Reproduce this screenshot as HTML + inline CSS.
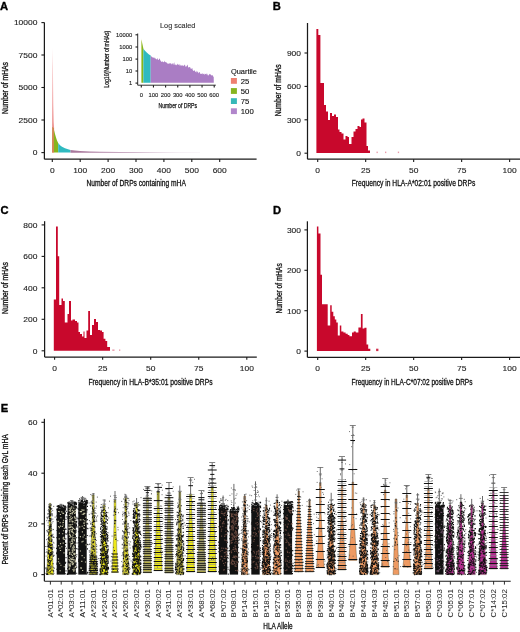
<!DOCTYPE html>
<html><head><meta charset="utf-8"><style>html,body{margin:0;padding:0;background:#fff;overflow:hidden;}svg{display:block;will-change:transform;}</style></head>
<body><svg width="520" height="632" viewBox="0 0 520 632" font-family='"Liberation Sans", sans-serif'>
<rect width="520" height="632" fill="#fff"/>
<text x="0.1" y="9.7" font-size="11.2" text-anchor="start" fill="#000" font-weight="bold" stroke="#000" stroke-width="0.35">A</text>
<text x="272.7" y="9.7" font-size="11.2" text-anchor="start" fill="#000" font-weight="bold" stroke="#000" stroke-width="0.35">B</text>
<text x="0.6" y="213.8" font-size="11.2" text-anchor="start" fill="#000" font-weight="bold" stroke="#000" stroke-width="0.35">C</text>
<text x="273.0" y="213.8" font-size="11.2" text-anchor="start" fill="#000" font-weight="bold" stroke="#000" stroke-width="0.35">D</text>
<text x="0.8" y="411.9" font-size="11.2" text-anchor="start" fill="#000" font-weight="bold" stroke="#000" stroke-width="0.35">E</text>
<defs><linearGradient id="spk" x1="0" y1="0" x2="0" y2="1"><stop offset="0" stop-color="#FBE4E4"/><stop offset="0.45" stop-color="#F4B0B0"/><stop offset="1" stop-color="#E8807C"/></linearGradient></defs>
<path d="M52.0 152.6 L52.2 70 L52.5 47.6 L52.9 65 L53.3 105 L53.7 122 L54.1 128 L54.1 152.6 Z" fill="url(#spk)"/>
<path d="M52.1 152.6 L52.2 127 L54 128 L54 152.6 Z" fill="#D08A52"/>
<path d="M54 152.6 L54 130 L55 134 L56 137.5 L57 140.5 L58.2 143 L58.2 152.6 Z" fill="#86B51C"/>
<path d="M58.2 152.6 L58.2 143 L60 145.3 L62 146.8 L65 148.3 L68 149.3 L70.5 150 L70.5 152.6 Z" fill="#2FBAC0"/>
<defs><linearGradient id="tail" x1="0" y1="0" x2="1" y2="0"><stop offset="0" stop-color="#A8789C"/><stop offset="0.5" stop-color="#B890B0"/><stop offset="1" stop-color="#E8DCE8"/></linearGradient></defs>
<path d="M70.5 152.8 L70.5 150 L75 150.6 L80 151.0 L90 151.5 L100 151.8 L120 152.0 L150 152.2 L180 152.4 L200 152.5 L200 152.8 Z" fill="url(#tail)"/>
<line x1="44.4" y1="22.5" x2="44.4" y2="159.2" stroke="#1a1a1a" stroke-width="1.25"/>
<line x1="41.4" y1="152.6" x2="44.4" y2="152.6" stroke="#1a1a1a" stroke-width="1.1"/>
<text x="37.4" y="155.4" font-size="8.0" text-anchor="end" fill="#222" textLength="4.7" lengthAdjust="spacingAndGlyphs" stroke="#222" stroke-width="0.12">0</text>
<line x1="41.4" y1="120" x2="44.4" y2="120" stroke="#1a1a1a" stroke-width="1.1"/>
<text x="37.4" y="122.8" font-size="8.0" text-anchor="end" fill="#222" textLength="18.8" lengthAdjust="spacingAndGlyphs" stroke="#222" stroke-width="0.12">2500</text>
<line x1="41.4" y1="87.5" x2="44.4" y2="87.5" stroke="#1a1a1a" stroke-width="1.1"/>
<text x="37.4" y="90.3" font-size="8.0" text-anchor="end" fill="#222" textLength="18.8" lengthAdjust="spacingAndGlyphs" stroke="#222" stroke-width="0.12">5000</text>
<line x1="41.4" y1="55" x2="44.4" y2="55" stroke="#1a1a1a" stroke-width="1.1"/>
<text x="37.4" y="57.8" font-size="8.0" text-anchor="end" fill="#222" textLength="18.8" lengthAdjust="spacingAndGlyphs" stroke="#222" stroke-width="0.12">7500</text>
<line x1="41.4" y1="22.6" x2="44.4" y2="22.6" stroke="#1a1a1a" stroke-width="1.1"/>
<text x="37.4" y="25.400000000000002" font-size="8.0" text-anchor="end" fill="#222" textLength="23.5" lengthAdjust="spacingAndGlyphs" stroke="#222" stroke-width="0.12">10000</text>
<line x1="44.4" y1="159.1" x2="256.6" y2="159.1" stroke="#1a1a1a" stroke-width="1.25"/>
<line x1="52.3" y1="159.1" x2="52.3" y2="161.9" stroke="#1a1a1a" stroke-width="1.1"/>
<text x="52.3" y="172.5" font-size="8.0" text-anchor="middle" fill="#222" textLength="4.7" lengthAdjust="spacingAndGlyphs" stroke="#222" stroke-width="0.12">0</text>
<line x1="80.19999999999999" y1="159.1" x2="80.19999999999999" y2="161.9" stroke="#1a1a1a" stroke-width="1.1"/>
<text x="80.19999999999999" y="172.5" font-size="8.0" text-anchor="middle" fill="#222" textLength="14.100000000000001" lengthAdjust="spacingAndGlyphs" stroke="#222" stroke-width="0.12">100</text>
<line x1="108.1" y1="159.1" x2="108.1" y2="161.9" stroke="#1a1a1a" stroke-width="1.1"/>
<text x="108.1" y="172.5" font-size="8.0" text-anchor="middle" fill="#222" textLength="14.100000000000001" lengthAdjust="spacingAndGlyphs" stroke="#222" stroke-width="0.12">200</text>
<line x1="136.0" y1="159.1" x2="136.0" y2="161.9" stroke="#1a1a1a" stroke-width="1.1"/>
<text x="136.0" y="172.5" font-size="8.0" text-anchor="middle" fill="#222" textLength="14.100000000000001" lengthAdjust="spacingAndGlyphs" stroke="#222" stroke-width="0.12">300</text>
<line x1="163.89999999999998" y1="159.1" x2="163.89999999999998" y2="161.9" stroke="#1a1a1a" stroke-width="1.1"/>
<text x="163.89999999999998" y="172.5" font-size="8.0" text-anchor="middle" fill="#222" textLength="14.100000000000001" lengthAdjust="spacingAndGlyphs" stroke="#222" stroke-width="0.12">400</text>
<line x1="191.8" y1="159.1" x2="191.8" y2="161.9" stroke="#1a1a1a" stroke-width="1.1"/>
<text x="191.8" y="172.5" font-size="8.0" text-anchor="middle" fill="#222" textLength="14.100000000000001" lengthAdjust="spacingAndGlyphs" stroke="#222" stroke-width="0.12">500</text>
<line x1="219.7" y1="159.1" x2="219.7" y2="161.9" stroke="#1a1a1a" stroke-width="1.1"/>
<text x="219.7" y="172.5" font-size="8.0" text-anchor="middle" fill="#222" textLength="14.100000000000001" lengthAdjust="spacingAndGlyphs" stroke="#222" stroke-width="0.12">600</text>
<text x="136.2" y="186.0" font-size="9.0" text-anchor="middle" fill="#111" textLength="99.3" lengthAdjust="spacingAndGlyphs" stroke="#111" stroke-width="0.3">Number of DRPs containing mHA</text>
<text x="7.9" y="88.0" font-size="8.4" text-anchor="middle" fill="#111" textLength="52" lengthAdjust="spacingAndGlyphs" transform="rotate(-90 7.9 88.0)" stroke="#111" stroke-width="0.3">Number of mHAs</text>
<text x="177.7" y="28.2" font-size="7.0" text-anchor="middle" fill="#333" textLength="35.4" lengthAdjust="spacingAndGlyphs" stroke="#333" stroke-width="0.12">Log scaled</text>
<path d="M141.4 82.8 L141.4 39.5 L142.4 44 L143.4 48.8 L143.4 82.8 Z" fill="#86B51C"/>
<path d="M141.3 82.8 L141.3 38 L141.6 42 Z" fill="#E8E070" opacity="0.7"/>
<path d="M143.4 82.8 L143.4 48.8 L145 50.8 L147 52.8 L149 54.5 L150.7 55.6 L150.7 82.8 Z" fill="#2FBAC0"/>
<path d="M150.7 82.8 L150.7 55.8 L151.2 56.4 L151.7 56.5 L152.2 57.3 L152.7 57.5 L153.2 57.0 L153.7 58.2 L154.2 57.2 L154.7 58.4 L155.2 57.8 L155.7 59.1 L156.2 59.1 L156.7 59.7 L157.2 57.8 L157.7 59.2 L158.2 59.9 L158.7 60.1 L159.2 58.6 L159.7 58.8 L160.2 60.1 L160.7 60.9 L161.2 61.4 L161.7 61.9 L162.2 61.5 L162.7 61.5 L163.2 62.1 L163.7 62.2 L164.2 61.9 L164.7 60.6 L165.2 62.4 L165.7 61.7 L166.2 62.6 L166.7 62.6 L167.2 63.3 L167.7 63.8 L168.2 63.2 L168.7 63.9 L169.2 63.7 L169.7 63.1 L170.2 63.8 L170.7 62.9 L171.2 63.5 L171.7 64.4 L172.2 64.2 L172.7 62.8 L173.2 64.9 L173.7 63.3 L174.2 62.3 L174.7 64.8 L175.2 65.2 L175.7 64.3 L176.2 64.8 L176.7 65.5 L177.2 63.6 L177.7 64.6 L178.2 64.9 L178.7 64.6 L179.2 64.0 L179.7 65.6 L180.2 66.0 L180.7 64.4 L181.2 65.5 L181.7 65.6 L182.2 66.0 L182.7 65.0 L183.2 65.5 L183.7 66.3 L184.2 65.3 L184.7 64.4 L185.2 65.4 L185.7 67.2 L186.2 65.6 L186.7 67.0 L187.2 65.3 L187.7 64.5 L188.2 67.7 L188.7 67.3 L189.2 66.9 L189.7 67.2 L190.2 67.2 L190.7 68.7 L191.2 68.7 L191.7 68.8 L192.2 67.8 L192.7 69.9 L193.2 70.7 L193.7 71.1 L194.2 70.0 L194.7 70.7 L195.2 71.4 L195.7 72.3 L196.2 70.5 L196.7 72.5 L197.2 72.3 L197.7 71.1 L198.2 73.5 L198.7 72.4 L199.2 72.2 L199.7 71.9 L200.2 73.5 L200.7 74.1 L201.2 74.0 L201.7 73.6 L202.2 74.4 L202.7 73.1 L203.2 73.8 L203.7 74.3 L204.2 73.5 L204.7 75.0 L205.2 73.9 L205.7 73.9 L206.2 73.2 L206.7 74.7 L207.2 73.5 L207.7 75.3 L208.2 75.4 L208.7 75.3 L209.2 73.8 L209.7 74.4 L210.2 74.2 L210.7 74.4 L211.2 75.2 L211.7 75.6 L212.2 75.1 L212.7 75.6 L213.2 76.5 L213.7 76.9 L213.8 82.8 Z" fill="#AA7DC4"/>
<line x1="137.7" y1="33.5" x2="137.7" y2="85.2" stroke="#1a1a1a" stroke-width="0.9"/>
<line x1="135.5" y1="83.1" x2="137.7" y2="83.1" stroke="#1a1a1a" stroke-width="1.1"/>
<text x="132.2" y="85.05999999999999" font-size="5.6" text-anchor="end" fill="#222" textLength="3.25" lengthAdjust="spacingAndGlyphs" stroke="#222" stroke-width="0.12">1</text>
<line x1="135.5" y1="71" x2="137.7" y2="71" stroke="#1a1a1a" stroke-width="1.1"/>
<text x="132.2" y="72.96" font-size="5.6" text-anchor="end" fill="#222" textLength="6.5" lengthAdjust="spacingAndGlyphs" stroke="#222" stroke-width="0.12">10</text>
<line x1="135.5" y1="59.1" x2="137.7" y2="59.1" stroke="#1a1a1a" stroke-width="1.1"/>
<text x="132.2" y="61.06" font-size="5.6" text-anchor="end" fill="#222" textLength="9.75" lengthAdjust="spacingAndGlyphs" stroke="#222" stroke-width="0.12">100</text>
<line x1="135.5" y1="47.0" x2="137.7" y2="47.0" stroke="#1a1a1a" stroke-width="1.1"/>
<text x="132.2" y="48.96" font-size="5.6" text-anchor="end" fill="#222" textLength="13.0" lengthAdjust="spacingAndGlyphs" stroke="#222" stroke-width="0.12">1000</text>
<line x1="135.5" y1="34.8" x2="137.7" y2="34.8" stroke="#1a1a1a" stroke-width="1.1"/>
<text x="132.2" y="36.76" font-size="5.6" text-anchor="end" fill="#222" textLength="16.25" lengthAdjust="spacingAndGlyphs" stroke="#222" stroke-width="0.12">10000</text>
<line x1="137.7" y1="85.2" x2="215.8" y2="85.2" stroke="#1a1a1a" stroke-width="0.9"/>
<line x1="141.3" y1="85.2" x2="141.3" y2="87.4" stroke="#1a1a1a" stroke-width="1.1"/>
<text x="141.3" y="96.6" font-size="5.6" text-anchor="middle" fill="#222" textLength="3.25" lengthAdjust="spacingAndGlyphs" stroke="#222" stroke-width="0.12">0</text>
<line x1="153.45000000000002" y1="85.2" x2="153.45000000000002" y2="87.4" stroke="#1a1a1a" stroke-width="1.1"/>
<text x="153.45000000000002" y="96.6" font-size="5.6" text-anchor="middle" fill="#222" textLength="9.75" lengthAdjust="spacingAndGlyphs" stroke="#222" stroke-width="0.12">100</text>
<line x1="165.60000000000002" y1="85.2" x2="165.60000000000002" y2="87.4" stroke="#1a1a1a" stroke-width="1.1"/>
<text x="165.60000000000002" y="96.6" font-size="5.6" text-anchor="middle" fill="#222" textLength="9.75" lengthAdjust="spacingAndGlyphs" stroke="#222" stroke-width="0.12">200</text>
<line x1="177.75" y1="85.2" x2="177.75" y2="87.4" stroke="#1a1a1a" stroke-width="1.1"/>
<text x="177.75" y="96.6" font-size="5.6" text-anchor="middle" fill="#222" textLength="9.75" lengthAdjust="spacingAndGlyphs" stroke="#222" stroke-width="0.12">300</text>
<line x1="189.9" y1="85.2" x2="189.9" y2="87.4" stroke="#1a1a1a" stroke-width="1.1"/>
<text x="189.9" y="96.6" font-size="5.6" text-anchor="middle" fill="#222" textLength="9.75" lengthAdjust="spacingAndGlyphs" stroke="#222" stroke-width="0.12">400</text>
<line x1="202.05" y1="85.2" x2="202.05" y2="87.4" stroke="#1a1a1a" stroke-width="1.1"/>
<text x="202.05" y="96.6" font-size="5.6" text-anchor="middle" fill="#222" textLength="9.75" lengthAdjust="spacingAndGlyphs" stroke="#222" stroke-width="0.12">500</text>
<line x1="214.20000000000002" y1="85.2" x2="214.20000000000002" y2="87.4" stroke="#1a1a1a" stroke-width="1.1"/>
<text x="214.20000000000002" y="96.6" font-size="5.6" text-anchor="middle" fill="#222" textLength="9.75" lengthAdjust="spacingAndGlyphs" stroke="#222" stroke-width="0.12">600</text>
<text x="177.8" y="107.6" font-size="6.8" text-anchor="middle" fill="#111" textLength="38.5" lengthAdjust="spacingAndGlyphs" stroke="#111" stroke-width="0.25">Number of DRPs</text>
<text x="108.6" y="59.2" font-size="6.8" text-anchor="middle" fill="#111" textLength="57" lengthAdjust="spacingAndGlyphs" transform="rotate(-90 108.6 59.2)" stroke="#111" stroke-width="0.25">Log10(Number of mHAs)</text>
<text x="230.9" y="73.6" font-size="7.0" text-anchor="start" fill="#111" textLength="26" lengthAdjust="spacingAndGlyphs" stroke="#111" stroke-width="0.12">Quartile</text>
<rect x="230.9" y="78.0" width="6" height="5.8" fill="#EE8070"/>
<text x="240.8" y="83.5" font-size="7.0" text-anchor="start" fill="#111" textLength="8.6" lengthAdjust="spacingAndGlyphs" stroke="#111" stroke-width="0.12">25</text>
<rect x="230.9" y="88.1" width="6" height="5.8" fill="#86B41E"/>
<text x="240.8" y="93.6" font-size="7.0" text-anchor="start" fill="#111" textLength="8.6" lengthAdjust="spacingAndGlyphs" stroke="#111" stroke-width="0.12">50</text>
<rect x="230.9" y="98.2" width="6" height="5.8" fill="#36B8B8"/>
<text x="240.8" y="103.7" font-size="7.0" text-anchor="start" fill="#111" textLength="8.6" lengthAdjust="spacingAndGlyphs" stroke="#111" stroke-width="0.12">75</text>
<rect x="230.9" y="108.3" width="6" height="5.8" fill="#B186CB"/>
<text x="240.8" y="113.8" font-size="7.0" text-anchor="start" fill="#111" textLength="12.899999999999999" lengthAdjust="spacingAndGlyphs" stroke="#111" stroke-width="0.12">100</text>
<path d="M316.4 153.1 L316.4 29 L318.3 29 L318.3 35.1 L320.4 35.1 L320.4 83 L324 83 L324 105 L326 105 L326 111.5 L328 111.5 L328 120 L330 120 L330 113 L332 113 L332 116 L334 116 L334 114.5 L336 114.5 L336 117 L338 117 L338 129.5 L339.5 129.5 L339.5 132 L341.5 132 L341.5 133.5 L343.5 133.5 L343.5 139.5 L345.5 139.5 L345.5 136 L347.5 136 L347.5 137 L349 137 L349 144 L351.5 144 L351.5 137 L353.5 137 L353.5 131.5 L355.5 131.5 L355.5 129 L357.5 129 L357.5 126 L359.5 126 L359.5 127 L361 127 L361 119.5 L362.5 119.5 L362.5 118.5 L364.5 118.5 L364.5 122.5 L366.5 122.5 L366.5 146 L368 146 L368 150.5 L370 150.5 L370 153.1 Z" fill="#C8082C"/>
<rect x="376.5" y="151.6" width="1.30" height="1.50" fill="#C8082C" opacity="0.4"/>
<rect x="385" y="151.6" width="1.30" height="1.50" fill="#C8082C" opacity="0.4"/>
<rect x="397.8" y="151.6" width="1.30" height="1.50" fill="#C8082C" opacity="0.4"/>
<line x1="307.5" y1="23" x2="307.5" y2="159.2" stroke="#1a1a1a" stroke-width="1.25"/>
<line x1="304.5" y1="153.2" x2="307.5" y2="153.2" stroke="#1a1a1a" stroke-width="1.1"/>
<text x="301.0" y="156.0" font-size="8.0" text-anchor="end" fill="#222" textLength="4.7" lengthAdjust="spacingAndGlyphs" stroke="#222" stroke-width="0.12">0</text>
<line x1="304.5" y1="119.8" x2="307.5" y2="119.8" stroke="#1a1a1a" stroke-width="1.1"/>
<text x="301.0" y="122.6" font-size="8.0" text-anchor="end" fill="#222" textLength="14.100000000000001" lengthAdjust="spacingAndGlyphs" stroke="#222" stroke-width="0.12">300</text>
<line x1="304.5" y1="86.4" x2="307.5" y2="86.4" stroke="#1a1a1a" stroke-width="1.1"/>
<text x="301.0" y="89.2" font-size="8.0" text-anchor="end" fill="#222" textLength="14.100000000000001" lengthAdjust="spacingAndGlyphs" stroke="#222" stroke-width="0.12">600</text>
<line x1="304.5" y1="53.0" x2="307.5" y2="53.0" stroke="#1a1a1a" stroke-width="1.1"/>
<text x="301.0" y="55.8" font-size="8.0" text-anchor="end" fill="#222" textLength="14.100000000000001" lengthAdjust="spacingAndGlyphs" stroke="#222" stroke-width="0.12">900</text>
<line x1="307.5" y1="159.2" x2="520" y2="159.2" stroke="#1a1a1a" stroke-width="1.25"/>
<line x1="317.7" y1="159.2" x2="317.7" y2="162.0" stroke="#1a1a1a" stroke-width="1.1"/>
<text x="317.7" y="172.5" font-size="8.0" text-anchor="middle" fill="#222" textLength="4.7" lengthAdjust="spacingAndGlyphs" stroke="#222" stroke-width="0.12">0</text>
<line x1="365.68" y1="159.2" x2="365.68" y2="162.0" stroke="#1a1a1a" stroke-width="1.1"/>
<text x="365.68" y="172.5" font-size="8.0" text-anchor="middle" fill="#222" textLength="9.4" lengthAdjust="spacingAndGlyphs" stroke="#222" stroke-width="0.12">25</text>
<line x1="413.65999999999997" y1="159.2" x2="413.65999999999997" y2="162.0" stroke="#1a1a1a" stroke-width="1.1"/>
<text x="413.65999999999997" y="172.5" font-size="8.0" text-anchor="middle" fill="#222" textLength="9.4" lengthAdjust="spacingAndGlyphs" stroke="#222" stroke-width="0.12">50</text>
<line x1="461.64" y1="159.2" x2="461.64" y2="162.0" stroke="#1a1a1a" stroke-width="1.1"/>
<text x="461.64" y="172.5" font-size="8.0" text-anchor="middle" fill="#222" textLength="9.4" lengthAdjust="spacingAndGlyphs" stroke="#222" stroke-width="0.12">75</text>
<line x1="509.62" y1="159.2" x2="509.62" y2="162.0" stroke="#1a1a1a" stroke-width="1.1"/>
<text x="509.62" y="172.5" font-size="8.0" text-anchor="middle" fill="#222" textLength="14.100000000000001" lengthAdjust="spacingAndGlyphs" stroke="#222" stroke-width="0.12">100</text>
<text x="413.5" y="186.1" font-size="9.0" text-anchor="middle" fill="#111" textLength="123.5" lengthAdjust="spacingAndGlyphs" stroke="#111" stroke-width="0.3">Frequency in HLA-A*02:01 positive DRPs</text>
<text x="281.0" y="90.3" font-size="8.4" text-anchor="middle" fill="#111" textLength="52" lengthAdjust="spacingAndGlyphs" transform="rotate(-90 281.0 90.3)" stroke="#111" stroke-width="0.3">Number of mHAs</text>
<path d="M53.8 350.8 L53.8 299.5 L56 299.5 L56 226.4 L57.8 226.4 L57.8 256.3 L59.2 256.3 L59.2 305 L61.5 305 L61.5 298.5 L63 298.5 L63 301 L64.8 301 L64.8 322.5 L67.5 322.5 L67.5 314 L69 314 L69 301 L71 301 L71 320.5 L72.5 320.5 L72.5 319.5 L75 319.5 L75 321 L77 321 L77 322.5 L78.5 322.5 L78.5 332 L80 332 L80 334 L82 334 L82 336.5 L83.5 336.5 L83.5 331.5 L84.5 331.5 L84.5 338 L86.5 338 L86.5 330.5 L88.2 330.5 L88.2 311 L90 311 L90 335 L92 335 L92 325 L94 325 L94 319 L96 319 L96 322 L98 322 L98 330 L100 330 L100 330.5 L102 330.5 L102 332 L103.6 332 L103.6 338.8 L105.4 338.8 L105.4 341.1 L107.2 341.1 L107.2 346.9 L110 346.9 L110 350.8 Z" fill="#C8082C"/>
<rect x="112.3" y="349.5" width="2.20" height="1.30" fill="#C8082C" opacity="0.45"/>
<rect x="119" y="349.5" width="1.30" height="1.30" fill="#C8082C" opacity="0.45"/>
<line x1="44.6" y1="221.2" x2="44.6" y2="357.0" stroke="#1a1a1a" stroke-width="1.25"/>
<line x1="41.6" y1="350.8" x2="44.6" y2="350.8" stroke="#1a1a1a" stroke-width="1.1"/>
<text x="37.4" y="353.6" font-size="8.0" text-anchor="end" fill="#222" textLength="4.7" lengthAdjust="spacingAndGlyphs" stroke="#222" stroke-width="0.12">0</text>
<line x1="41.6" y1="319.3" x2="44.6" y2="319.3" stroke="#1a1a1a" stroke-width="1.1"/>
<text x="37.4" y="322.1" font-size="8.0" text-anchor="end" fill="#222" textLength="14.100000000000001" lengthAdjust="spacingAndGlyphs" stroke="#222" stroke-width="0.12">200</text>
<line x1="41.6" y1="287.8" x2="44.6" y2="287.8" stroke="#1a1a1a" stroke-width="1.1"/>
<text x="37.4" y="290.6" font-size="8.0" text-anchor="end" fill="#222" textLength="14.100000000000001" lengthAdjust="spacingAndGlyphs" stroke="#222" stroke-width="0.12">400</text>
<line x1="41.6" y1="256.4" x2="44.6" y2="256.4" stroke="#1a1a1a" stroke-width="1.1"/>
<text x="37.4" y="259.2" font-size="8.0" text-anchor="end" fill="#222" textLength="14.100000000000001" lengthAdjust="spacingAndGlyphs" stroke="#222" stroke-width="0.12">600</text>
<line x1="41.6" y1="224.9" x2="44.6" y2="224.9" stroke="#1a1a1a" stroke-width="1.1"/>
<text x="37.4" y="227.70000000000002" font-size="8.0" text-anchor="end" fill="#222" textLength="14.100000000000001" lengthAdjust="spacingAndGlyphs" stroke="#222" stroke-width="0.12">800</text>
<line x1="44.6" y1="357.0" x2="256.8" y2="357.0" stroke="#1a1a1a" stroke-width="1.25"/>
<line x1="54.6" y1="357.0" x2="54.6" y2="359.8" stroke="#1a1a1a" stroke-width="1.1"/>
<text x="54.6" y="370.5" font-size="8.0" text-anchor="middle" fill="#222" textLength="4.7" lengthAdjust="spacingAndGlyphs" stroke="#222" stroke-width="0.12">0</text>
<line x1="102.65" y1="357.0" x2="102.65" y2="359.8" stroke="#1a1a1a" stroke-width="1.1"/>
<text x="102.65" y="370.5" font-size="8.0" text-anchor="middle" fill="#222" textLength="9.4" lengthAdjust="spacingAndGlyphs" stroke="#222" stroke-width="0.12">25</text>
<line x1="150.7" y1="357.0" x2="150.7" y2="359.8" stroke="#1a1a1a" stroke-width="1.1"/>
<text x="150.7" y="370.5" font-size="8.0" text-anchor="middle" fill="#222" textLength="9.4" lengthAdjust="spacingAndGlyphs" stroke="#222" stroke-width="0.12">50</text>
<line x1="198.74999999999997" y1="357.0" x2="198.74999999999997" y2="359.8" stroke="#1a1a1a" stroke-width="1.1"/>
<text x="198.74999999999997" y="370.5" font-size="8.0" text-anchor="middle" fill="#222" textLength="9.4" lengthAdjust="spacingAndGlyphs" stroke="#222" stroke-width="0.12">75</text>
<line x1="246.79999999999998" y1="357.0" x2="246.79999999999998" y2="359.8" stroke="#1a1a1a" stroke-width="1.1"/>
<text x="246.79999999999998" y="370.5" font-size="8.0" text-anchor="middle" fill="#222" textLength="14.100000000000001" lengthAdjust="spacingAndGlyphs" stroke="#222" stroke-width="0.12">100</text>
<text x="150.5" y="384.6" font-size="9.0" text-anchor="middle" fill="#111" textLength="124" lengthAdjust="spacingAndGlyphs" stroke="#111" stroke-width="0.3">Frequency in HLA-B*35:01 positive DRPs</text>
<text x="8.2" y="288" font-size="8.4" text-anchor="middle" fill="#111" textLength="52" lengthAdjust="spacingAndGlyphs" transform="rotate(-90 8.2 288)" stroke="#111" stroke-width="0.3">Number of mHAs</text>
<path d="M316.9 351.1 L316.9 226.4 L318.4 226.4 L318.4 233.5 L320.5 233.5 L320.5 274.8 L322.0 274.8 L322.0 304.2 L327.7 304.2 L327.7 325.5 L330.2 325.5 L330.2 305.2 L331.7 305.2 L331.7 311.8 L333.3 311.8 L333.3 316.3 L334.8 316.3 L334.8 319.4 L336.3 319.4 L336.3 322.4 L337.8 322.4 L337.8 335.6 L339.8 335.6 L339.8 325.5 L341.3 325.5 L341.3 331.6 L343.4 331.6 L343.4 332.5 L345.6 332.5 L345.6 333.8 L347.7 333.8 L347.7 335 L349.4 335 L349.4 336.3 L352 336.3 L352 332.5 L353.7 332.5 L353.7 331.6 L355.8 331.6 L355.8 332.5 L358.4 332.5 L358.4 327.4 L360.9 327.4 L360.9 314.1 L362.6 314.1 L362.6 328.6 L364.4 328.6 L364.4 327.8 L366.5 327.8 L366.5 344.4 L368.2 344.4 L368.2 348.7 L370.3 348.7 L370.3 351.1 Z" fill="#C8082C"/>
<rect x="376.1" y="348.7" width="2.30" height="2.40" fill="#C8082C" opacity="0.85"/>
<line x1="307.4" y1="221.3" x2="307.4" y2="357.3" stroke="#1a1a1a" stroke-width="1.25"/>
<line x1="304.4" y1="351.1" x2="307.4" y2="351.1" stroke="#1a1a1a" stroke-width="1.1"/>
<text x="301.0" y="353.90000000000003" font-size="8.0" text-anchor="end" fill="#222" textLength="4.7" lengthAdjust="spacingAndGlyphs" stroke="#222" stroke-width="0.12">0</text>
<line x1="304.4" y1="310.7" x2="307.4" y2="310.7" stroke="#1a1a1a" stroke-width="1.1"/>
<text x="301.0" y="313.5" font-size="8.0" text-anchor="end" fill="#222" textLength="14.100000000000001" lengthAdjust="spacingAndGlyphs" stroke="#222" stroke-width="0.12">100</text>
<line x1="304.4" y1="270.3" x2="307.4" y2="270.3" stroke="#1a1a1a" stroke-width="1.1"/>
<text x="301.0" y="273.1" font-size="8.0" text-anchor="end" fill="#222" textLength="14.100000000000001" lengthAdjust="spacingAndGlyphs" stroke="#222" stroke-width="0.12">200</text>
<line x1="304.4" y1="229.9" x2="307.4" y2="229.9" stroke="#1a1a1a" stroke-width="1.1"/>
<text x="301.0" y="232.70000000000002" font-size="8.0" text-anchor="end" fill="#222" textLength="14.100000000000001" lengthAdjust="spacingAndGlyphs" stroke="#222" stroke-width="0.12">300</text>
<line x1="307.4" y1="357.3" x2="520" y2="357.3" stroke="#1a1a1a" stroke-width="1.25"/>
<line x1="317.7" y1="357.3" x2="317.7" y2="360.1" stroke="#1a1a1a" stroke-width="1.1"/>
<text x="317.7" y="370.5" font-size="8.0" text-anchor="middle" fill="#222" textLength="4.7" lengthAdjust="spacingAndGlyphs" stroke="#222" stroke-width="0.12">0</text>
<line x1="365.68" y1="357.3" x2="365.68" y2="360.1" stroke="#1a1a1a" stroke-width="1.1"/>
<text x="365.68" y="370.5" font-size="8.0" text-anchor="middle" fill="#222" textLength="9.4" lengthAdjust="spacingAndGlyphs" stroke="#222" stroke-width="0.12">25</text>
<line x1="413.65999999999997" y1="357.3" x2="413.65999999999997" y2="360.1" stroke="#1a1a1a" stroke-width="1.1"/>
<text x="413.65999999999997" y="370.5" font-size="8.0" text-anchor="middle" fill="#222" textLength="9.4" lengthAdjust="spacingAndGlyphs" stroke="#222" stroke-width="0.12">50</text>
<line x1="461.64" y1="357.3" x2="461.64" y2="360.1" stroke="#1a1a1a" stroke-width="1.1"/>
<text x="461.64" y="370.5" font-size="8.0" text-anchor="middle" fill="#222" textLength="9.4" lengthAdjust="spacingAndGlyphs" stroke="#222" stroke-width="0.12">75</text>
<line x1="509.62" y1="357.3" x2="509.62" y2="360.1" stroke="#1a1a1a" stroke-width="1.1"/>
<text x="509.62" y="370.5" font-size="8.0" text-anchor="middle" fill="#222" textLength="14.100000000000001" lengthAdjust="spacingAndGlyphs" stroke="#222" stroke-width="0.12">100</text>
<text x="412.0" y="384.6" font-size="9.0" text-anchor="middle" fill="#111" textLength="121" lengthAdjust="spacingAndGlyphs" stroke="#111" stroke-width="0.3">Frequency in HLA-C*07:02 positive DRPs</text>
<text x="281.6" y="288.4" font-size="8.4" text-anchor="middle" fill="#111" textLength="50.4" lengthAdjust="spacingAndGlyphs" transform="rotate(-90 281.6 288.4)" stroke="#111" stroke-width="0.3">Number of mHAs</text>
<line x1="44.4" y1="418.8" x2="44.4" y2="581.2" stroke="#1a1a1a" stroke-width="1.25"/>
<line x1="41.4" y1="574.6" x2="44.4" y2="574.6" stroke="#1a1a1a" stroke-width="1.1"/>
<text x="37.4" y="577.4" font-size="8.0" text-anchor="end" fill="#222" textLength="4.7" lengthAdjust="spacingAndGlyphs" stroke="#222" stroke-width="0.12">0</text>
<line x1="41.4" y1="523.9" x2="44.4" y2="523.9" stroke="#1a1a1a" stroke-width="1.1"/>
<text x="37.4" y="526.6999999999999" font-size="8.0" text-anchor="end" fill="#222" textLength="9.4" lengthAdjust="spacingAndGlyphs" stroke="#222" stroke-width="0.12">20</text>
<line x1="41.4" y1="473.2" x2="44.4" y2="473.2" stroke="#1a1a1a" stroke-width="1.1"/>
<text x="37.4" y="476.0" font-size="8.0" text-anchor="end" fill="#222" textLength="9.4" lengthAdjust="spacingAndGlyphs" stroke="#222" stroke-width="0.12">40</text>
<line x1="41.4" y1="422.3" x2="44.4" y2="422.3" stroke="#1a1a1a" stroke-width="1.1"/>
<text x="37.4" y="425.1" font-size="8.0" text-anchor="end" fill="#222" textLength="9.4" lengthAdjust="spacingAndGlyphs" stroke="#222" stroke-width="0.12">60</text>
<line x1="44.4" y1="581.2" x2="510.7" y2="581.2" stroke="#1a1a1a" stroke-width="1.1"/>
<line x1="50.4" y1="581.2" x2="50.4" y2="584.6" stroke="#1a1a1a" stroke-width="0.9"/>
<text x="52.6" y="589.2" font-size="6.6" text-anchor="end" fill="#2a2a2a" textLength="28.2" lengthAdjust="spacingAndGlyphs" transform="rotate(-90 52.6 589.2)" stroke="#2a2a2a" stroke-width="0.05">A*01:01</text>
<line x1="61.21" y1="581.2" x2="61.21" y2="584.6" stroke="#1a1a1a" stroke-width="0.9"/>
<text x="63.410000000000004" y="589.2" font-size="6.6" text-anchor="end" fill="#2a2a2a" textLength="28.2" lengthAdjust="spacingAndGlyphs" transform="rotate(-90 63.410000000000004 589.2)" stroke="#2a2a2a" stroke-width="0.05">A*02:01</text>
<line x1="72.02" y1="581.2" x2="72.02" y2="584.6" stroke="#1a1a1a" stroke-width="0.9"/>
<text x="74.22" y="589.2" font-size="6.6" text-anchor="end" fill="#2a2a2a" textLength="28.2" lengthAdjust="spacingAndGlyphs" transform="rotate(-90 74.22 589.2)" stroke="#2a2a2a" stroke-width="0.05">A*03:01</text>
<line x1="82.83" y1="581.2" x2="82.83" y2="584.6" stroke="#1a1a1a" stroke-width="0.9"/>
<text x="85.03" y="589.2" font-size="6.6" text-anchor="end" fill="#2a2a2a" textLength="28.2" lengthAdjust="spacingAndGlyphs" transform="rotate(-90 85.03 589.2)" stroke="#2a2a2a" stroke-width="0.05">A*11:01</text>
<line x1="93.64" y1="581.2" x2="93.64" y2="584.6" stroke="#1a1a1a" stroke-width="0.9"/>
<text x="95.84" y="589.2" font-size="6.6" text-anchor="end" fill="#2a2a2a" textLength="28.2" lengthAdjust="spacingAndGlyphs" transform="rotate(-90 95.84 589.2)" stroke="#2a2a2a" stroke-width="0.05">A*23:01</text>
<line x1="104.45" y1="581.2" x2="104.45" y2="584.6" stroke="#1a1a1a" stroke-width="0.9"/>
<text x="106.65" y="589.2" font-size="6.6" text-anchor="end" fill="#2a2a2a" textLength="28.2" lengthAdjust="spacingAndGlyphs" transform="rotate(-90 106.65 589.2)" stroke="#2a2a2a" stroke-width="0.05">A*24:02</text>
<line x1="115.25999999999999" y1="581.2" x2="115.25999999999999" y2="584.6" stroke="#1a1a1a" stroke-width="0.9"/>
<text x="117.46" y="589.2" font-size="6.6" text-anchor="end" fill="#2a2a2a" textLength="28.2" lengthAdjust="spacingAndGlyphs" transform="rotate(-90 117.46 589.2)" stroke="#2a2a2a" stroke-width="0.05">A*25:01</text>
<line x1="126.07" y1="581.2" x2="126.07" y2="584.6" stroke="#1a1a1a" stroke-width="0.9"/>
<text x="128.26999999999998" y="589.2" font-size="6.6" text-anchor="end" fill="#2a2a2a" textLength="28.2" lengthAdjust="spacingAndGlyphs" transform="rotate(-90 128.26999999999998 589.2)" stroke="#2a2a2a" stroke-width="0.05">A*26:01</text>
<line x1="136.88" y1="581.2" x2="136.88" y2="584.6" stroke="#1a1a1a" stroke-width="0.9"/>
<text x="139.07999999999998" y="589.2" font-size="6.6" text-anchor="end" fill="#2a2a2a" textLength="28.2" lengthAdjust="spacingAndGlyphs" transform="rotate(-90 139.07999999999998 589.2)" stroke="#2a2a2a" stroke-width="0.05">A*29:02</text>
<line x1="147.69" y1="581.2" x2="147.69" y2="584.6" stroke="#1a1a1a" stroke-width="0.9"/>
<text x="149.89" y="589.2" font-size="6.6" text-anchor="end" fill="#2a2a2a" textLength="28.2" lengthAdjust="spacingAndGlyphs" transform="rotate(-90 149.89 589.2)" stroke="#2a2a2a" stroke-width="0.05">A*30:01</text>
<line x1="158.5" y1="581.2" x2="158.5" y2="584.6" stroke="#1a1a1a" stroke-width="0.9"/>
<text x="160.7" y="589.2" font-size="6.6" text-anchor="end" fill="#2a2a2a" textLength="28.2" lengthAdjust="spacingAndGlyphs" transform="rotate(-90 160.7 589.2)" stroke="#2a2a2a" stroke-width="0.05">A*30:02</text>
<line x1="169.31" y1="581.2" x2="169.31" y2="584.6" stroke="#1a1a1a" stroke-width="0.9"/>
<text x="171.51" y="589.2" font-size="6.6" text-anchor="end" fill="#2a2a2a" textLength="28.2" lengthAdjust="spacingAndGlyphs" transform="rotate(-90 171.51 589.2)" stroke="#2a2a2a" stroke-width="0.05">A*31:01</text>
<line x1="180.12" y1="581.2" x2="180.12" y2="584.6" stroke="#1a1a1a" stroke-width="0.9"/>
<text x="182.32" y="589.2" font-size="6.6" text-anchor="end" fill="#2a2a2a" textLength="28.2" lengthAdjust="spacingAndGlyphs" transform="rotate(-90 182.32 589.2)" stroke="#2a2a2a" stroke-width="0.05">A*32:01</text>
<line x1="190.93" y1="581.2" x2="190.93" y2="584.6" stroke="#1a1a1a" stroke-width="0.9"/>
<text x="193.13" y="589.2" font-size="6.6" text-anchor="end" fill="#2a2a2a" textLength="28.2" lengthAdjust="spacingAndGlyphs" transform="rotate(-90 193.13 589.2)" stroke="#2a2a2a" stroke-width="0.05">A*33:01</text>
<line x1="201.74" y1="581.2" x2="201.74" y2="584.6" stroke="#1a1a1a" stroke-width="0.9"/>
<text x="203.94" y="589.2" font-size="6.6" text-anchor="end" fill="#2a2a2a" textLength="28.2" lengthAdjust="spacingAndGlyphs" transform="rotate(-90 203.94 589.2)" stroke="#2a2a2a" stroke-width="0.05">A*68:01</text>
<line x1="212.55" y1="581.2" x2="212.55" y2="584.6" stroke="#1a1a1a" stroke-width="0.9"/>
<text x="214.75" y="589.2" font-size="6.6" text-anchor="end" fill="#2a2a2a" textLength="28.2" lengthAdjust="spacingAndGlyphs" transform="rotate(-90 214.75 589.2)" stroke="#2a2a2a" stroke-width="0.05">A*68:02</text>
<line x1="223.36" y1="581.2" x2="223.36" y2="584.6" stroke="#1a1a1a" stroke-width="0.9"/>
<text x="225.56" y="589.2" font-size="6.6" text-anchor="end" fill="#2a2a2a" textLength="28.2" lengthAdjust="spacingAndGlyphs" transform="rotate(-90 225.56 589.2)" stroke="#2a2a2a" stroke-width="0.05">B*07:02</text>
<line x1="234.17000000000002" y1="581.2" x2="234.17000000000002" y2="584.6" stroke="#1a1a1a" stroke-width="0.9"/>
<text x="236.37" y="589.2" font-size="6.6" text-anchor="end" fill="#2a2a2a" textLength="28.2" lengthAdjust="spacingAndGlyphs" transform="rotate(-90 236.37 589.2)" stroke="#2a2a2a" stroke-width="0.05">B*08:01</text>
<line x1="244.98000000000002" y1="581.2" x2="244.98000000000002" y2="584.6" stroke="#1a1a1a" stroke-width="0.9"/>
<text x="247.18" y="589.2" font-size="6.6" text-anchor="end" fill="#2a2a2a" textLength="28.2" lengthAdjust="spacingAndGlyphs" transform="rotate(-90 247.18 589.2)" stroke="#2a2a2a" stroke-width="0.05">B*14:02</text>
<line x1="255.79000000000002" y1="581.2" x2="255.79000000000002" y2="584.6" stroke="#1a1a1a" stroke-width="0.9"/>
<text x="257.99" y="589.2" font-size="6.6" text-anchor="end" fill="#2a2a2a" textLength="28.2" lengthAdjust="spacingAndGlyphs" transform="rotate(-90 257.99 589.2)" stroke="#2a2a2a" stroke-width="0.05">B*15:01</text>
<line x1="266.6" y1="581.2" x2="266.6" y2="584.6" stroke="#1a1a1a" stroke-width="0.9"/>
<text x="268.8" y="589.2" font-size="6.6" text-anchor="end" fill="#2a2a2a" textLength="28.2" lengthAdjust="spacingAndGlyphs" transform="rotate(-90 268.8 589.2)" stroke="#2a2a2a" stroke-width="0.05">B*18:01</text>
<line x1="277.41" y1="581.2" x2="277.41" y2="584.6" stroke="#1a1a1a" stroke-width="0.9"/>
<text x="279.61" y="589.2" font-size="6.6" text-anchor="end" fill="#2a2a2a" textLength="28.2" lengthAdjust="spacingAndGlyphs" transform="rotate(-90 279.61 589.2)" stroke="#2a2a2a" stroke-width="0.05">B*27:05</text>
<line x1="288.22" y1="581.2" x2="288.22" y2="584.6" stroke="#1a1a1a" stroke-width="0.9"/>
<text x="290.42" y="589.2" font-size="6.6" text-anchor="end" fill="#2a2a2a" textLength="28.2" lengthAdjust="spacingAndGlyphs" transform="rotate(-90 290.42 589.2)" stroke="#2a2a2a" stroke-width="0.05">B*35:01</text>
<line x1="299.03000000000003" y1="581.2" x2="299.03000000000003" y2="584.6" stroke="#1a1a1a" stroke-width="0.9"/>
<text x="301.23" y="589.2" font-size="6.6" text-anchor="end" fill="#2a2a2a" textLength="28.2" lengthAdjust="spacingAndGlyphs" transform="rotate(-90 301.23 589.2)" stroke="#2a2a2a" stroke-width="0.05">B*35:03</text>
<line x1="309.84" y1="581.2" x2="309.84" y2="584.6" stroke="#1a1a1a" stroke-width="0.9"/>
<text x="312.03999999999996" y="589.2" font-size="6.6" text-anchor="end" fill="#2a2a2a" textLength="28.2" lengthAdjust="spacingAndGlyphs" transform="rotate(-90 312.03999999999996 589.2)" stroke="#2a2a2a" stroke-width="0.05">B*38:01</text>
<line x1="320.65" y1="581.2" x2="320.65" y2="584.6" stroke="#1a1a1a" stroke-width="0.9"/>
<text x="322.84999999999997" y="589.2" font-size="6.6" text-anchor="end" fill="#2a2a2a" textLength="28.2" lengthAdjust="spacingAndGlyphs" transform="rotate(-90 322.84999999999997 589.2)" stroke="#2a2a2a" stroke-width="0.05">B*39:01</text>
<line x1="331.46" y1="581.2" x2="331.46" y2="584.6" stroke="#1a1a1a" stroke-width="0.9"/>
<text x="333.65999999999997" y="589.2" font-size="6.6" text-anchor="end" fill="#2a2a2a" textLength="28.2" lengthAdjust="spacingAndGlyphs" transform="rotate(-90 333.65999999999997 589.2)" stroke="#2a2a2a" stroke-width="0.05">B*40:01</text>
<line x1="342.27" y1="581.2" x2="342.27" y2="584.6" stroke="#1a1a1a" stroke-width="0.9"/>
<text x="344.46999999999997" y="589.2" font-size="6.6" text-anchor="end" fill="#2a2a2a" textLength="28.2" lengthAdjust="spacingAndGlyphs" transform="rotate(-90 344.46999999999997 589.2)" stroke="#2a2a2a" stroke-width="0.05">B*40:02</text>
<line x1="353.08" y1="581.2" x2="353.08" y2="584.6" stroke="#1a1a1a" stroke-width="0.9"/>
<text x="355.28" y="589.2" font-size="6.6" text-anchor="end" fill="#2a2a2a" textLength="28.2" lengthAdjust="spacingAndGlyphs" transform="rotate(-90 355.28 589.2)" stroke="#2a2a2a" stroke-width="0.05">B*42:01</text>
<line x1="363.89" y1="581.2" x2="363.89" y2="584.6" stroke="#1a1a1a" stroke-width="0.9"/>
<text x="366.09" y="589.2" font-size="6.6" text-anchor="end" fill="#2a2a2a" textLength="28.2" lengthAdjust="spacingAndGlyphs" transform="rotate(-90 366.09 589.2)" stroke="#2a2a2a" stroke-width="0.05">B*44:02</text>
<line x1="374.7" y1="581.2" x2="374.7" y2="584.6" stroke="#1a1a1a" stroke-width="0.9"/>
<text x="376.9" y="589.2" font-size="6.6" text-anchor="end" fill="#2a2a2a" textLength="28.2" lengthAdjust="spacingAndGlyphs" transform="rotate(-90 376.9 589.2)" stroke="#2a2a2a" stroke-width="0.05">B*44:03</text>
<line x1="385.51" y1="581.2" x2="385.51" y2="584.6" stroke="#1a1a1a" stroke-width="0.9"/>
<text x="387.71" y="589.2" font-size="6.6" text-anchor="end" fill="#2a2a2a" textLength="28.2" lengthAdjust="spacingAndGlyphs" transform="rotate(-90 387.71 589.2)" stroke="#2a2a2a" stroke-width="0.05">B*45:01</text>
<line x1="396.32" y1="581.2" x2="396.32" y2="584.6" stroke="#1a1a1a" stroke-width="0.9"/>
<text x="398.52" y="589.2" font-size="6.6" text-anchor="end" fill="#2a2a2a" textLength="28.2" lengthAdjust="spacingAndGlyphs" transform="rotate(-90 398.52 589.2)" stroke="#2a2a2a" stroke-width="0.05">B*51:01</text>
<line x1="407.13" y1="581.2" x2="407.13" y2="584.6" stroke="#1a1a1a" stroke-width="0.9"/>
<text x="409.33" y="589.2" font-size="6.6" text-anchor="end" fill="#2a2a2a" textLength="28.2" lengthAdjust="spacingAndGlyphs" transform="rotate(-90 409.33 589.2)" stroke="#2a2a2a" stroke-width="0.05">B*53:02</text>
<line x1="417.94" y1="581.2" x2="417.94" y2="584.6" stroke="#1a1a1a" stroke-width="0.9"/>
<text x="420.14" y="589.2" font-size="6.6" text-anchor="end" fill="#2a2a2a" textLength="28.2" lengthAdjust="spacingAndGlyphs" transform="rotate(-90 420.14 589.2)" stroke="#2a2a2a" stroke-width="0.05">B*57:01</text>
<line x1="428.75" y1="581.2" x2="428.75" y2="584.6" stroke="#1a1a1a" stroke-width="0.9"/>
<text x="430.95" y="589.2" font-size="6.6" text-anchor="end" fill="#2a2a2a" textLength="28.2" lengthAdjust="spacingAndGlyphs" transform="rotate(-90 430.95 589.2)" stroke="#2a2a2a" stroke-width="0.05">B*58:01</text>
<line x1="439.56" y1="581.2" x2="439.56" y2="584.6" stroke="#1a1a1a" stroke-width="0.9"/>
<text x="441.76" y="589.2" font-size="6.6" text-anchor="end" fill="#2a2a2a" textLength="28.2" lengthAdjust="spacingAndGlyphs" transform="rotate(-90 441.76 589.2)" stroke="#2a2a2a" stroke-width="0.05">C*03:03</text>
<line x1="450.37" y1="581.2" x2="450.37" y2="584.6" stroke="#1a1a1a" stroke-width="0.9"/>
<text x="452.57" y="589.2" font-size="6.6" text-anchor="end" fill="#2a2a2a" textLength="28.2" lengthAdjust="spacingAndGlyphs" transform="rotate(-90 452.57 589.2)" stroke="#2a2a2a" stroke-width="0.05">C*05:01</text>
<line x1="461.18" y1="581.2" x2="461.18" y2="584.6" stroke="#1a1a1a" stroke-width="0.9"/>
<text x="463.38" y="589.2" font-size="6.6" text-anchor="end" fill="#2a2a2a" textLength="28.2" lengthAdjust="spacingAndGlyphs" transform="rotate(-90 463.38 589.2)" stroke="#2a2a2a" stroke-width="0.05">C*06:02</text>
<line x1="471.99" y1="581.2" x2="471.99" y2="584.6" stroke="#1a1a1a" stroke-width="0.9"/>
<text x="474.19" y="589.2" font-size="6.6" text-anchor="end" fill="#2a2a2a" textLength="28.2" lengthAdjust="spacingAndGlyphs" transform="rotate(-90 474.19 589.2)" stroke="#2a2a2a" stroke-width="0.05">C*07:01</text>
<line x1="482.8" y1="581.2" x2="482.8" y2="584.6" stroke="#1a1a1a" stroke-width="0.9"/>
<text x="485.0" y="589.2" font-size="6.6" text-anchor="end" fill="#2a2a2a" textLength="28.2" lengthAdjust="spacingAndGlyphs" transform="rotate(-90 485.0 589.2)" stroke="#2a2a2a" stroke-width="0.05">C*07:02</text>
<line x1="493.61" y1="581.2" x2="493.61" y2="584.6" stroke="#1a1a1a" stroke-width="0.9"/>
<text x="495.81" y="589.2" font-size="6.6" text-anchor="end" fill="#2a2a2a" textLength="28.2" lengthAdjust="spacingAndGlyphs" transform="rotate(-90 495.81 589.2)" stroke="#2a2a2a" stroke-width="0.05">C*14:02</text>
<line x1="504.42" y1="581.2" x2="504.42" y2="584.6" stroke="#1a1a1a" stroke-width="0.9"/>
<text x="506.62" y="589.2" font-size="6.6" text-anchor="end" fill="#2a2a2a" textLength="28.2" lengthAdjust="spacingAndGlyphs" transform="rotate(-90 506.62 589.2)" stroke="#2a2a2a" stroke-width="0.05">C*15:02</text>
<text x="278" y="628.6" font-size="9.0" text-anchor="middle" fill="#111" textLength="29.4" lengthAdjust="spacingAndGlyphs" stroke="#111" stroke-width="0.3">HLA Allele</text>
<text x="7.9" y="499.4" font-size="8.4" text-anchor="middle" fill="#111" textLength="130.4" lengthAdjust="spacingAndGlyphs" transform="rotate(-90 7.9 499.4)" stroke="#111" stroke-width="0.3">Percent of DRPs containing each GvL mHA</text>
<path d="M49.2 503.4 L49.2 506.4 L49.2 509.3 L49.2 512.3 L49.2 515.3 L49.2 518.2 L49.2 521.2 L49.1 524.2 L49.0 527.1 L48.8 530.1 L48.7 533.1 L48.5 536.0 L48.4 539.0 L48.3 542.0 L48.1 544.9 L48.0 547.9 L47.8 550.9 L47.7 553.8 L47.6 556.8 L47.4 559.8 L47.3 562.7 L47.1 565.7 L47.0 568.7 L46.8 571.6 L46.7 574.6 L53.5 574.6 L53.4 571.6 L53.2 568.7 L53.1 565.7 L52.9 562.7 L52.8 559.8 L52.6 556.8 L52.5 553.8 L52.4 550.9 L52.2 547.9 L52.1 544.9 L51.9 542.0 L51.8 539.0 L51.7 536.0 L51.5 533.1 L51.4 530.1 L51.2 527.1 L51.1 524.2 L51.0 521.2 L51.0 518.2 L51.0 515.3 L51.0 512.3 L51.0 509.3 L51.0 506.4 L51.0 503.4Z M103.2 505.0 L103.2 507.9 L103.2 510.8 L103.2 513.7 L103.2 516.6 L103.2 519.5 L103.2 522.4 L103.0 525.3 L102.9 528.2 L102.7 531.1 L102.6 534.0 L102.4 536.9 L102.2 539.8 L102.1 542.7 L101.9 545.6 L101.8 548.5 L101.6 551.4 L101.4 554.3 L101.3 557.2 L101.1 560.1 L101.0 563.0 L100.8 565.9 L100.6 568.8 L100.5 571.7 L100.3 574.6 L108.0 574.6 L107.8 571.7 L107.7 568.8 L107.5 565.9 L107.3 563.0 L107.2 560.1 L107.0 557.2 L106.9 554.3 L106.7 551.4 L106.5 548.5 L106.4 545.6 L106.2 542.7 L106.1 539.8 L105.9 536.9 L105.7 534.0 L105.6 531.1 L105.4 528.2 L105.3 525.3 L105.1 522.4 L105.1 519.5 L105.1 516.6 L105.1 513.7 L105.1 510.8 L105.1 507.9 L105.1 505.0Z M114.1 500.0 L114.1 503.0 L114.1 506.0 L114.1 509.1 L114.1 512.1 L114.1 515.1 L114.1 518.1 L114.1 521.1 L114.0 524.2 L113.9 527.2 L113.8 530.2 L113.7 533.2 L113.6 536.2 L113.5 539.3 L113.3 542.3 L113.2 545.3 L113.1 548.3 L113.0 551.4 L112.9 554.4 L112.8 557.4 L112.7 560.4 L112.5 563.4 L112.4 566.5 L112.3 569.5 L112.2 572.5 L117.7 572.5 L117.6 569.5 L117.5 566.5 L117.4 563.4 L117.3 560.4 L117.1 557.4 L117.0 554.4 L116.9 551.4 L116.8 548.3 L116.7 545.3 L116.6 542.3 L116.5 539.3 L116.3 536.2 L116.2 533.2 L116.1 530.2 L116.0 527.2 L115.9 524.2 L115.9 521.1 L115.9 518.1 L115.9 515.1 L115.9 512.1 L115.9 509.1 L115.9 506.0 L115.9 503.0 L115.9 500.0Z M135.7 503.0 L135.7 506.0 L135.7 509.0 L135.7 511.9 L135.7 514.9 L135.7 517.9 L135.6 520.9 L135.5 523.9 L135.3 526.9 L135.1 529.9 L135.0 532.8 L134.8 535.8 L134.7 538.8 L134.5 541.8 L134.3 544.8 L134.2 547.8 L134.0 550.7 L133.9 553.7 L133.7 556.7 L133.6 559.7 L133.4 562.7 L133.2 565.6 L133.1 568.6 L132.9 571.6 L132.8 574.6 L140.4 574.6 L140.2 571.6 L140.1 568.6 L139.9 565.6 L139.8 562.7 L139.6 559.7 L139.4 556.7 L139.3 553.7 L139.1 550.7 L139.0 547.8 L138.8 544.8 L138.7 541.8 L138.5 538.8 L138.3 535.8 L138.2 532.8 L138.0 529.9 L137.9 526.9 L137.7 523.9 L137.5 520.9 L137.5 517.9 L137.5 514.9 L137.5 511.9 L137.5 509.0 L137.5 506.0 L137.5 503.0Z M157.1 492.0 L157.1 495.3 L157.1 498.6 L157.1 501.8 L157.1 505.1 L157.1 508.4 L157.1 511.7 L156.9 515.0 L156.7 518.2 L156.6 521.5 L156.4 524.8 L156.3 528.1 L156.1 531.4 L155.9 534.6 L155.8 537.9 L155.6 541.2 L155.5 544.5 L155.3 547.7 L155.2 551.0 L155.0 554.3 L154.9 557.6 L154.7 560.9 L154.6 564.1 L154.4 567.4 L154.3 570.7 L162.1 570.7 L162.0 567.4 L161.8 564.1 L161.7 560.9 L161.5 557.6 L161.4 554.3 L161.2 551.0 L161.1 547.7 L160.9 544.5 L160.8 541.2 L160.6 537.9 L160.5 534.6 L160.3 531.4 L160.1 528.1 L160.0 524.8 L159.8 521.5 L159.7 518.2 L159.5 515.0 L159.3 511.7 L159.3 508.4 L159.3 505.1 L159.3 501.8 L159.3 498.6 L159.3 495.3 L159.3 492.0Z M189.5 494.0 L189.5 497.2 L189.5 500.5 L189.5 503.8 L189.5 507.0 L189.5 510.2 L189.5 513.5 L189.3 516.8 L189.2 520.0 L189.0 523.2 L188.9 526.5 L188.7 529.8 L188.5 533.0 L188.4 536.2 L188.2 539.5 L188.1 542.8 L187.9 546.0 L187.8 549.2 L187.6 552.5 L187.5 555.8 L187.3 559.0 L187.2 562.2 L187.0 565.5 L186.9 568.8 L186.7 572.0 L194.5 572.0 L194.4 568.8 L194.2 565.5 L194.1 562.2 L193.9 559.0 L193.8 555.8 L193.6 552.5 L193.5 549.2 L193.3 546.0 L193.2 542.8 L193.0 539.5 L192.9 536.2 L192.7 533.0 L192.6 529.8 L192.4 526.5 L192.2 523.2 L192.1 520.0 L191.9 516.8 L191.8 513.5 L191.7 510.2 L191.7 507.0 L191.7 503.8 L191.7 500.5 L191.7 497.2 L191.7 494.0Z M211.2 487.0 L211.2 490.5 L211.2 494.1 L211.2 497.6 L211.2 501.2 L211.2 504.7 L211.1 508.2 L211.0 511.8 L210.8 515.3 L210.6 518.9 L210.5 522.4 L210.3 526.0 L210.2 529.5 L210.0 533.0 L209.8 536.6 L209.7 540.1 L209.5 543.7 L209.4 547.2 L209.2 550.8 L209.1 554.3 L208.9 557.8 L208.8 561.4 L208.6 564.9 L208.5 568.5 L208.3 572.0 L216.2 572.0 L216.0 568.5 L215.9 564.9 L215.7 561.4 L215.6 557.8 L215.4 554.3 L215.3 550.8 L215.1 547.2 L215.0 543.7 L214.8 540.1 L214.7 536.6 L214.5 533.0 L214.3 529.5 L214.2 526.0 L214.0 522.4 L213.9 518.9 L213.7 515.3 L213.5 511.8 L213.4 508.2 L213.3 504.7 L213.3 501.2 L213.3 497.6 L213.3 494.1 L213.3 490.5 L213.3 487.0Z" fill="#EDE81A" stroke="#3a3a20" stroke-width="0.35"/>
<path d="M243.8 496.0 L243.8 499.3 L243.8 502.6 L243.8 505.8 L243.8 509.1 L243.8 512.4 L243.8 515.6 L243.8 518.9 L243.6 522.2 L243.5 525.5 L243.4 528.8 L243.2 532.0 L243.1 535.3 L243.0 538.6 L242.8 541.9 L242.7 545.1 L242.6 548.4 L242.4 551.7 L242.3 555.0 L242.2 558.2 L242.0 561.5 L241.9 564.8 L241.8 568.0 L241.6 571.3 L241.5 574.6 L247.9 574.6 L247.7 571.3 L247.6 568.0 L247.5 564.8 L247.3 561.5 L247.2 558.2 L247.1 555.0 L246.9 551.7 L246.8 548.4 L246.7 545.1 L246.5 541.9 L246.4 538.6 L246.3 535.3 L246.1 532.0 L246.0 528.8 L245.9 525.5 L245.7 522.2 L245.6 518.9 L245.6 515.6 L245.6 512.4 L245.6 509.1 L245.6 505.8 L245.6 502.6 L245.6 499.3 L245.6 496.0Z M265.4 505.0 L265.4 507.9 L265.4 510.8 L265.4 513.7 L265.4 516.6 L265.4 519.5 L265.3 522.4 L265.2 525.3 L265.0 528.2 L264.9 531.1 L264.7 534.0 L264.5 536.9 L264.4 539.8 L264.2 542.7 L264.1 545.6 L263.9 548.5 L263.8 551.4 L263.6 554.3 L263.4 557.2 L263.3 560.1 L263.1 563.0 L263.0 565.9 L262.8 568.8 L262.6 571.7 L262.5 574.6 L270.1 574.6 L270.0 571.7 L269.8 568.8 L269.6 565.9 L269.5 563.0 L269.3 560.1 L269.2 557.2 L269.0 554.3 L268.9 551.4 L268.7 548.5 L268.5 545.6 L268.4 542.7 L268.2 539.8 L268.1 536.9 L267.9 534.0 L267.7 531.1 L267.6 528.2 L267.4 525.3 L267.3 522.4 L267.2 519.5 L267.2 516.6 L267.2 513.7 L267.2 510.8 L267.2 507.9 L267.2 505.0Z M276.2 500.0 L276.2 503.1 L276.2 506.2 L276.2 509.3 L276.2 512.4 L276.2 515.5 L276.2 518.6 L276.0 521.8 L275.8 524.9 L275.7 528.0 L275.5 531.1 L275.4 534.2 L275.2 537.3 L275.0 540.4 L274.9 543.5 L274.7 546.6 L274.6 549.7 L274.4 552.8 L274.2 556.0 L274.1 559.1 L273.9 562.2 L273.8 565.3 L273.6 568.4 L273.4 571.5 L273.3 574.6 L280.9 574.6 L280.8 571.5 L280.6 568.4 L280.5 565.3 L280.3 562.2 L280.1 559.1 L280.0 556.0 L279.8 552.8 L279.7 549.7 L279.5 546.6 L279.3 543.5 L279.2 540.4 L279.0 537.3 L278.9 534.2 L278.7 531.1 L278.5 528.0 L278.4 524.9 L278.2 521.8 L278.1 518.6 L278.0 515.5 L278.0 512.4 L278.0 509.3 L278.0 506.2 L278.0 503.1 L278.0 500.0Z M298.0 491.0 L298.0 494.4 L298.0 497.8 L298.0 501.1 L297.9 504.5 L297.8 507.9 L297.6 511.2 L297.4 514.6 L297.2 518.0 L297.1 521.4 L296.9 524.8 L296.7 528.1 L296.6 531.5 L296.4 534.9 L296.3 538.2 L296.1 541.6 L296.0 545.0 L295.8 548.4 L295.6 551.8 L295.5 555.1 L295.3 558.5 L295.2 561.9 L295.0 565.2 L294.9 568.6 L294.7 572.0 L302.7 572.0 L302.6 568.6 L302.4 565.2 L302.3 561.9 L302.1 558.5 L302.0 555.1 L301.8 551.8 L301.7 548.4 L301.5 545.0 L301.4 541.6 L301.2 538.2 L301.0 534.9 L300.9 531.5 L300.7 528.1 L300.5 524.8 L300.4 521.4 L300.2 518.0 L300.0 514.6 L299.9 511.2 L299.7 507.9 L299.5 504.5 L299.5 501.1 L299.5 497.8 L299.5 494.4 L299.5 491.0Z M308.8 500.0 L308.8 503.0 L308.8 506.0 L308.8 509.0 L308.7 512.0 L308.6 515.0 L308.4 518.0 L308.2 521.0 L308.1 524.0 L307.9 527.0 L307.7 530.0 L307.6 533.0 L307.4 536.0 L307.2 539.0 L307.1 542.0 L306.9 545.0 L306.8 548.0 L306.6 551.0 L306.5 554.0 L306.3 557.0 L306.1 560.0 L306.0 563.0 L305.8 566.0 L305.7 569.0 L305.5 572.0 L313.5 572.0 L313.4 569.0 L313.2 566.0 L313.1 563.0 L312.9 560.0 L312.8 557.0 L312.6 554.0 L312.5 551.0 L312.3 548.0 L312.2 545.0 L312.0 542.0 L311.8 539.0 L311.7 536.0 L311.5 533.0 L311.4 530.0 L311.2 527.0 L311.0 524.0 L310.9 521.0 L310.7 518.0 L310.5 515.0 L310.3 512.0 L310.3 509.0 L310.3 506.0 L310.3 503.0 L310.3 500.0Z M319.5 483.0 L319.5 486.5 L319.5 490.1 L319.5 493.6 L319.5 497.1 L319.5 500.6 L319.5 504.2 L319.5 507.7 L319.5 511.2 L319.5 514.8 L319.3 518.3 L319.2 521.8 L319.0 525.4 L318.8 528.9 L318.6 532.4 L318.5 535.9 L318.3 539.5 L318.1 543.0 L317.9 546.5 L317.7 550.1 L317.4 553.6 L317.2 557.1 L317.0 560.6 L316.8 564.2 L316.5 567.7 L324.2 567.7 L323.9 564.2 L323.7 560.6 L323.5 557.1 L323.3 553.6 L323.0 550.1 L322.8 546.5 L322.6 543.0 L322.4 539.5 L322.2 535.9 L322.1 532.4 L321.9 528.9 L321.7 525.4 L321.5 521.8 L321.4 518.3 L321.2 514.8 L321.1 511.2 L321.1 507.7 L321.1 504.2 L321.1 500.6 L321.1 497.1 L321.1 493.6 L321.1 490.1 L321.1 486.5 L321.1 483.0Z M330.3 504.0 L330.3 506.9 L330.3 509.9 L330.3 512.8 L330.3 515.8 L330.3 518.7 L330.2 521.6 L330.0 524.6 L329.9 527.5 L329.7 530.5 L329.6 533.4 L329.4 536.4 L329.2 539.3 L329.1 542.2 L328.9 545.2 L328.8 548.1 L328.6 551.1 L328.5 554.0 L328.3 557.0 L328.1 559.9 L328.0 562.8 L327.8 565.8 L327.7 568.7 L327.5 571.7 L327.3 574.6 L335.0 574.6 L334.8 571.7 L334.7 568.7 L334.5 565.8 L334.3 562.8 L334.2 559.9 L334.0 557.0 L333.9 554.0 L333.7 551.1 L333.6 548.1 L333.4 545.2 L333.2 542.2 L333.1 539.3 L332.9 536.4 L332.8 533.4 L332.6 530.5 L332.4 527.5 L332.3 524.6 L332.1 521.6 L332.1 518.7 L332.1 515.8 L332.1 512.8 L332.1 509.9 L332.1 506.9 L332.1 504.0Z M341.2 485.0 L341.2 488.5 L341.2 492.1 L341.2 495.6 L341.2 499.2 L341.2 502.7 L341.2 506.2 L341.2 509.8 L341.2 513.3 L341.1 516.9 L340.9 520.4 L340.8 524.0 L340.6 527.5 L340.4 531.0 L340.3 534.6 L340.1 538.1 L339.9 541.7 L339.7 545.2 L339.5 548.8 L339.3 552.3 L339.1 555.8 L338.8 559.4 L338.6 562.9 L338.4 566.5 L338.1 570.0 L345.8 570.0 L345.6 566.5 L345.3 562.9 L345.1 559.4 L344.9 555.8 L344.7 552.3 L344.5 548.8 L344.3 545.2 L344.1 541.7 L343.9 538.1 L343.7 534.6 L343.5 531.0 L343.3 527.5 L343.2 524.0 L343.0 520.4 L342.8 516.9 L342.8 513.3 L342.8 509.8 L342.8 506.2 L342.8 502.7 L342.8 499.2 L342.8 495.6 L342.8 492.1 L342.8 488.5 L342.8 485.0Z M352.0 482.0 L352.0 485.3 L352.0 488.5 L352.0 491.8 L352.0 495.1 L352.0 498.3 L352.0 501.6 L352.0 504.9 L352.0 508.1 L351.9 511.4 L351.7 514.7 L351.5 517.9 L351.4 521.2 L351.2 524.5 L351.0 527.7 L350.8 531.0 L350.6 534.3 L350.4 537.5 L350.2 540.8 L349.9 544.1 L349.7 547.3 L349.5 550.6 L349.2 553.9 L349.0 557.1 L348.7 560.4 L356.8 560.4 L356.6 557.1 L356.3 553.9 L356.1 550.6 L355.9 547.3 L355.6 544.1 L355.4 540.8 L355.2 537.5 L355.0 534.3 L354.8 531.0 L354.6 527.7 L354.4 524.5 L354.2 521.2 L354.0 517.9 L353.9 514.7 L353.7 511.4 L353.6 508.1 L353.6 504.9 L353.6 501.6 L353.6 498.3 L353.6 495.1 L353.6 491.8 L353.6 488.5 L353.6 485.3 L353.6 482.0Z M362.7 503.0 L362.7 506.0 L362.7 509.0 L362.7 511.9 L362.7 514.9 L362.7 517.9 L362.6 520.9 L362.5 523.9 L362.3 526.9 L362.2 529.9 L362.0 532.8 L361.8 535.8 L361.7 538.8 L361.5 541.8 L361.4 544.8 L361.2 547.8 L361.0 550.7 L360.9 553.7 L360.7 556.7 L360.6 559.7 L360.4 562.7 L360.2 565.6 L360.1 568.6 L359.9 571.6 L359.8 574.6 L367.4 574.6 L367.3 571.6 L367.1 568.6 L366.9 565.6 L366.8 562.7 L366.6 559.7 L366.5 556.7 L366.3 553.7 L366.1 550.7 L366.0 547.8 L365.8 544.8 L365.7 541.8 L365.5 538.8 L365.3 535.8 L365.2 532.8 L365.0 529.9 L364.9 526.9 L364.7 523.9 L364.5 520.9 L364.5 517.9 L364.5 514.9 L364.5 511.9 L364.5 509.0 L364.5 506.0 L364.5 503.0Z M373.5 505.0 L373.5 507.9 L373.5 510.8 L373.5 513.7 L373.5 516.6 L373.5 519.5 L373.4 522.4 L373.3 525.3 L373.1 528.2 L373.0 531.1 L372.8 534.0 L372.6 536.9 L372.5 539.8 L372.3 542.7 L372.2 545.6 L372.0 548.5 L371.8 551.4 L371.7 554.3 L371.5 557.2 L371.4 560.1 L371.2 563.0 L371.1 565.9 L370.9 568.8 L370.7 571.7 L370.6 574.6 L378.2 574.6 L378.1 571.7 L377.9 568.8 L377.7 565.9 L377.6 563.0 L377.4 560.1 L377.3 557.2 L377.1 554.3 L376.9 551.4 L376.8 548.5 L376.6 545.6 L376.5 542.7 L376.3 539.8 L376.2 536.9 L376.0 534.0 L375.8 531.1 L375.7 528.2 L375.5 525.3 L375.4 522.4 L375.3 519.5 L375.3 516.6 L375.3 513.7 L375.3 510.8 L375.3 507.9 L375.3 505.0Z M384.4 490.0 L384.4 493.2 L384.4 496.4 L384.4 499.6 L384.4 502.9 L384.4 506.1 L384.4 509.3 L384.4 512.5 L384.4 515.7 L384.3 519.0 L384.2 522.2 L384.0 525.4 L383.9 528.6 L383.7 531.8 L383.5 535.0 L383.3 538.2 L383.1 541.5 L382.9 544.7 L382.7 547.9 L382.5 551.1 L382.3 554.3 L382.1 557.6 L381.9 560.8 L381.6 564.0 L381.4 567.2 L389.0 567.2 L388.8 564.0 L388.6 560.8 L388.3 557.6 L388.1 554.3 L387.9 551.1 L387.7 547.9 L387.5 544.7 L387.3 541.5 L387.1 538.2 L386.9 535.0 L386.7 531.8 L386.6 528.6 L386.4 525.4 L386.2 522.2 L386.1 519.0 L386.0 515.7 L386.0 512.5 L386.0 509.3 L386.0 506.1 L386.0 502.9 L386.0 499.6 L386.0 496.4 L386.0 493.2 L386.0 490.0Z M395.1 499.0 L395.1 502.1 L395.1 505.3 L395.1 508.4 L395.1 511.6 L395.1 514.8 L395.1 517.9 L395.1 521.0 L395.0 524.2 L394.9 527.4 L394.8 530.5 L394.7 533.6 L394.5 536.8 L394.4 540.0 L394.3 543.1 L394.2 546.2 L394.0 549.4 L393.9 552.6 L393.8 555.7 L393.7 558.9 L393.5 562.0 L393.4 565.1 L393.3 568.3 L393.2 571.5 L393.0 574.6 L399.0 574.6 L398.9 571.5 L398.7 568.3 L398.6 565.1 L398.5 562.0 L398.4 558.9 L398.3 555.7 L398.1 552.6 L398.0 549.4 L397.9 546.2 L397.8 543.1 L397.6 540.0 L397.5 536.8 L397.4 533.6 L397.3 530.5 L397.1 527.4 L397.0 524.2 L396.9 521.0 L396.9 517.9 L396.9 514.8 L396.9 511.6 L396.9 508.4 L396.9 505.3 L396.9 502.1 L396.9 499.0Z M406.0 495.0 L406.0 498.0 L406.0 501.0 L406.0 504.0 L406.0 507.0 L406.0 510.0 L406.0 513.0 L406.0 516.1 L406.0 519.1 L406.0 522.1 L405.8 525.1 L405.6 528.1 L405.5 531.1 L405.3 534.1 L405.1 537.1 L404.9 540.1 L404.7 543.1 L404.5 546.1 L404.3 549.2 L404.1 552.2 L403.9 555.2 L403.7 558.2 L403.5 561.2 L403.2 564.2 L403.0 567.2 L410.7 567.2 L410.4 564.2 L410.2 561.2 L410.0 558.2 L409.7 555.2 L409.5 552.2 L409.3 549.2 L409.1 546.1 L408.9 543.1 L408.7 540.1 L408.5 537.1 L408.4 534.1 L408.2 531.1 L408.0 528.1 L407.9 525.1 L407.7 522.1 L407.6 519.1 L407.6 516.1 L407.6 513.0 L407.6 510.0 L407.6 507.0 L407.6 504.0 L407.6 501.0 L407.6 498.0 L407.6 495.0Z M416.7 503.0 L416.7 506.0 L416.7 509.0 L416.7 511.9 L416.7 514.9 L416.7 517.9 L416.7 520.9 L416.5 523.9 L416.4 526.9 L416.2 529.9 L416.0 532.8 L415.9 535.8 L415.7 538.8 L415.6 541.8 L415.4 544.8 L415.2 547.8 L415.1 550.7 L414.9 553.7 L414.8 556.7 L414.6 559.7 L414.5 562.7 L414.3 565.6 L414.1 568.6 L414.0 571.6 L413.8 574.6 L421.5 574.6 L421.3 571.6 L421.1 568.6 L421.0 565.6 L420.8 562.7 L420.7 559.7 L420.5 556.7 L420.3 553.7 L420.2 550.7 L420.0 547.8 L419.9 544.8 L419.7 541.8 L419.6 538.8 L419.4 535.8 L419.2 532.8 L419.1 529.9 L418.9 526.9 L418.8 523.9 L418.6 520.9 L418.5 517.9 L418.5 514.9 L418.5 511.9 L418.5 509.0 L418.5 506.0 L418.5 503.0Z M427.6 488.0 L427.6 491.4 L427.6 494.8 L427.6 498.1 L427.6 501.5 L427.6 504.9 L427.6 508.2 L427.6 511.6 L427.6 515.0 L427.6 518.4 L427.4 521.8 L427.3 525.1 L427.1 528.5 L426.9 531.9 L426.7 535.2 L426.6 538.6 L426.4 542.0 L426.2 545.4 L426.0 548.8 L425.8 552.1 L425.5 555.5 L425.3 558.9 L425.1 562.2 L424.9 565.6 L424.6 569.0 L432.3 569.0 L432.0 565.6 L431.8 562.2 L431.6 558.9 L431.4 555.5 L431.1 552.1 L430.9 548.8 L430.7 545.4 L430.5 542.0 L430.3 538.6 L430.2 535.2 L430.0 531.9 L429.8 528.5 L429.6 525.1 L429.5 521.8 L429.3 518.4 L429.2 515.0 L429.2 511.6 L429.2 508.2 L429.2 504.9 L429.2 501.5 L429.2 498.1 L429.2 494.8 L429.2 491.4 L429.2 488.0Z" fill="#EE9A62" stroke="#3a3a20" stroke-width="0.35"/>
<path d="M449.2 505.0 L449.2 507.9 L449.2 510.8 L449.2 513.7 L449.2 516.6 L449.2 519.5 L449.1 522.4 L449.0 525.3 L448.8 528.2 L448.6 531.1 L448.5 534.0 L448.3 536.9 L448.2 539.8 L448.0 542.7 L447.8 545.6 L447.7 548.5 L447.5 551.4 L447.4 554.3 L447.2 557.2 L447.0 560.1 L446.9 563.0 L446.7 565.9 L446.6 568.8 L446.4 571.7 L446.2 574.6 L453.9 574.6 L453.7 571.7 L453.6 568.8 L453.4 565.9 L453.3 563.0 L453.1 560.1 L452.9 557.2 L452.8 554.3 L452.6 551.4 L452.5 548.5 L452.3 545.6 L452.1 542.7 L452.0 539.8 L451.8 536.9 L451.7 534.0 L451.5 531.1 L451.3 528.2 L451.2 525.3 L451.0 522.4 L451.0 519.5 L451.0 516.6 L451.0 513.7 L451.0 510.8 L451.0 507.9 L451.0 505.0Z M460.0 502.0 L460.0 505.0 L460.0 508.1 L460.0 511.1 L460.0 514.1 L460.0 517.1 L460.0 520.1 L459.8 523.2 L459.7 526.2 L459.5 529.2 L459.4 532.2 L459.2 535.3 L459.1 538.3 L458.9 541.3 L458.8 544.4 L458.6 547.4 L458.5 550.4 L458.3 553.4 L458.2 556.5 L458.0 559.5 L457.9 562.5 L457.7 565.5 L457.6 568.5 L457.4 571.6 L457.3 574.6 L464.5 574.6 L464.3 571.6 L464.2 568.5 L464.0 565.5 L463.9 562.5 L463.7 559.5 L463.6 556.5 L463.4 553.4 L463.3 550.4 L463.1 547.4 L463.0 544.4 L462.8 541.3 L462.7 538.3 L462.5 535.3 L462.4 532.2 L462.2 529.2 L462.1 526.2 L461.9 523.2 L461.8 520.1 L461.8 517.1 L461.8 514.1 L461.8 511.1 L461.8 508.1 L461.8 505.0 L461.8 502.0Z M470.8 505.0 L470.8 507.9 L470.8 510.8 L470.8 513.7 L470.8 516.6 L470.8 519.5 L470.8 522.4 L470.6 525.3 L470.5 528.2 L470.3 531.1 L470.2 534.0 L470.0 536.9 L469.9 539.8 L469.7 542.7 L469.6 545.6 L469.4 548.5 L469.3 551.4 L469.1 554.3 L469.0 557.2 L468.8 560.1 L468.7 563.0 L468.5 565.9 L468.4 568.8 L468.2 571.7 L468.1 574.6 L475.3 574.6 L475.2 571.7 L475.0 568.8 L474.9 565.9 L474.7 563.0 L474.5 560.1 L474.4 557.2 L474.2 554.3 L474.1 551.4 L473.9 548.5 L473.8 545.6 L473.6 542.7 L473.5 539.8 L473.3 536.9 L473.2 534.0 L473.0 531.1 L472.9 528.2 L472.7 525.3 L472.6 522.4 L472.6 519.5 L472.6 516.6 L472.6 513.7 L472.6 510.8 L472.6 507.9 L472.6 505.0Z M481.6 503.0 L481.6 506.0 L481.6 509.0 L481.6 511.9 L481.6 514.9 L481.6 517.9 L481.5 520.9 L481.4 523.9 L481.2 526.9 L481.1 529.9 L480.9 532.8 L480.7 535.8 L480.6 538.8 L480.4 541.8 L480.3 544.8 L480.1 547.8 L479.9 550.7 L479.8 553.7 L479.6 556.7 L479.5 559.7 L479.3 562.7 L479.2 565.6 L479.0 568.6 L478.8 571.6 L478.7 574.6 L486.3 574.6 L486.2 571.6 L486.0 568.6 L485.8 565.6 L485.7 562.7 L485.5 559.7 L485.4 556.7 L485.2 553.7 L485.1 550.7 L484.9 547.8 L484.7 544.8 L484.6 541.8 L484.4 538.8 L484.3 535.8 L484.1 532.8 L483.9 529.9 L483.8 526.9 L483.6 523.9 L483.5 520.9 L483.4 517.9 L483.4 514.9 L483.4 511.9 L483.4 509.0 L483.4 506.0 L483.4 503.0Z M492.5 490.0 L492.5 493.3 L492.5 496.6 L492.5 499.9 L492.5 503.2 L492.5 506.5 L492.5 509.8 L492.5 513.0 L492.5 516.3 L492.4 519.6 L492.3 522.9 L492.1 526.2 L492.0 529.5 L491.8 532.8 L491.6 536.1 L491.4 539.4 L491.2 542.7 L491.0 546.0 L490.8 549.2 L490.6 552.5 L490.4 555.8 L490.2 559.1 L490.0 562.4 L489.7 565.7 L489.5 569.0 L497.1 569.0 L496.9 565.7 L496.7 562.4 L496.4 559.1 L496.2 555.8 L496.0 552.5 L495.8 549.2 L495.6 546.0 L495.4 542.7 L495.2 539.4 L495.0 536.1 L494.8 532.8 L494.7 529.5 L494.5 526.2 L494.3 522.9 L494.2 519.6 L494.1 516.3 L494.1 513.0 L494.1 509.8 L494.1 506.5 L494.1 503.2 L494.1 499.9 L494.1 496.6 L494.1 493.3 L494.1 490.0Z M503.3 495.0 L503.3 498.1 L503.3 501.2 L503.3 504.2 L503.3 507.3 L503.3 510.4 L503.3 513.5 L503.3 516.6 L503.3 519.7 L503.2 522.8 L503.1 525.8 L502.9 528.9 L502.8 532.0 L502.6 535.1 L502.4 538.2 L502.2 541.2 L502.0 544.3 L501.8 547.4 L501.6 550.5 L501.4 553.6 L501.2 556.7 L501.0 559.8 L500.8 562.8 L500.5 565.9 L500.3 569.0 L507.9 569.0 L507.7 565.9 L507.5 562.8 L507.3 559.8 L507.0 556.7 L506.8 553.6 L506.6 550.5 L506.4 547.4 L506.2 544.3 L506.0 541.2 L505.8 538.2 L505.6 535.1 L505.5 532.0 L505.3 528.9 L505.1 525.8 L505.0 522.8 L504.9 519.7 L504.9 516.6 L504.9 513.5 L504.9 510.4 L504.9 507.3 L504.9 504.2 L504.9 501.2 L504.9 498.1 L504.9 495.0Z" fill="#B02E8E" stroke="#3a3a20" stroke-width="0.35"/>
<path d="M92.4 495.0 L92.4 498.3 L92.4 501.6 L92.4 504.9 L92.4 508.3 L92.4 511.6 L92.4 514.9 L92.3 518.2 L92.1 521.5 L92.0 524.9 L91.8 528.2 L91.7 531.5 L91.5 534.8 L91.4 538.1 L91.2 541.4 L91.1 544.8 L90.9 548.1 L90.8 551.4 L90.6 554.7 L90.5 558.0 L90.3 561.3 L90.2 564.6 L90.0 568.0 L89.9 571.3 L89.7 574.6 L97.0 574.6 L96.8 571.3 L96.7 568.0 L96.5 564.6 L96.4 561.3 L96.2 558.0 L96.0 554.7 L95.9 551.4 L95.7 548.1 L95.6 544.8 L95.4 541.4 L95.3 538.1 L95.1 534.8 L95.0 531.5 L94.8 528.2 L94.7 524.9 L94.5 521.5 L94.4 518.2 L94.2 514.9 L94.2 511.6 L94.2 508.3 L94.2 504.9 L94.2 501.6 L94.2 498.3 L94.2 495.0Z M124.9 498.0 L124.9 501.2 L124.9 504.4 L124.9 507.6 L124.9 510.8 L124.9 514.0 L124.9 517.1 L124.8 520.3 L124.7 523.5 L124.6 526.7 L124.4 529.9 L124.3 533.1 L124.2 536.3 L124.0 539.5 L123.9 542.7 L123.8 545.9 L123.6 549.1 L123.5 552.3 L123.4 555.5 L123.2 558.6 L123.1 561.8 L123.0 565.0 L122.8 568.2 L122.7 571.4 L122.6 574.6 L129.0 574.6 L128.8 571.4 L128.7 568.2 L128.6 565.0 L128.4 561.8 L128.3 558.6 L128.2 555.5 L128.0 552.3 L127.9 549.1 L127.8 545.9 L127.6 542.7 L127.5 539.5 L127.4 536.3 L127.2 533.1 L127.1 529.9 L127.0 526.7 L126.8 523.5 L126.7 520.3 L126.7 517.1 L126.7 514.0 L126.7 510.8 L126.7 507.6 L126.7 504.4 L126.7 501.2 L126.7 498.0Z" fill="#D8D030" stroke="#3a3a20" stroke-width="0.35"/>
<path d="M146.3 497.0 L146.3 500.2 L146.3 503.3 L146.3 506.5 L146.3 509.6 L146.3 512.8 L146.2 515.9 L146.1 519.1 L145.9 522.2 L145.7 525.4 L145.6 528.5 L145.4 531.7 L145.2 534.9 L145.1 538.0 L144.9 541.2 L144.8 544.3 L144.6 547.5 L144.5 550.6 L144.3 553.8 L144.1 556.9 L144.0 560.1 L143.8 563.2 L143.7 566.4 L143.5 569.5 L143.4 572.7 L151.4 572.7 L151.2 569.5 L151.1 566.4 L150.9 563.2 L150.8 560.1 L150.6 556.9 L150.5 553.8 L150.3 550.6 L150.2 547.5 L150.0 544.3 L149.9 541.2 L149.7 538.0 L149.5 534.9 L149.4 531.7 L149.2 528.5 L149.0 525.4 L148.9 522.2 L148.7 519.1 L148.5 515.9 L148.5 512.8 L148.5 509.6 L148.5 506.5 L148.5 503.3 L148.5 500.2 L148.5 497.0Z" fill="#B8B040" stroke="#3a3a20" stroke-width="0.35"/>
<path d="M167.9 497.0 L167.9 500.2 L167.9 503.3 L167.9 506.5 L167.9 509.7 L167.9 512.9 L167.8 516.0 L167.6 519.2 L167.5 522.4 L167.3 525.5 L167.1 528.7 L167.0 531.9 L166.8 535.0 L166.6 538.2 L166.5 541.4 L166.3 544.6 L166.1 547.7 L166.0 550.9 L165.8 554.1 L165.7 557.2 L165.5 560.4 L165.3 563.6 L165.2 566.8 L165.0 569.9 L164.9 573.1 L173.1 573.1 L173.0 569.9 L172.8 566.8 L172.7 563.6 L172.5 560.4 L172.4 557.2 L172.2 554.1 L172.0 550.9 L171.9 547.7 L171.7 544.6 L171.6 541.4 L171.4 538.2 L171.2 535.0 L171.1 531.9 L170.9 528.7 L170.7 525.5 L170.6 522.4 L170.4 519.2 L170.2 516.0 L170.1 512.9 L170.1 509.7 L170.1 506.5 L170.1 503.3 L170.1 500.2 L170.1 497.0Z M178.9 492.0 L178.9 495.4 L178.9 498.9 L178.9 502.3 L178.9 505.8 L178.9 509.2 L178.9 512.6 L178.8 516.1 L178.6 519.5 L178.5 523.0 L178.3 526.4 L178.2 529.9 L178.0 533.3 L177.9 536.7 L177.7 540.2 L177.6 543.6 L177.4 547.1 L177.3 550.5 L177.1 554.0 L177.0 557.4 L176.8 560.8 L176.7 564.3 L176.5 567.7 L176.4 571.2 L176.2 574.6 L183.4 574.6 L183.3 571.2 L183.1 567.7 L183.0 564.3 L182.8 560.8 L182.7 557.4 L182.5 554.0 L182.4 550.5 L182.2 547.1 L182.1 543.6 L181.9 540.2 L181.8 536.7 L181.6 533.3 L181.5 529.9 L181.3 526.4 L181.2 523.0 L181.0 519.5 L180.9 516.1 L180.7 512.6 L180.7 509.2 L180.7 505.8 L180.7 502.3 L180.7 498.9 L180.7 495.4 L180.7 492.0Z" fill="#B0A840" stroke="#3a3a20" stroke-width="0.35"/>
<path d="M200.3 502.0 L200.3 504.9 L200.3 507.9 L200.3 510.8 L200.3 513.8 L200.3 516.7 L200.3 519.6 L200.1 522.6 L199.9 525.5 L199.7 528.4 L199.6 531.4 L199.4 534.3 L199.2 537.2 L199.1 540.2 L198.9 543.1 L198.7 546.1 L198.6 549.0 L198.4 551.9 L198.2 554.9 L198.1 557.8 L197.9 560.8 L197.8 563.7 L197.6 566.6 L197.5 569.6 L197.3 572.5 L205.6 572.5 L205.4 569.6 L205.3 566.6 L205.1 563.7 L205.0 560.8 L204.8 557.8 L204.6 554.9 L204.5 551.9 L204.3 549.0 L204.2 546.1 L204.0 543.1 L203.8 540.2 L203.7 537.2 L203.5 534.3 L203.3 531.4 L203.2 528.4 L203.0 525.5 L202.8 522.6 L202.6 519.6 L202.5 516.7 L202.5 513.8 L202.5 510.8 L202.5 507.9 L202.5 504.9 L202.5 502.0Z" fill="#A8A048" stroke="#3a3a20" stroke-width="0.35"/>
<path d="M50.1 503.4V508.0M60.9 504.0V509.5M71.7 500.0V506.5M82.5 496.0V504.5M93.3 493.0V500.0M104.2 499.5V510.0M115.0 491.0V503.0M125.8 494.0V501.0M136.6 498.0V506.0M147.4 486.0V500.3M158.2 483.3V508.0M169.0 482.1V503.0M179.8 485.6V503.5M190.6 477.7V497.5M201.4 490.6V505.0M212.2 462.9V490.6M223.1 495.5V509.5M233.9 483.9V512.0M244.7 494.3V503.0M255.5 481.3V506.9M266.3 497.5V508.0M277.1 494.3V503.0M287.9 499.5V506.0M298.7 488.6V498.0M309.5 498.6V508.0M320.3 467.2V486.0M331.2 492.8V507.0M342.0 456.8V488.0M352.8 425.4V485.0M363.6 497.6V506.0M374.4 500.4V508.0M385.2 478.8V493.0M396.0 498.8V508.0M406.8 485.5V498.0M417.6 493.2V506.0M428.4 474.4V491.0M439.3 488.5V506.6M450.1 499.8V508.0M460.9 494.2V505.0M471.7 498.9V508.0M482.5 496.0V506.0M493.3 474.2V493.0M504.1 487.5V498.0" stroke="#444" stroke-width="0.8" fill="none"/>
<rect x="56.7" y="508.5" width="8.4" height="66.1" fill="#121212"/>
<rect x="67.5" y="505.5" width="8.4" height="69.1" fill="#121212"/>
<rect x="78.3" y="503.5" width="8.4" height="71.1" fill="#121212"/>
<rect x="218.9" y="508.5" width="8.4" height="66.1" fill="#121212"/>
<rect x="229.7" y="511.0" width="8.4" height="63.6" fill="#121212"/>
<rect x="251.3" y="505.9" width="8.4" height="68.7" fill="#121212"/>
<rect x="283.7" y="505.0" width="8.4" height="69.6" fill="#121212"/>
<rect x="435.1" y="505.6" width="8.4" height="69.0" fill="#121212"/>
<path d="M221.5 550.5h1.2M223.0 563.5h1.2M221.1 529.3h1.2M220.7 556.4h1.2M226.1 534.4h1.2M226.3 542.3h1.2M222.3 522.9h1.2M224.9 562.6h1.2M222.5 513.9h1.2M223.0 548.3h1.2M219.8 517.6h1.2M221.8 523.8h1.2M222.3 509.7h1.2M225.7 540.5h1.2M224.6 512.7h1.2M223.5 523.8h1.2M223.5 558.5h1.2M224.0 540.0h1.2M225.6 549.3h1.2M226.2 554.1h1.2M225.8 510.1h1.2M220.6 513.2h1.2M220.8 531.1h1.2M226.0 515.0h1.2M225.9 556.7h1.2M223.9 565.2h1.2M223.0 570.0h1.2M223.9 513.5h1.2M221.2 548.1h1.2M219.7 520.7h1.2M225.3 531.4h1.2M219.9 526.9h1.2M222.1 526.3h1.2M225.0 518.6h1.2M219.7 559.3h1.2M225.6 554.9h1.2M224.5 558.7h1.2M225.2 519.1h1.2M225.5 527.7h1.2M223.8 552.6h1.2M224.0 556.4h1.2M221.3 513.4h1.2M224.7 534.7h1.2M225.7 510.9h1.2M219.7 551.3h1.2M221.4 556.8h1.2M221.2 511.2h1.2M223.8 569.8h1.2M225.6 551.6h1.2M221.0 536.1h1.2M225.4 540.3h1.2M224.9 548.4h1.2M224.1 513.3h1.2M223.6 515.4h1.2M222.0 560.9h1.2M223.9 515.2h1.2M223.0 521.6h1.2M226.2 548.6h1.2M224.1 536.4h1.2M225.0 552.7h1.2M232.2 537.9h1.2M235.4 514.1h1.2M234.8 521.7h1.2M230.4 540.9h1.2M233.9 518.8h1.2M236.9 525.8h1.2M234.5 521.1h1.2M233.0 547.7h1.2M233.4 522.8h1.2M232.4 549.6h1.2M234.7 532.3h1.2M236.5 512.3h1.2M234.8 558.0h1.2M235.8 523.8h1.2M234.5 545.9h1.2M234.9 539.6h1.2M234.8 548.5h1.2M235.2 570.5h1.2M237.1 525.7h1.2M231.2 533.3h1.2M230.4 550.9h1.2M235.5 518.0h1.2M233.5 549.8h1.2M235.3 515.4h1.2M232.6 561.1h1.2M232.0 520.0h1.2M237.1 570.4h1.2M232.1 513.7h1.2M235.9 514.2h1.2M237.0 570.9h1.2M235.4 566.4h1.2M231.1 516.8h1.2M231.0 512.5h1.2M232.6 513.0h1.2M235.0 534.0h1.2M233.5 561.5h1.2M230.5 563.3h1.2M235.6 537.1h1.2M231.4 527.5h1.2M233.0 526.8h1.2M233.5 536.4h1.2M236.5 562.8h1.2M231.8 527.0h1.2M233.3 535.7h1.2M235.4 564.3h1.2M231.6 559.9h1.2M236.0 531.7h1.2M234.6 548.0h1.2M236.1 520.7h1.2M232.2 534.6h1.2M233.9 537.5h1.2M235.4 541.5h1.2M232.0 563.7h1.2M230.6 543.1h1.2M232.6 520.1h1.2M237.2 552.8h1.2M235.8 521.0h1.2M230.4 526.4h1.2M232.3 522.0h1.2M236.1 533.1h1.2M234.7 539.3h1.2M231.6 514.1h1.2M232.0 534.1h1.2M235.9 512.4h1.2M236.1 528.1h1.2M233.2 556.1h1.2M236.4 518.4h1.2M230.4 529.6h1.2M236.2 535.8h1.2M234.5 565.9h1.2M236.8 535.5h1.2M231.4 561.3h1.2M231.3 522.5h1.2M236.5 557.1h1.2M234.1 551.5h1.2M230.7 534.9h1.2M236.1 551.3h1.2M231.5 537.9h1.2M231.0 552.3h1.2M231.1 516.7h1.2M235.2 532.1h1.2M232.5 529.5h1.2M233.1 523.4h1.2M231.2 526.8h1.2M232.4 538.7h1.2M237.1 562.1h1.2M235.9 518.2h1.2M236.5 519.3h1.2M236.4 535.9h1.2M234.7 538.8h1.2M235.1 531.8h1.2M235.3 527.5h1.2M232.3 536.0h1.2M233.3 535.7h1.2M233.4 556.7h1.2M235.0 546.2h1.2M231.3 540.3h1.2M232.0 513.8h1.2M230.4 516.3h1.2M234.0 563.7h1.2M235.5 561.2h1.2M231.1 513.8h1.2M231.1 528.3h1.2M236.6 543.1h1.2M232.4 557.5h1.2M233.8 557.5h1.2M231.6 516.2h1.2M236.4 557.1h1.2M231.0 515.2h1.2M231.5 527.1h1.2M230.9 552.6h1.2M236.8 515.2h1.2M235.6 516.0h1.2M231.5 542.6h1.2M231.5 560.4h1.2M235.0 549.0h1.2M233.6 514.3h1.2M231.1 521.2h1.2M234.8 556.1h1.2M236.5 534.7h1.2M235.6 528.5h1.2M232.7 529.3h1.2M233.8 556.7h1.2M233.8 562.8h1.2M236.9 513.3h1.2M232.5 521.4h1.2M232.2 525.4h1.2M232.5 564.3h1.2M234.2 524.9h1.2M232.4 528.6h1.2M235.5 549.9h1.2M233.2 523.8h1.2M236.4 539.3h1.2M236.5 562.6h1.2M230.8 513.4h1.2M234.7 536.3h1.2M230.9 514.2h1.2M230.9 562.4h1.2M232.5 530.8h1.2M231.2 542.5h1.2M233.9 533.0h1.2M232.9 527.3h1.2M234.3 542.9h1.2M234.8 530.8h1.2M232.4 516.4h1.2M232.5 539.8h1.2M236.0 519.5h1.2M231.3 564.3h1.2M230.4 513.0h1.2M231.8 537.8h1.2M231.2 512.7h1.2M235.7 556.4h1.2M235.1 523.3h1.2M236.5 517.6h1.2M235.7 549.0h1.2M232.6 539.7h1.2M232.8 512.0h1.2M230.9 526.0h1.2M233.2 517.9h1.2M234.1 514.9h1.2M254.6 532.7h1.2M253.8 552.9h1.2M255.8 533.6h1.2M255.3 568.7h1.2M258.0 550.3h1.2M256.2 552.9h1.2M252.2 535.8h1.2M257.6 557.5h1.2M254.0 529.5h1.2M257.3 558.7h1.2M256.7 522.5h1.2M257.8 562.0h1.2M253.2 541.2h1.2M257.9 515.2h1.2M253.2 551.4h1.2M255.3 523.2h1.2M253.4 508.4h1.2M256.3 551.5h1.2M257.1 528.1h1.2M252.9 532.9h1.2M254.9 556.4h1.2M255.1 534.7h1.2M258.3 553.1h1.2M256.5 507.3h1.2M256.6 536.0h1.2M253.4 561.5h1.2M256.7 565.0h1.2M258.3 554.5h1.2M257.8 551.1h1.2M256.7 566.7h1.2M257.0 568.1h1.2M255.5 558.3h1.2M254.3 528.8h1.2M255.7 563.1h1.2M252.6 562.1h1.2M256.6 557.0h1.2M257.2 545.6h1.2M256.7 516.4h1.2M257.1 566.6h1.2M254.6 567.5h1.2M253.7 539.5h1.2M253.5 527.7h1.2M255.1 518.7h1.2M257.0 513.9h1.2M257.6 507.8h1.2M257.3 512.9h1.2M258.6 557.9h1.2M254.0 536.3h1.2M258.0 524.0h1.2M253.2 510.6h1.2M256.8 508.3h1.2M258.6 532.5h1.2M256.7 524.9h1.2M258.4 519.2h1.2M258.2 531.4h1.2M255.8 554.2h1.2M256.4 509.9h1.2M255.8 511.7h1.2M252.4 556.4h1.2M255.5 564.6h1.2M286.6 515.3h1.2M287.9 509.6h1.2M290.7 562.7h1.2M284.5 538.8h1.2M285.4 542.5h1.2M288.6 535.1h1.2M288.3 567.1h1.2M285.0 517.0h1.2M286.8 551.3h1.2M288.1 520.5h1.2M288.5 545.1h1.2M290.1 506.2h1.2M290.3 544.3h1.2M288.9 544.9h1.2M286.8 518.0h1.2M286.6 566.0h1.2M286.2 564.1h1.2M291.0 529.7h1.2M288.0 542.7h1.2M287.1 506.2h1.2M288.3 510.7h1.2M286.2 569.7h1.2M290.7 565.7h1.2M290.4 512.7h1.2M285.6 548.1h1.2M288.6 511.3h1.2M286.5 560.8h1.2M288.8 552.7h1.2M289.2 510.5h1.2M285.6 519.1h1.2M284.7 529.8h1.2M284.7 561.1h1.2M291.1 570.3h1.2M288.5 562.4h1.2M284.7 570.5h1.2M287.6 524.1h1.2M289.1 512.2h1.2M287.5 556.5h1.2M286.7 507.5h1.2M291.1 559.8h1.2M284.5 524.9h1.2M289.2 560.7h1.2M287.8 507.0h1.2M291.2 523.6h1.2M290.7 537.7h1.2M286.8 527.1h1.2M285.0 534.7h1.2M286.6 526.3h1.2M290.1 512.9h1.2M289.3 537.8h1.2M285.9 540.1h1.2M285.7 518.5h1.2M286.5 541.9h1.2M290.0 510.6h1.2M291.1 510.6h1.2M289.0 521.4h1.2M286.1 570.3h1.2M286.7 561.5h1.2M287.5 535.1h1.2M289.1 535.5h1.2M287.0 552.5h1.2M290.4 546.8h1.2M287.6 533.3h1.2M285.7 530.1h1.2M286.2 540.3h1.2M290.7 524.2h1.2M286.7 519.0h1.2M288.5 544.1h1.2M285.3 559.1h1.2M285.6 517.5h1.2" stroke="#6a4a40" stroke-width="1.1"/>
<path d="M438.0 571.2h1.2M440.9 524.4h1.2M437.5 565.2h1.2M436.6 525.6h1.2M440.4 546.0h1.2M441.3 537.5h1.2M442.5 531.0h1.2M436.3 543.2h1.2M436.3 524.0h1.2M436.3 528.9h1.2M440.4 512.3h1.2M438.4 554.4h1.2M438.5 562.4h1.2M439.3 519.6h1.2M436.6 558.8h1.2M436.2 571.0h1.2M437.1 519.8h1.2M439.1 566.6h1.2M440.7 532.8h1.2M437.3 570.6h1.2M440.4 532.3h1.2M442.2 533.0h1.2M440.4 548.1h1.2M438.1 510.1h1.2M436.3 508.2h1.2M442.1 529.8h1.2M442.2 568.2h1.2M441.9 508.4h1.2M437.5 570.6h1.2M439.0 528.5h1.2M437.1 517.5h1.2M441.1 512.5h1.2M441.3 531.3h1.2M439.9 568.6h1.2M438.0 535.6h1.2M436.2 507.4h1.2M437.5 571.6h1.2M436.2 508.6h1.2M440.8 551.6h1.2M438.9 559.5h1.2M442.5 564.5h1.2M435.9 534.9h1.2M438.7 569.6h1.2M438.2 538.0h1.2M440.0 553.3h1.2M437.5 510.3h1.2M438.3 549.2h1.2M436.3 560.7h1.2M437.4 560.2h1.2M440.2 529.8h1.2M441.6 521.7h1.2M441.7 559.4h1.2M438.9 514.1h1.2M437.8 507.9h1.2M440.2 545.8h1.2M439.1 538.0h1.2M435.9 540.6h1.2M441.1 507.1h1.2M437.0 530.2h1.2M439.3 527.2h1.2" stroke="#6a5066" stroke-width="1.1"/>
<path d="M58.0 511.5h1.2M61.2 546.8h1.2M59.9 543.6h1.2M58.8 533.3h1.2M62.5 525.0h1.2M57.9 558.9h1.2M62.9 513.4h1.2M62.6 543.1h1.2M60.3 517.8h1.2M62.9 520.2h1.2M61.9 526.5h1.2M59.6 570.7h1.2M62.5 538.0h1.2M60.3 565.3h1.2M58.1 526.5h1.2M57.9 561.7h1.2M61.2 511.9h1.2M62.1 533.7h1.2M62.7 522.4h1.2M58.9 511.7h1.2M58.0 545.8h1.2M62.3 522.7h1.2M59.3 548.1h1.2M59.8 514.5h1.2M59.9 550.5h1.2M62.2 513.3h1.2M63.7 539.4h1.2M63.6 566.8h1.2M62.9 530.7h1.2M59.6 522.8h1.2M63.8 528.3h1.2M59.1 563.2h1.2M59.9 526.1h1.2M60.1 526.2h1.2M58.7 527.6h1.2M62.8 539.0h1.2M63.1 537.4h1.2M58.6 538.9h1.2M63.4 552.9h1.2M57.6 521.4h1.2M69.3 552.3h1.2M68.4 527.1h1.2M69.0 534.9h1.2M70.5 526.7h1.2M69.9 511.2h1.2M68.6 565.9h1.2M73.1 553.9h1.2M71.0 554.2h1.2M68.9 532.8h1.2M74.3 522.8h1.2M72.1 564.3h1.2M70.1 526.7h1.2M71.4 562.4h1.2M72.9 563.7h1.2M69.0 557.2h1.2M74.6 510.4h1.2M71.8 521.9h1.2M68.4 527.6h1.2M70.2 563.9h1.2M71.2 541.2h1.2M70.4 524.8h1.2M74.2 554.4h1.2M69.9 561.4h1.2M69.9 558.7h1.2M74.8 561.1h1.2M68.9 531.3h1.2M71.9 564.1h1.2M74.6 544.2h1.2M75.0 561.6h1.2M74.1 549.8h1.2M71.9 524.3h1.2M69.3 537.4h1.2M71.1 543.6h1.2M68.7 510.8h1.2M69.1 534.3h1.2M72.1 561.8h1.2M70.2 529.8h1.2M68.4 549.6h1.2M71.2 513.1h1.2M71.8 529.6h1.2M72.9 511.6h1.2M70.3 516.2h1.2M70.4 529.9h1.2M69.2 521.6h1.2M73.5 553.4h1.2M69.6 561.5h1.2M72.9 559.9h1.2M70.4 508.1h1.2M74.3 559.9h1.2M72.5 506.8h1.2M72.0 547.3h1.2M69.8 535.2h1.2M74.9 567.4h1.2M70.3 543.7h1.2M74.8 556.6h1.2M71.1 518.6h1.2M70.5 561.6h1.2M73.5 568.0h1.2M69.4 527.3h1.2M69.0 560.1h1.2M70.0 546.8h1.2M71.6 549.0h1.2M70.1 519.8h1.2M71.8 555.5h1.2M71.7 510.4h1.2M74.3 569.7h1.2M69.8 513.5h1.2M72.8 511.2h1.2M68.7 530.4h1.2M68.7 564.7h1.2M68.3 563.9h1.2M71.9 539.0h1.2M72.1 527.8h1.2M74.9 512.7h1.2M69.4 514.0h1.2M68.4 550.1h1.2M69.2 554.4h1.2M72.4 563.1h1.2M72.2 564.6h1.2M74.3 506.5h1.2M68.7 508.2h1.2M74.4 553.4h1.2M71.5 521.3h1.2M70.2 507.2h1.2M72.5 557.4h1.2M73.3 570.2h1.2M72.3 535.1h1.2M69.0 552.9h1.2M72.8 528.6h1.2M70.0 536.3h1.2M73.1 548.7h1.2M71.9 517.8h1.2M72.3 559.4h1.2M69.6 517.9h1.2M68.6 569.1h1.2M74.2 529.4h1.2M72.4 521.6h1.2M73.7 540.6h1.2M73.1 533.2h1.2M68.4 559.7h1.2M69.4 510.4h1.2M72.2 542.9h1.2M72.5 549.1h1.2M71.1 508.0h1.2M73.8 547.1h1.2M73.5 550.4h1.2M71.6 552.5h1.2M71.7 543.7h1.2M69.9 524.9h1.2M72.7 532.7h1.2M71.3 539.7h1.2M71.4 521.0h1.2M73.0 547.3h1.2M69.1 568.0h1.2M72.3 551.7h1.2M73.3 511.3h1.2M74.9 534.4h1.2M71.0 506.5h1.2M68.8 534.7h1.2M71.4 536.9h1.2M74.8 566.2h1.2M73.1 545.9h1.2M72.4 569.6h1.2M69.0 519.9h1.2M71.1 559.6h1.2M69.8 509.2h1.2M74.7 520.6h1.2M69.7 565.2h1.2M72.2 512.5h1.2M73.2 571.2h1.2M74.4 537.7h1.2M74.5 562.0h1.2M74.1 513.4h1.2M69.7 566.2h1.2M68.6 524.9h1.2M69.9 527.5h1.2M73.7 554.7h1.2M70.9 531.6h1.2M73.4 539.6h1.2M71.6 531.1h1.2M69.5 542.0h1.2M71.9 532.1h1.2M68.5 527.5h1.2M74.7 518.7h1.2M71.7 541.5h1.2M71.7 550.6h1.2M72.6 537.7h1.2M68.9 515.5h1.2M73.2 508.1h1.2M69.2 553.4h1.2M73.9 516.7h1.2M75.0 510.6h1.2M71.3 558.3h1.2M70.8 559.6h1.2M74.2 517.6h1.2M70.3 545.1h1.2M71.5 540.6h1.2M71.7 513.9h1.2M69.6 511.0h1.2M71.5 527.0h1.2M83.0 505.0h1.2M81.7 514.3h1.2M83.5 522.9h1.2M81.5 555.6h1.2M81.4 541.9h1.2M85.2 517.3h1.2M79.7 519.9h1.2M84.1 520.7h1.2M84.1 513.4h1.2M83.7 535.1h1.2M79.7 511.6h1.2M81.4 509.9h1.2M79.1 526.9h1.2M81.8 531.9h1.2M82.7 519.8h1.2M80.4 567.5h1.2M81.2 561.4h1.2M79.8 551.0h1.2M82.0 570.5h1.2M80.5 568.4h1.2M83.8 525.4h1.2M80.9 511.6h1.2M85.5 544.9h1.2M80.3 519.9h1.2M85.8 522.1h1.2M83.3 510.1h1.2M83.4 523.5h1.2M83.2 513.4h1.2M84.9 562.0h1.2M82.5 541.2h1.2M79.8 536.6h1.2M83.7 557.8h1.2M83.6 528.5h1.2M81.6 526.2h1.2M83.1 514.4h1.2M82.5 537.0h1.2M83.3 505.3h1.2M83.1 528.0h1.2M85.4 538.6h1.2M82.2 510.3h1.2" stroke="#c0bea0" stroke-width="1.1"/>
<path d="M51.3 566.0h1M49.0 526.0h1M48.6 568.6h1M47.3 541.8h1M45.3 568.3h1M50.8 548.1h1M52.1 545.1h1M48.3 534.6h1M46.0 573.6h1M52.2 567.0h1M46.3 570.3h1M48.8 527.4h1M48.4 514.9h1M53.5 573.3h1M51.1 528.8h1M49.6 507.5h1M48.6 510.0h1M47.9 539.9h1M47.1 570.1h1M49.0 567.1h1M49.8 509.8h1M53.0 556.5h1M53.4 543.1h1M49.8 569.0h1M49.1 556.0h1M50.3 567.8h1M51.7 556.7h1M50.0 541.1h1M50.1 565.0h1M49.7 521.4h1M47.5 569.4h1M53.3 555.6h1M50.6 567.3h1M47.0 531.9h1M47.8 547.8h1M48.9 544.8h1M46.4 517.3h1M49.9 536.9h1M52.2 510.7h1M53.4 547.8h1M46.9 517.9h1M52.5 521.6h1M52.8 542.3h1M48.8 563.2h1M49.6 527.7h1M52.5 534.3h1M53.3 571.0h1M46.6 546.6h1M46.1 539.7h1M51.0 528.7h1M45.4 573.3h1M46.3 520.7h1M51.2 530.4h1M49.6 527.6h1M50.2 545.0h1M50.7 566.2h1M51.3 558.4h1M45.4 567.8h1M52.2 553.3h1M49.9 552.2h1M49.9 566.9h1M47.6 525.6h1M50.3 547.7h1M52.3 519.1h1M48.4 553.0h1M50.3 522.7h1M46.9 568.4h1M47.0 562.0h1M52.1 515.8h1M46.9 518.8h1M49.1 537.6h1M50.0 571.3h1M47.1 557.6h1M52.0 553.0h1M50.1 515.7h1M51.9 535.6h1M51.1 535.8h1M48.3 553.4h1M52.6 574.5h1M49.4 563.4h1M51.2 508.6h1M52.9 552.1h1M47.2 543.8h1M47.5 517.3h1M48.1 520.9h1M50.3 555.7h1M50.8 519.0h1M47.0 514.0h1M49.1 537.8h1M47.5 535.4h1M50.6 536.6h1M47.7 510.4h1M48.6 539.0h1M52.7 536.4h1M46.4 551.6h1M48.1 562.8h1M51.8 514.7h1M53.2 567.6h1M50.2 571.2h1M50.2 523.5h1M51.5 534.4h1M46.9 530.1h1M46.8 559.9h1M46.4 570.9h1M49.9 533.7h1M49.1 536.4h1M47.6 522.8h1M51.6 523.0h1M46.7 531.7h1M53.9 568.3h1M45.7 569.1h1M52.9 529.6h1M47.6 531.5h1M47.2 538.8h1M49.7 513.9h1M47.4 544.8h1M48.9 517.7h1M46.5 549.7h1M47.9 516.7h1M49.6 541.3h1M50.8 561.0h1M48.1 506.9h1M48.5 529.8h1M48.9 547.5h1M52.3 546.3h1M49.2 516.0h1M50.0 554.0h1M53.3 555.4h1M52.8 537.5h1M53.1 537.5h1M50.0 566.4h1M49.0 551.0h1M47.9 544.6h1M48.2 538.3h1M49.5 546.9h1M52.6 529.4h1M51.6 555.1h1M51.3 508.9h1M50.7 550.4h1M51.0 539.0h1M48.4 511.6h1M50.2 538.3h1M48.3 553.7h1M47.3 559.3h1M47.6 553.4h1M45.6 556.1h1M53.2 506.4h1M46.5 567.8h1M47.6 571.6h1M45.6 552.4h1M46.3 530.5h1M48.7 564.1h1M48.7 510.7h1M49.3 509.6h1M51.5 544.4h1M48.7 550.6h1M53.3 555.2h1M48.0 509.4h1M49.9 508.7h1M48.2 537.0h1M53.6 537.4h1M51.2 519.8h1M52.1 553.8h1M47.9 513.4h1M54.6 517.1h1M51.6 537.0h1M51.9 513.8h1M45.2 546.5h1M62.3 506.0h.9M57.6 506.4h.9M60.2 506.2h.9M57.2 506.2h.9M58.8 506.4h.9M60.5 506.4h.9M58.6 506.4h.9M61.3 506.3h.9M64.6 506.0h.9M63.1 506.1h.9M59.4 506.4h.9M64.8 506.1h.9M62.6 506.0h.9M63.2 506.2h.9M57.9 506.2h.9M63.7 506.3h.9M60.0 506.2h.9M64.8 506.4h.9M70.8 503.2h.9M72.2 502.1h.9M72.8 503.0h.9M75.7 502.4h.9M76.2 503.3h.9M74.7 502.7h.9M68.8 503.1h.9M68.7 502.0h.9M67.9 502.2h.9M74.0 502.5h.9M71.8 502.5h.9M69.1 502.0h.9M67.3 503.4h.9M74.5 502.8h.9M73.8 503.2h.9M74.4 502.6h.9M74.1 503.2h.9M68.1 503.5h.9M85.2 498.3h.9M83.9 499.3h.9M79.1 499.2h.9M82.8 499.1h.9M81.5 498.6h.9M85.4 499.1h.9M84.4 500.4h.9M81.3 498.1h.9M82.7 501.3h.9M84.6 499.8h.9M83.4 499.3h.9M84.2 498.4h.9M80.2 499.3h.9M84.3 501.4h.9M79.9 500.9h.9M78.5 500.7h.9M79.1 498.6h.9M81.1 500.7h.9M96.9 570.4h1M91.9 518.0h1M90.2 530.8h1M94.3 571.4h1M92.3 513.2h1M95.5 513.4h1M97.1 573.0h1M93.2 569.6h1M94.2 537.0h1M94.1 507.9h1M96.3 549.4h1M89.4 567.0h1M90.8 513.1h1M89.0 554.9h1M96.4 570.8h1M95.4 508.2h1M90.9 523.1h1M90.4 524.4h1M95.8 544.5h1M92.4 514.4h1M93.8 561.5h1M97.1 561.6h1M96.0 546.6h1M90.5 527.9h1M89.9 559.9h1M89.4 569.2h1M91.4 526.5h1M92.1 573.8h1M90.8 513.9h1M95.6 548.9h1M94.3 559.7h1M92.0 507.6h1M90.3 572.0h1M90.8 533.9h1M90.8 530.5h1M95.8 533.7h1M89.7 521.9h1M94.5 532.0h1M91.7 543.1h1M96.3 552.1h1M90.6 535.3h1M92.5 519.4h1M95.7 520.2h1M94.0 517.1h1M93.6 549.3h1M93.4 546.8h1M91.7 500.7h1M92.9 505.8h1M90.4 557.9h1M91.3 502.2h1M94.0 508.6h1M92.4 541.8h1M93.2 503.5h1M94.0 512.9h1M90.1 506.2h1M97.1 564.2h1M94.1 535.7h1M96.3 521.2h1M95.6 519.0h1M96.3 546.0h1M95.9 506.1h1M88.9 569.1h1M95.7 502.1h1M90.3 536.1h1M90.7 506.0h1M90.7 541.1h1M90.2 528.1h1M94.8 512.8h1M89.5 528.1h1M94.2 521.6h1M95.3 521.5h1M94.3 567.4h1M94.5 531.8h1M89.7 569.8h1M97.0 566.5h1M94.3 557.0h1M91.7 511.5h1M91.0 547.4h1M95.3 543.1h1M95.1 537.4h1M90.0 523.6h1M88.9 552.2h1M97.0 569.7h1M94.4 570.5h1M96.0 517.2h1M89.6 551.2h1M95.9 540.4h1M91.6 548.4h1M92.7 574.4h1M90.6 502.8h1M94.2 539.4h1M93.5 537.2h1M91.1 544.6h1M92.2 503.6h1M96.8 563.4h1M92.4 501.0h1M93.8 572.2h1M89.8 505.5h1M90.4 529.9h1M91.4 572.9h1M93.4 565.0h1M90.8 554.5h1M90.0 558.2h1M93.4 513.4h1M92.3 549.4h1M90.9 547.7h1M92.8 571.4h1M93.8 553.8h1M94.2 567.8h1M93.3 539.3h1M95.2 569.6h1M91.2 570.5h1M92.1 545.4h1M91.5 555.5h1M93.9 551.2h1M92.7 497.8h1M94.4 510.5h1M94.1 561.9h1M94.2 554.4h1M92.8 534.4h1M94.0 561.8h1M91.5 495.7h1M89.0 544.4h1M88.6 503.0h1M88.8 536.0h1M88.8 514.4h1M92.3 539.8h1M90.3 494.5h1M89.4 543.9h1M88.9 520.5h1M96.9 497.1h1M91.5 503.7h1M93.4 546.7h1M94.8 568.4h1M92.8 548.7h1M95.0 516.0h1M90.8 501.7h1M91.1 552.0h1M97.1 515.9h1M93.1 500.8h1M88.8 550.7h1M97.9 558.6h1M93.0 546.0h1M106.9 535.8h1M100.7 550.3h1M103.3 540.0h1M106.3 538.9h1M104.8 551.7h1M107.4 559.1h1M100.6 507.8h1M100.8 504.5h1M102.2 571.6h1M103.8 533.3h1M101.9 542.5h1M102.5 558.3h1M107.2 563.2h1M104.6 501.1h1M108.0 507.9h1M101.8 506.1h1M105.1 557.6h1M103.3 550.1h1M101.2 539.3h1M101.7 535.0h1M100.2 550.7h1M101.1 511.1h1M105.0 540.2h1M109.0 501.2h1M102.9 562.5h1M107.4 512.7h1M100.9 572.9h1M107.3 556.6h1M101.2 570.0h1M100.8 509.9h1M108.2 518.0h1M103.9 568.0h1M102.7 510.4h1M105.6 518.7h1M106.9 554.0h1M103.7 533.2h1M102.9 535.4h1M106.0 534.5h1M102.4 553.4h1M117.6 529.8h1M114.2 521.9h1M110.7 566.9h1M113.0 547.4h1M113.9 510.3h1M110.5 561.2h1M117.4 527.4h1M113.6 561.0h1M116.7 509.3h1M113.8 535.9h1M115.2 535.1h1M114.5 537.4h1M113.0 554.8h1M112.9 515.2h1M115.3 566.6h1M114.5 523.0h1M115.8 497.6h1M110.9 556.5h1M110.0 542.9h1M111.5 553.5h1M118.0 512.7h1M117.3 540.7h1M110.0 496.2h1M111.6 536.1h1M114.0 526.9h1M116.5 559.5h1M113.8 501.6h1M113.9 515.2h1M126.1 550.5h1M128.4 513.4h1M123.5 542.7h1M124.2 573.4h1M126.3 507.1h1M123.3 524.0h1M126.0 527.4h1M126.5 528.8h1M129.6 568.7h1M128.9 567.7h1M127.5 523.5h1M125.8 509.1h1M122.7 507.7h1M122.0 571.4h1M125.5 556.7h1M127.0 498.4h1M127.7 506.1h1M125.2 563.3h1M121.7 538.2h1M121.5 555.6h1M128.6 543.8h1M122.1 554.1h1M126.9 557.0h1M127.2 529.5h1M124.6 547.5h1M123.5 543.8h1M128.0 526.2h1M127.2 531.0h1M123.0 532.3h1M128.1 498.4h1M129.3 559.0h1M121.8 548.2h1M122.2 516.0h1M126.2 549.7h1M123.5 571.9h1M123.3 521.9h1M122.1 514.5h1M124.7 541.6h1M128.6 532.4h1M127.6 528.3h1M122.2 544.3h1M125.9 502.6h1M121.4 566.8h1M123.1 555.7h1M128.0 554.7h1M123.1 557.4h1M128.4 515.3h1M129.0 569.4h1M121.8 544.9h1M128.3 532.5h1M124.0 506.8h1M127.6 504.1h1M122.2 531.3h1M123.1 531.5h1M126.1 537.2h1M122.0 552.8h1M121.8 544.4h1M127.6 537.8h1M127.5 524.3h1M124.5 522.8h1M121.1 561.6h1M125.6 545.8h1M129.0 556.6h1M123.0 555.2h1M125.1 519.1h1M125.6 525.8h1M126.5 509.1h1M121.9 536.0h1M128.1 512.1h1M128.6 565.2h1M128.9 534.0h1M126.8 516.6h1M122.7 571.0h1M123.0 499.0h1M127.2 508.5h1M125.1 549.3h1M126.2 511.5h1M122.8 513.6h1M126.4 548.5h1M128.1 562.1h1M124.0 513.6h1M125.2 514.2h1M127.5 502.4h1M127.8 554.4h1M128.4 541.2h1M128.1 564.3h1M122.8 562.5h1M122.0 530.7h1M125.0 559.8h1M123.4 573.8h1M128.0 537.1h1M127.6 572.7h1M129.0 567.3h1M126.1 525.0h1M126.4 506.5h1M125.3 571.7h1M125.7 514.4h1M125.0 506.6h1M124.7 508.2h1M127.3 563.2h1M124.9 565.5h1M121.9 537.8h1M125.9 561.4h1M122.6 535.4h1M121.9 539.1h1M122.5 512.0h1M122.5 536.6h1M126.2 563.8h1M125.7 566.3h1M123.8 515.7h1M126.0 564.6h1M126.3 552.0h1M123.4 504.8h1M127.9 537.1h1M126.1 571.1h1M122.1 524.0h1M124.6 546.1h1M122.7 570.3h1M122.0 519.5h1M127.2 502.5h1M122.3 566.6h1M125.7 500.7h1M126.1 523.0h1M127.4 569.1h1M126.0 525.7h1M127.1 526.4h1M127.9 523.9h1M129.7 548.0h1M130.3 520.6h1M123.3 540.1h1M123.9 545.4h1M121.2 501.4h1M123.2 542.4h1M128.5 500.3h1M128.3 503.7h1M124.4 514.5h1M129.1 569.0h1M130.6 560.9h1M130.1 541.9h1M126.6 543.4h1M124.6 518.8h1M123.2 539.1h1M129.4 545.0h1M123.0 551.5h1M124.4 494.3h1M129.2 527.9h1M125.9 537.2h1M126.3 542.0h1M126.3 548.0h1M123.1 537.7h1M125.2 502.2h1M141.0 535.2h1M132.4 501.8h1M141.1 546.7h1M133.5 508.6h1M139.5 532.7h1M138.2 540.8h1M133.6 501.0h1M138.8 542.4h1M132.5 504.1h1M135.7 521.4h1M133.3 522.9h1M138.0 502.7h1M137.9 571.0h1M132.8 568.3h1M135.2 544.8h1M137.6 562.7h1M140.7 544.6h1M133.0 571.2h1M132.4 531.0h1M133.8 540.5h1M135.1 551.2h1M140.5 497.6h1M134.3 506.8h1M132.2 537.4h1M138.7 556.9h1M137.8 506.1h1M136.9 507.0h1M134.4 504.2h1M137.0 531.9h1M140.8 547.7h1M135.1 523.0h1M139.0 513.2h1M133.7 525.5h1M135.8 511.9h1M136.0 561.9h1M136.3 560.1h1M134.1 542.1h1M138.8 528.8h1M136.1 503.5h1M134.5 516.6h1M133.6 523.2h1M143.6 562.9h.9M151.3 490.9h.9M145.8 501.9h.9M148.4 513.9h.9M148.0 487.2h.9M143.4 521.7h.9M145.9 538.7h.9M145.7 512.1h.9M143.8 551.1h.9M145.7 496.9h.9M143.5 552.7h.9M148.1 569.4h.9M147.6 551.5h.9M143.9 521.0h.9M144.5 510.1h.9M147.6 540.6h.9M143.0 489.4h.9M150.9 493.9h.9M151.7 543.0h.9M145.6 545.4h.9M151.8 543.6h.9M145.7 545.1h.9M147.4 550.7h.9M151.1 493.7h.9M142.9 547.3h.9M154.6 509.0h.9M158.9 520.6h.9M157.1 494.4h.9M160.4 532.0h.9M162.6 518.9h.9M160.5 505.7h.9M161.9 490.2h.9M155.3 530.9h.9M161.6 554.5h.9M161.6 494.7h.9M156.9 567.1h.9M160.2 552.4h.9M157.2 532.8h.9M161.0 510.7h.9M162.2 551.7h.9M158.8 489.3h.9M155.7 545.0h.9M161.7 485.1h.9M160.1 551.5h.9M157.6 512.4h.9M154.5 554.3h.9M160.1 546.5h.9M162.3 523.8h.9M161.7 538.5h.9M157.4 500.3h.9M165.4 495.1h.9M164.9 563.1h.9M167.7 500.8h.9M165.7 489.1h.9M168.5 565.3h.9M167.5 489.3h.9M166.1 554.9h.9M166.9 504.6h.9M170.9 535.0h.9M171.7 523.7h.9M165.3 555.7h.9M169.1 547.0h.9M167.0 561.3h.9M172.7 486.9h.9M166.7 543.6h.9M169.2 547.9h.9M166.0 503.1h.9M171.2 516.8h.9M168.0 541.0h.9M172.7 571.2h.9M169.5 557.6h.9M173.4 571.8h.9M172.7 491.3h.9M168.7 544.9h.9M170.0 508.8h.9M177.2 566.0h1M175.2 556.7h1M177.8 534.5h1M178.6 535.0h1M179.2 538.6h1M181.4 555.3h1M176.8 516.8h1M178.1 513.5h1M179.9 528.5h1M184.6 555.8h1M177.8 515.4h1M174.9 536.0h1M175.2 545.4h1M180.7 542.1h1M184.7 525.2h1M175.0 519.5h1M177.2 503.1h1M182.2 553.6h1M183.7 522.8h1M177.1 507.6h1M180.1 540.2h1M177.9 557.8h1M181.1 566.7h1M180.6 549.7h1M180.5 511.5h1M175.0 570.0h1M177.9 521.0h1M182.5 514.9h1M176.2 546.4h1M183.6 550.9h1M193.0 501.5h.9M192.7 524.0h.9M193.7 548.0h.9M194.1 509.6h.9M187.0 526.0h.9M192.0 550.8h.9M187.5 541.2h.9M186.2 568.3h.9M187.2 518.8h.9M193.8 509.9h.9M190.0 497.9h.9M194.0 560.2h.9M191.1 509.4h.9M192.3 482.4h.9M190.5 552.4h.9M194.0 479.3h.9M193.0 562.2h.9M192.2 502.5h.9M189.6 552.9h.9M188.8 533.6h.9M191.9 558.3h.9M188.7 549.6h.9M190.5 480.8h.9M188.2 527.9h.9M187.8 554.2h.9M202.1 511.6h.9M204.8 537.0h.9M204.7 529.9h.9M200.6 566.3h.9M205.7 523.8h.9M201.7 538.1h.9M202.4 554.3h.9M202.9 533.0h.9M200.3 512.0h.9M203.4 491.3h.9M203.6 558.1h.9M203.7 570.2h.9M199.8 499.4h.9M197.9 566.1h.9M204.1 562.5h.9M198.8 502.7h.9M202.8 550.5h.9M201.7 493.1h.9M204.7 506.0h.9M197.1 534.5h.9M197.0 523.0h.9M204.9 564.8h.9M197.0 549.4h.9M199.3 567.4h.9M203.8 543.9h.9M213.4 467.1h.9M208.8 481.0h.9M213.1 523.7h.9M208.9 490.4h.9M214.7 549.0h.9M209.3 497.1h.9M211.9 518.2h.9M209.0 484.9h.9M211.2 559.5h.9M214.5 525.9h.9M214.6 523.3h.9M212.4 549.9h.9M215.1 558.2h.9M210.1 509.1h.9M213.2 559.3h.9M215.1 507.8h.9M208.2 570.3h.9M215.0 532.9h.9M213.9 512.3h.9M210.8 469.2h.9M211.0 479.6h.9M213.8 544.5h.9M212.3 557.6h.9M208.7 536.2h.9M211.2 512.9h.9M220.6 500.0h.9M223.5 506.4h.9M220.8 503.8h.9M225.0 506.0h.9M219.6 502.1h.9M218.8 501.4h.9M225.6 499.4h.9M220.4 498.5h.9M227.3 500.6h.9M222.3 499.0h.9M219.0 502.3h.9M219.2 502.6h.9M221.5 500.4h.9M222.5 506.5h.9M221.5 500.2h.9M220.0 500.2h.9M224.8 500.3h.9M220.6 500.7h.9M236.7 507.0h.9M237.5 507.1h.9M230.9 488.0h.9M230.9 504.5h.9M236.5 493.9h.9M233.0 505.1h.9M235.6 495.4h.9M235.0 508.9h.9M231.5 493.9h.9M234.9 490.2h.9M231.4 502.5h.9M234.8 503.1h.9M234.1 499.1h.9M229.5 495.4h.9M235.3 498.3h.9M238.1 506.4h.9M230.8 500.9h.9M233.1 505.7h.9M244.4 537.4h1M241.0 540.1h1M247.3 533.4h1M247.0 534.1h1M244.3 568.1h1M248.4 569.6h1M244.7 501.8h1M242.5 571.8h1M241.6 533.2h1M244.7 567.5h1M245.0 549.0h1M244.3 568.4h1M243.8 546.2h1M247.6 531.1h1M244.1 552.6h1M245.1 510.8h1M244.0 506.1h1M243.4 521.5h1M242.3 522.3h1M241.3 538.5h1M245.7 524.7h1M246.4 512.0h1M242.0 536.7h1M243.1 560.7h1M240.5 533.5h1M247.1 518.8h1M243.7 542.4h1M240.9 548.9h1M246.6 516.5h1M242.7 551.6h1M242.4 566.3h1M246.3 539.1h1M242.3 565.6h1M241.6 573.5h1M244.3 525.9h1M244.5 547.0h1M246.3 540.6h1M243.7 524.7h1M247.4 554.5h1M243.2 525.0h1M242.4 540.8h1M247.6 543.7h1M246.5 523.3h1M244.1 567.9h1M241.4 532.3h1M246.9 546.2h1M242.4 534.5h1M241.2 564.2h1M246.3 547.1h1M242.6 543.5h1M242.9 549.5h1M246.6 554.1h1M246.5 562.5h1M242.7 514.0h1M245.3 554.0h1M243.7 568.1h1M241.5 507.9h1M244.4 506.7h1M240.8 530.3h1M240.4 569.1h1M246.2 532.1h1M241.9 555.1h1M243.7 572.3h1M243.5 563.8h1M247.9 552.7h1M244.6 507.8h1M247.9 549.0h1M242.3 549.7h1M244.5 515.3h1M243.2 517.7h1M241.4 572.1h1M245.3 521.0h1M247.3 543.1h1M246.0 530.5h1M247.9 536.9h1M241.5 569.7h1M244.0 533.8h1M244.9 540.8h1M241.3 555.5h1M246.8 552.8h1M242.5 536.6h1M244.9 524.8h1M242.3 513.7h1M245.5 528.6h1M244.5 558.8h1M243.2 516.2h1M247.3 507.9h1M246.8 540.1h1M242.6 524.3h1M243.4 515.8h1M244.6 555.2h1M241.5 530.2h1M246.1 526.4h1M247.5 518.6h1M241.3 564.7h1M246.1 500.7h1M245.2 506.0h1M243.5 543.0h1M240.3 548.4h1M247.0 559.3h1M242.8 505.4h1M241.6 564.9h1M246.2 515.9h1M248.6 574.0h1M241.7 520.1h1M241.9 501.9h1M247.5 530.6h1M241.5 559.6h1M244.5 535.6h1M241.2 517.0h1M242.8 519.8h1M247.1 505.4h1M243.9 573.0h1M244.6 538.2h1M243.4 564.5h1M248.2 569.8h1M244.7 526.7h1M242.4 572.0h1M244.2 574.1h1M240.9 554.2h1M245.3 535.5h1M247.4 521.0h1M244.7 535.6h1M242.6 561.1h1M246.1 556.2h1M242.6 560.9h1M244.8 531.4h1M244.0 539.2h1M246.2 547.3h1M242.3 515.8h1M244.3 514.2h1M247.1 521.1h1M243.8 521.1h1M242.4 560.4h1M242.5 509.9h1M242.9 556.4h1M241.1 571.3h1M244.1 528.7h1M242.7 531.0h1M244.2 512.1h1M243.1 559.2h1M245.3 573.7h1M243.2 533.1h1M241.3 526.8h1M244.4 540.9h1M240.6 562.1h1M246.7 504.5h1M245.8 533.0h1M242.3 567.2h1M246.1 518.7h1M244.7 518.4h1M245.5 494.1h1M241.8 529.5h1M248.9 509.5h1M242.8 566.5h1M243.1 519.6h1M243.5 521.8h1M239.8 571.4h1M245.2 523.3h1M243.0 543.2h1M244.0 552.1h1M248.8 506.1h1M246.7 510.7h1M241.4 568.9h1M247.5 554.9h1M248.8 521.9h1M244.9 505.2h1M244.9 572.9h1M243.7 564.6h1M244.5 546.2h1M247.0 551.2h1M247.3 551.9h1M246.2 511.2h1M247.1 558.0h1M245.2 508.4h1M249.4 495.2h1M242.1 546.2h1M258.8 496.7h.9M258.1 492.0h.9M258.1 495.0h.9M252.3 500.8h.9M256.3 487.2h.9M253.7 490.5h.9M255.0 483.3h.9M254.7 503.9h.9M254.3 487.7h.9M251.2 495.7h.9M255.7 486.8h.9M257.2 490.8h.9M251.6 486.0h.9M257.7 502.1h.9M256.4 496.6h.9M252.3 487.3h.9M257.1 492.5h.9M255.5 492.8h.9M271.2 533.5h1M262.2 554.5h1M264.9 530.5h1M268.6 531.6h1M267.0 529.8h1M268.6 557.6h1M264.5 504.4h1M269.9 505.1h1M261.4 522.6h1M268.7 536.0h1M265.3 510.4h1M268.6 501.2h1M264.0 527.6h1M265.0 525.7h1M261.6 565.7h1M267.3 557.6h1M264.2 519.5h1M271.0 572.7h1M265.5 557.4h1M270.8 511.0h1M261.4 552.3h1M268.4 573.3h1M263.2 555.7h1M262.9 550.5h1M269.9 548.7h1M265.9 540.9h1M271.3 537.3h1M263.1 544.1h1M267.7 569.1h1M271.1 535.5h1M269.2 551.9h1M270.8 529.3h1M263.9 550.4h1M270.5 556.3h1M263.2 529.9h1M265.3 504.8h1M263.8 511.3h1M268.5 569.4h1M270.8 524.6h1M281.5 519.1h1M274.3 562.4h1M275.9 497.5h1M280.3 555.9h1M275.2 520.0h1M274.4 508.3h1M279.3 548.4h1M274.1 531.0h1M281.1 505.5h1M281.4 501.2h1M277.3 510.9h1M279.8 530.6h1M274.8 564.8h1M277.7 534.9h1M275.1 555.7h1M274.8 510.6h1M280.7 536.5h1M276.2 515.5h1M273.4 512.1h1M275.7 500.1h1M277.9 563.4h1M272.4 562.8h1M277.4 567.2h1M273.0 547.9h1M280.6 564.0h1M275.4 554.3h1M277.2 520.9h1M276.0 533.2h1M278.1 508.8h1M277.3 534.7h1M279.4 508.7h1M281.1 538.1h1M275.4 512.7h1M289.9 502.8h.9M292.3 502.6h.9M284.4 502.0h.9M290.9 501.7h.9M284.8 502.0h.9M283.8 501.7h.9M290.6 501.7h.9M287.8 501.8h.9M292.4 502.5h.9M283.4 502.5h.9M288.7 502.6h.9M285.4 502.2h.9M286.8 502.1h.9M291.4 501.5h.9M290.4 502.2h.9M287.7 501.6h.9M290.4 502.3h.9M284.7 501.5h.9M299.6 532.6h.9M296.9 568.5h.9M297.9 503.5h.9M302.3 568.2h.9M300.9 535.8h.9M298.3 514.1h.9M299.6 506.2h.9M299.3 554.0h.9M296.4 560.1h.9M300.6 554.5h.9M299.2 560.8h.9M297.7 514.0h.9M296.9 548.6h.9M300.5 569.8h.9M298.0 571.7h.9M301.2 531.3h.9M295.1 569.5h.9M302.7 562.1h.9M297.5 519.5h.9M300.3 497.2h.9M297.6 524.6h.9M301.8 505.4h.9M302.6 491.8h.9M298.2 499.9h.9M294.8 510.7h.9M295.3 494.4h.9M296.4 490.1h.9M299.2 514.7h.9M298.8 564.3h.9M297.9 560.5h.9M313.9 534.7h.9M308.7 553.9h.9M311.6 519.4h.9M313.8 545.2h.9M305.7 566.2h.9M305.8 564.2h.9M307.8 521.9h.9M308.5 515.9h.9M309.3 514.2h.9M309.8 518.6h.9M305.5 570.6h.9M306.5 506.1h.9M313.7 514.2h.9M309.3 558.4h.9M305.4 571.9h.9M306.6 501.6h.9M312.4 557.5h.9M313.1 523.6h.9M310.4 527.9h.9M311.9 555.7h.9M308.1 539.9h.9M308.8 510.8h.9M314.0 569.1h.9M311.6 563.0h.9M309.4 499.8h.9M309.6 570.9h.9M310.5 546.0h.9M310.9 539.9h.9M308.8 534.9h.9M308.5 568.3h.9M317.9 564.7h.9M320.7 487.4h.9M316.7 482.4h.9M316.7 565.2h.9M319.8 513.8h.9M320.6 531.2h.9M324.2 567.6h.9M323.1 494.3h.9M317.8 527.5h.9M317.8 518.5h.9M324.8 535.8h.9M319.1 488.7h.9M322.3 492.6h.9M316.2 514.3h.9M316.2 541.1h.9M318.0 566.9h.9M320.8 501.6h.9M324.2 564.3h.9M316.3 517.2h.9M316.8 471.5h.9M324.5 561.1h.9M318.0 514.3h.9M319.0 540.0h.9M324.5 513.8h.9M321.6 478.8h.9M328.6 517.8h1M331.5 503.5h1M333.0 560.3h1M331.9 545.1h1M329.1 514.4h1M334.5 524.4h1M328.1 502.2h1M336.0 548.1h1M330.8 500.8h1M332.6 536.4h1M326.7 558.1h1M334.7 518.5h1M333.4 524.2h1M332.4 499.7h1M333.8 524.4h1M331.7 555.5h1M329.0 542.8h1M333.1 508.0h1M335.6 514.5h1M333.7 531.8h1M332.2 507.4h1M331.8 531.0h1M330.6 551.6h1M333.9 555.2h1M335.4 570.4h1M333.7 509.2h1M328.0 502.5h1M331.4 533.3h1M332.9 574.3h1M335.6 568.8h1M330.2 509.2h1M326.7 555.1h1M333.0 519.2h1M334.8 511.8h1M334.8 531.8h1M335.9 530.0h1M330.0 548.4h1M328.3 523.1h1M328.5 571.4h1M332.6 556.2h1M330.0 556.9h1M339.5 490.2h.9M337.8 529.8h.9M338.1 565.1h.9M345.6 520.2h.9M340.0 473.8h.9M341.4 510.1h.9M343.1 528.3h.9M338.5 549.6h.9M338.1 547.3h.9M337.5 554.9h.9M339.5 555.8h.9M343.7 512.1h.9M338.7 490.3h.9M341.8 459.0h.9M345.1 463.9h.9M344.6 558.6h.9M343.0 535.5h.9M337.7 554.1h.9M343.5 486.0h.9M340.7 481.8h.9M342.1 540.6h.9M343.7 517.7h.9M345.0 479.6h.9M337.6 533.9h.9M340.0 474.8h.9M355.0 469.4h.9M348.8 546.5h.9M351.8 537.6h.9M351.3 525.8h.9M352.7 556.2h.9M355.6 518.7h.9M354.9 493.0h.9M353.4 529.0h.9M353.7 473.8h.9M352.2 524.7h.9M353.1 528.9h.9M353.6 559.5h.9M351.2 507.9h.9M356.3 493.3h.9M353.2 517.5h.9M350.2 440.4h.9M351.9 470.3h.9M349.2 555.2h.9M351.2 446.7h.9M353.0 434.9h.9M349.3 464.6h.9M352.1 437.2h.9M349.1 431.6h.9M353.2 441.2h.9M356.1 514.0h.9M364.9 531.1h1M364.6 515.3h1M358.9 558.9h1M361.4 501.7h1M367.5 536.0h1M367.1 545.3h1M365.7 525.7h1M366.5 571.6h1M362.4 508.9h1M367.1 514.4h1M360.2 551.7h1M365.9 543.0h1M367.2 554.7h1M367.3 561.9h1M365.3 540.9h1M360.4 544.8h1M366.6 518.8h1M361.5 523.5h1M366.8 523.5h1M359.0 525.3h1M365.4 543.7h1M364.8 555.1h1M359.7 502.8h1M368.5 535.1h1M364.3 564.8h1M366.2 513.8h1M358.7 547.8h1M365.9 499.7h1M366.2 567.3h1M359.9 519.8h1M363.1 509.7h1M362.2 570.5h1M359.6 545.6h1M363.2 507.5h1M361.6 528.9h1M360.7 549.1h1M362.3 515.2h1M370.2 520.9h1M369.6 514.7h1M374.6 510.1h1M370.4 535.1h1M373.1 553.5h1M376.4 516.3h1M374.8 529.6h1M370.5 544.5h1M376.5 550.0h1M375.1 559.2h1M370.2 543.6h1M369.9 520.4h1M375.7 539.0h1M376.7 573.3h1M372.6 554.7h1M372.3 534.5h1M371.9 571.1h1M375.5 507.4h1M376.9 512.7h1M370.5 554.0h1M376.8 549.8h1M371.4 516.6h1M375.6 560.2h1M378.6 514.8h1M370.1 514.3h1M373.3 508.3h1M374.3 502.3h1M372.6 504.4h1M370.0 506.0h1M377.7 549.8h1M378.3 529.9h1M370.9 536.2h1M369.6 500.9h1M372.3 551.6h1M376.7 548.2h1M378.0 565.8h1M379.2 572.7h1M383.4 525.5h.9M383.0 484.4h.9M384.4 500.1h.9M388.8 526.1h.9M386.2 550.6h.9M388.7 522.9h.9M387.1 561.6h.9M382.5 533.6h.9M388.7 500.0h.9M383.8 539.3h.9M381.9 544.4h.9M385.5 483.0h.9M385.3 557.5h.9M382.2 565.3h.9M383.1 494.6h.9M389.5 514.5h.9M382.3 524.7h.9M388.8 546.9h.9M382.2 564.0h.9M388.5 543.9h.9M380.8 534.0h.9M389.5 482.8h.9M385.4 480.2h.9M382.4 526.6h.9M380.9 507.0h.9M393.3 521.0h1M396.6 569.1h1M393.4 538.3h1M397.2 528.8h1M397.9 535.6h1M393.0 529.4h1M397.5 508.0h1M393.4 513.8h1M395.6 528.2h1M393.5 511.5h1M393.4 531.3h1M392.8 566.6h1M393.6 538.8h1M394.3 549.6h1M392.3 546.3h1M394.9 558.5h1M399.7 517.7h1M395.9 559.8h1M400.1 566.6h1M395.0 543.3h1M398.6 555.7h1M396.3 559.6h1M399.4 502.5h1M396.1 560.6h1M397.1 557.8h1M395.5 526.8h1M397.4 532.8h1M406.0 534.1h.9M405.9 486.7h.9M405.5 518.2h.9M405.9 551.9h.9M404.0 521.2h.9M405.0 488.8h.9M410.4 542.5h.9M408.5 539.5h.9M406.2 545.6h.9M408.2 550.1h.9M407.9 503.4h.9M406.0 544.5h.9M410.0 504.3h.9M407.5 542.6h.9M407.3 567.1h.9M408.8 532.3h.9M409.5 555.8h.9M408.3 513.3h.9M408.1 542.2h.9M406.5 507.0h.9M410.2 518.9h.9M403.4 499.2h.9M404.1 565.2h.9M409.9 526.7h.9M410.6 502.1h.9M421.1 572.4h1M413.3 560.7h1M422.5 512.6h1M419.3 551.3h1M414.9 522.2h1M414.3 540.9h1M413.3 539.0h1M417.9 551.4h1M413.0 564.4h1M419.4 558.4h1M417.5 567.5h1M422.6 564.3h1M419.7 543.6h1M417.9 572.2h1M421.9 562.3h1M421.3 511.1h1M420.9 514.7h1M418.7 521.9h1M412.7 550.0h1M419.1 540.7h1M416.9 551.4h1M413.4 545.8h1M414.7 544.4h1M419.3 566.5h1M415.3 562.7h1M414.3 508.5h1M420.7 542.9h1M421.0 512.1h1M418.1 500.0h1M420.5 559.4h1M413.3 510.3h1M419.7 564.2h1M419.6 518.4h1M414.5 534.0h1M413.0 553.0h1M431.8 478.5h.9M426.2 556.2h.9M426.8 519.3h.9M431.3 503.5h.9M430.7 497.8h.9M428.9 500.3h.9M432.4 508.2h.9M428.8 518.1h.9M424.0 529.2h.9M428.6 557.2h.9M430.5 550.6h.9M430.8 513.7h.9M430.9 560.0h.9M425.8 562.6h.9M431.0 478.3h.9M431.5 566.4h.9M431.9 564.9h.9M431.7 480.6h.9M431.3 511.5h.9M427.6 494.0h.9M427.0 527.3h.9M432.0 507.5h.9M432.4 545.5h.9M426.9 478.5h.9M432.8 567.9h.9M443.4 496.9h.9M442.4 493.7h.9M440.7 500.5h.9M434.8 492.0h.9M442.0 498.9h.9M436.6 497.2h.9M440.0 502.3h.9M441.8 493.3h.9M440.9 498.8h.9M437.4 495.7h.9M440.8 495.4h.9M438.1 498.7h.9M437.9 492.9h.9M435.7 497.7h.9M442.6 492.8h.9M438.5 495.0h.9M439.5 491.7h.9M435.2 492.6h.9M449.5 530.8h1M446.3 569.2h1M450.4 521.2h1M454.1 533.9h1M446.6 570.2h1M445.8 534.4h1M452.0 519.6h1M451.5 509.1h1M451.4 558.0h1M445.4 526.3h1M453.6 548.3h1M448.4 545.1h1M450.2 570.9h1M453.0 510.9h1M450.9 517.4h1M445.2 556.6h1M451.8 561.1h1M445.2 571.1h1M452.4 501.0h1M452.1 526.4h1M453.1 512.3h1M448.7 569.0h1M454.2 558.3h1M448.7 541.1h1M451.6 502.8h1M448.1 566.5h1M453.2 529.3h1M447.8 499.2h1M449.5 535.2h1M450.0 551.5h1M450.3 557.6h1M452.1 536.4h1M450.2 516.7h1M445.7 550.4h1M448.3 560.2h1M448.3 551.8h1M445.6 521.1h1M453.8 556.4h1M452.6 555.7h1M462.6 539.1h1M465.2 529.7h1M456.9 524.1h1M461.7 534.4h1M459.8 516.0h1M463.9 566.5h1M457.3 515.2h1M464.1 510.4h1M456.2 537.2h1M456.5 516.0h1M461.3 543.8h1M460.5 555.8h1M459.1 544.8h1M464.7 501.7h1M457.7 567.9h1M463.2 548.6h1M463.8 499.3h1M457.6 528.5h1M464.5 540.2h1M465.3 533.4h1M463.8 511.2h1M465.2 508.8h1M458.5 567.7h1M458.0 553.9h1M456.2 499.7h1M456.2 550.9h1M460.6 538.7h1M461.5 507.1h1M464.3 518.2h1M461.0 511.9h1M463.9 565.9h1M474.5 528.6h1M472.5 565.8h1M474.2 566.7h1M476.5 533.7h1M474.9 524.0h1M476.1 557.1h1M475.8 567.3h1M473.6 569.2h1M474.0 520.6h1M472.4 539.2h1M474.5 552.3h1M473.0 505.4h1M476.6 554.4h1M475.3 556.3h1M474.6 566.0h1M472.4 570.2h1M471.6 528.7h1M476.5 545.0h1M476.4 552.0h1M473.4 522.0h1M472.7 570.2h1M475.2 559.3h1M472.4 536.1h1M468.8 574.4h1M467.2 517.4h1M470.1 555.4h1M476.0 572.3h1M467.0 516.5h1M475.3 561.0h1M476.5 510.8h1M471.2 525.6h1M482.8 568.7h1M481.4 550.9h1M483.7 565.6h1M484.1 513.0h1M487.1 533.1h1M480.7 516.3h1M478.2 531.0h1M484.4 543.8h1M487.4 499.4h1M479.5 545.9h1M479.7 498.4h1M481.8 549.2h1M485.5 518.0h1M484.7 564.1h1M486.3 562.0h1M484.3 544.3h1M479.5 513.2h1M485.6 536.3h1M479.6 516.2h1M480.8 534.6h1M482.9 503.7h1M478.1 544.3h1M486.8 567.4h1M478.9 528.9h1M482.5 502.2h1M479.0 506.3h1M482.7 527.7h1M485.2 543.7h1M479.5 532.0h1M486.4 542.7h1M481.1 536.6h1M485.9 547.2h1M483.0 501.7h1M479.0 550.8h1M480.3 571.6h1M489.1 563.6h.9M490.0 555.8h.9M496.5 559.4h.9M494.7 513.7h.9M497.4 529.4h.9M496.2 506.4h.9M495.9 514.9h.9M493.5 488.6h.9M496.2 513.7h.9M489.2 515.4h.9M495.6 516.8h.9M497.4 529.5h.9M491.1 497.8h.9M494.7 509.5h.9M494.3 502.5h.9M491.5 544.0h.9M493.9 541.5h.9M489.3 549.0h.9M494.0 517.5h.9M495.2 534.0h.9M490.0 506.6h.9M490.5 493.1h.9M491.2 559.7h.9M496.5 566.4h.9M489.0 475.3h.9M500.4 529.0h.9M502.2 514.3h.9M504.9 516.8h.9M506.5 535.7h.9M500.2 554.1h.9M506.8 519.9h.9M506.3 510.2h.9M502.3 565.8h.9M505.0 518.2h.9M507.5 519.8h.9M505.5 567.9h.9M501.4 549.3h.9M507.4 557.0h.9M501.3 552.2h.9M504.0 554.8h.9M504.3 513.2h.9M506.2 563.1h.9M503.6 530.7h.9M504.6 500.3h.9M508.0 522.5h.9M502.7 533.1h.9M500.2 502.4h.9M501.4 548.4h.9M504.5 560.1h.9M500.1 525.3h.9" stroke="#555" stroke-width="0.9"/>
<path d="M47.6 566.9h1.1M49.5 564.1h1.1M48.0 553.3h1.1M48.2 543.0h1.1M51.4 548.8h1.1M50.1 554.5h1.1M49.4 539.8h1.1M50.5 560.5h1.1M51.3 553.8h1.1M48.7 513.8h1.1M50.2 568.2h1.1M48.6 562.7h1.1M48.1 551.9h1.1M49.1 528.4h1.1M48.8 506.2h1.1M49.1 555.7h1.1M51.6 549.5h1.1M49.1 515.8h1.1M49.7 561.5h1.1M49.7 510.0h1.1M48.9 518.1h1.1M48.3 532.6h1.1M49.9 508.3h1.1M50.6 526.9h1.1M49.4 512.6h1.1M49.2 558.8h1.1M48.2 550.4h1.1M48.7 556.8h1.1M48.1 534.0h1.1M51.2 540.7h1.1M50.0 520.5h1.1M49.5 507.4h1.1M50.4 545.6h1.1M49.6 524.9h1.1M51.5 573.8h1.1M49.2 541.3h1.1M51.4 539.7h1.1M50.3 505.2h1.1M50.2 573.3h1.1M46.2 574.5h1.1M50.7 524.8h1.1M50.0 552.6h1.1M48.9 511.5h1.1M47.7 542.7h1.1M51.2 553.1h1.1M48.1 539.1h1.1M49.9 526.5h1.1M49.4 508.1h1.1M47.7 553.8h1.1M51.2 551.7h1.1M49.4 520.6h1.1M48.6 554.1h1.1M49.9 528.0h1.1M47.7 559.7h1.1M49.9 554.2h1.1M49.0 557.5h1.1M47.8 545.3h1.1M48.9 512.1h1.1M48.5 547.1h1.1M49.0 560.5h1.1M51.1 541.4h1.1M49.7 545.8h1.1M52.8 570.9h1.1M49.6 519.8h1.1M50.2 555.6h1.1M49.1 514.9h1.1M51.3 570.1h1.1M49.4 514.4h1.1M48.4 529.5h1.1M49.7 531.9h1.1M46.7 573.2h1.1M49.5 520.8h1.1M50.3 535.4h1.1M51.6 547.7h1.1M51.7 551.8h1.1M49.0 544.8h1.1M48.2 534.0h1.1M47.5 552.4h1.1M49.2 514.2h1.1M48.8 520.6h1.1M49.1 543.4h1.1M50.4 511.7h1.1M47.5 560.4h1.1M48.5 572.7h1.1M49.5 515.9h1.1M50.3 515.2h1.1M46.4 571.7h1.1M47.5 546.4h1.1M49.0 556.1h1.1M48.8 507.6h1.1M48.9 516.5h1.1M49.4 530.1h1.1M51.0 535.3h1.1M49.4 557.9h1.1M49.8 544.0h1.1M49.7 547.5h1.1M48.3 533.9h1.1M50.5 509.0h1.1M50.1 518.6h1.1M49.5 556.0h1.1M48.7 569.1h1.1M49.8 521.2h1.1M50.7 547.5h1.1M51.0 536.2h1.1M48.5 546.3h1.1M48.7 540.3h1.1M51.2 554.5h1.1M47.9 561.4h1.1M48.9 526.9h1.1M47.7 570.4h1.1M49.3 520.5h1.1M46.6 569.1h1.1M50.5 513.9h1.1M47.2 565.1h1.1M51.4 544.6h1.1M48.9 565.6h1.1M50.4 547.6h1.1M51.5 559.2h1.1M48.7 553.9h1.1M48.2 565.5h1.1M50.5 552.9h1.1M49.2 531.9h1.1M49.9 555.3h1.1M49.1 554.9h1.1M50.2 525.0h1.1M50.4 530.8h1.1M52.5 563.7h1.1M48.9 518.8h1.1M50.2 548.6h1.1M48.1 537.9h1.1M50.3 525.7h1.1M50.2 530.1h1.1M49.8 561.4h1.1M49.1 510.8h1.1M49.8 562.7h1.1M49.6 571.8h1.1M47.2 574.4h1.1M61.3 507.8h1.1M65.1 508.1h1.1M63.6 508.6h1.1M61.3 505.4h1.1M57.2 509.3h1.1M63.0 505.4h1.1M57.2 509.9h1.1M57.7 508.5h1.1M62.3 509.1h1.1M58.4 506.3h1.1M61.1 509.2h1.1M60.0 509.2h1.1M65.1 506.9h1.1M60.9 508.7h1.1M62.9 508.0h1.1M64.6 508.9h1.1M63.8 507.3h1.1M64.1 508.7h1.1M63.9 509.4h1.1M65.0 509.9h1.1M61.1 508.5h1.1M63.6 508.9h1.1M60.2 507.3h1.1M63.1 505.8h1.1M59.8 510.5h1.1M58.2 505.9h1.1M59.0 507.3h1.1M56.9 510.3h1.1M57.4 506.7h1.1M63.4 508.6h1.1M57.0 506.0h1.1M61.7 507.5h1.1M56.7 510.0h1.1M58.1 505.6h1.1M58.5 506.2h1.1M61.8 508.9h1.1M58.1 506.2h1.1M58.0 506.5h1.1M59.2 509.2h1.1M63.8 508.0h1.1M58.8 507.6h1.1M64.6 509.9h1.1M61.3 506.9h1.1M60.8 510.3h1.1M56.9 506.2h1.1M63.6 510.2h1.1M61.2 507.1h1.1M58.9 507.8h1.1M62.3 510.4h1.1M56.5 506.3h1.1M59.8 507.6h1.1M62.8 509.4h1.1M57.8 508.3h1.1M59.3 505.9h1.1M64.2 506.4h1.1M62.1 507.8h1.1M58.8 510.5h1.1M57.8 507.9h1.1M56.4 509.2h1.1M64.0 509.5h1.1M56.8 562.5h1M56.1 548.4h1M56.1 553.7h1M64.6 546.4h1M56.1 519.3h1M64.9 512.7h1M64.8 543.5h1M65.0 563.2h1M65.8 534.1h1M56.8 551.9h1M56.4 553.3h1M56.4 552.5h1M65.5 507.3h1M65.3 538.9h1M56.2 537.7h1M56.1 564.0h1M65.7 516.9h1M65.5 557.6h1M56.9 544.3h1M56.8 520.1h1M65.5 570.9h1M64.7 529.1h1M57.1 516.1h1M57.0 549.4h1M65.3 533.9h1M57.2 512.6h1M65.1 573.7h1M65.7 511.4h1M56.3 516.0h1M65.2 562.4h1M56.3 569.2h1M65.8 548.3h1M56.9 560.3h1M65.4 519.4h1M64.9 513.7h1M65.6 529.2h1M56.9 548.1h1M65.3 543.2h1M56.5 530.5h1M56.5 520.0h1M71.9 505.8h1.1M70.0 505.0h1.1M70.6 504.5h1.1M74.7 506.8h1.1M71.3 504.9h1.1M71.9 502.8h1.1M68.1 504.0h1.1M72.7 504.0h1.1M74.9 502.8h1.1M71.6 506.1h1.1M74.1 502.1h1.1M73.2 506.1h1.1M74.9 502.4h1.1M70.4 505.1h1.1M74.2 502.7h1.1M74.3 504.1h1.1M74.4 503.4h1.1M71.7 502.7h1.1M75.6 504.7h1.1M73.6 503.6h1.1M75.5 503.2h1.1M74.1 503.1h1.1M73.6 503.9h1.1M73.9 504.9h1.1M74.5 507.0h1.1M69.5 504.6h1.1M70.0 506.7h1.1M75.3 507.0h1.1M75.4 502.7h1.1M69.7 507.0h1.1M74.8 504.1h1.1M73.7 503.6h1.1M67.9 506.9h1.1M70.1 502.2h1.1M69.9 504.1h1.1M75.2 506.5h1.1M70.7 505.5h1.1M75.3 503.9h1.1M73.6 502.2h1.1M67.9 503.2h1.1M72.1 502.3h1.1M67.8 505.4h1.1M71.4 502.4h1.1M75.9 504.5h1.1M74.5 504.1h1.1M69.7 505.8h1.1M71.5 504.7h1.1M72.7 502.1h1.1M69.5 503.5h1.1M71.9 503.2h1.1M76.0 507.1h1.1M72.1 502.0h1.1M74.1 506.7h1.1M74.6 502.4h1.1M73.4 506.9h1.1M69.6 506.4h1.1M67.4 502.6h1.1M69.1 506.4h1.1M68.6 504.2h1.1M68.7 503.1h1.1M76.4 527.2h1M75.8 524.4h1M75.7 556.8h1M76.3 521.2h1M67.0 568.7h1M67.0 573.8h1M76.0 525.6h1M67.8 551.8h1M75.5 565.1h1M75.7 521.6h1M76.3 548.6h1M76.4 526.7h1M67.3 518.1h1M67.3 533.4h1M67.9 562.6h1M75.7 530.3h1M67.5 516.6h1M67.7 552.8h1M76.2 522.8h1M68.0 531.7h1M67.0 554.2h1M76.3 517.3h1M67.5 574.1h1M75.6 567.8h1M76.4 508.3h1M75.7 563.1h1M76.3 554.8h1M76.2 573.2h1M76.4 518.9h1M67.0 513.9h1M76.5 543.0h1M67.6 534.3h1M67.7 504.9h1M75.7 532.0h1M76.1 537.8h1M67.9 543.2h1M76.2 567.0h1M76.0 503.8h1M66.8 574.4h1M67.5 532.5h1M84.7 505.5h1.1M84.7 501.7h1.1M81.6 505.4h1.1M79.2 504.8h1.1M82.4 505.4h1.1M85.6 501.3h1.1M86.5 503.6h1.1M85.2 504.6h1.1M87.0 502.8h1.1M85.9 500.4h1.1M80.3 503.9h1.1M82.1 504.4h1.1M85.8 502.9h1.1M80.5 501.1h1.1M78.7 503.5h1.1M85.1 503.1h1.1M80.2 502.7h1.1M85.7 504.4h1.1M83.0 504.2h1.1M85.2 505.0h1.1M81.3 500.8h1.1M78.4 500.6h1.1M85.8 501.9h1.1M79.1 504.6h1.1M81.5 501.0h1.1M83.6 504.7h1.1M78.7 505.0h1.1M79.9 505.4h1.1M85.9 503.5h1.1M79.8 504.0h1.1M81.9 503.7h1.1M81.1 500.1h1.1M83.7 501.7h1.1M83.5 501.5h1.1M79.7 503.8h1.1M84.3 500.7h1.1M79.2 502.6h1.1M86.5 500.6h1.1M81.2 503.4h1.1M87.0 501.1h1.1M84.7 503.8h1.1M80.8 502.0h1.1M79.3 502.2h1.1M81.9 503.5h1.1M81.7 504.5h1.1M82.6 502.5h1.1M81.1 505.2h1.1M80.1 503.9h1.1M80.6 503.2h1.1M80.6 504.8h1.1M84.1 504.7h1.1M86.4 502.5h1.1M84.7 502.1h1.1M82.1 503.3h1.1M81.8 500.4h1.1M82.0 501.5h1.1M80.7 505.2h1.1M84.1 503.8h1.1M81.7 501.3h1.1M86.1 500.7h1.1M86.6 519.9h1M78.2 509.0h1M78.7 508.8h1M86.3 528.1h1M87.4 544.6h1M78.0 561.1h1M78.4 512.9h1M86.8 535.5h1M77.7 549.2h1M86.8 572.9h1M77.6 518.3h1M87.0 506.4h1M78.2 559.3h1M86.7 544.2h1M86.3 512.0h1M78.6 559.6h1M87.0 548.9h1M87.2 572.4h1M86.4 510.2h1M87.4 528.6h1M78.7 567.0h1M77.9 531.7h1M78.7 508.4h1M78.2 518.9h1M87.2 524.0h1M86.8 519.5h1M86.4 573.9h1M77.8 509.1h1M78.7 509.1h1M78.3 542.8h1M78.3 546.3h1M77.9 502.3h1M86.4 509.5h1M78.3 540.3h1M78.4 537.6h1M78.5 523.4h1M86.6 509.7h1M78.1 537.2h1M78.4 538.1h1M86.5 523.4h1M95.7 563.1h1.1M92.1 553.0h1.1M93.0 509.7h1.1M92.6 510.5h1.1M92.2 522.4h1.1M92.2 502.9h1.1M92.4 516.3h1.1M94.4 527.1h1.1M92.4 542.5h1.1M92.2 509.1h1.1M93.6 531.6h1.1M93.8 551.0h1.1M93.0 521.2h1.1M92.7 564.1h1.1M93.3 531.2h1.1M95.1 569.5h1.1M91.9 517.8h1.1M90.8 555.5h1.1M93.9 560.0h1.1M92.5 562.7h1.1M94.4 568.5h1.1M95.9 564.8h1.1M94.0 532.8h1.1M94.0 557.1h1.1M93.6 535.8h1.1M90.7 553.4h1.1M90.1 566.8h1.1M91.6 530.3h1.1M90.3 571.5h1.1M92.6 526.4h1.1M95.9 568.5h1.1M93.3 520.2h1.1M92.6 542.8h1.1M92.9 562.6h1.1M93.1 541.9h1.1M94.7 566.0h1.1M91.2 530.3h1.1M93.8 564.1h1.1M94.0 534.3h1.1M92.6 555.3h1.1M92.6 549.2h1.1M90.6 560.8h1.1M92.2 556.6h1.1M92.8 509.8h1.1M92.0 552.0h1.1M91.0 536.8h1.1M95.0 570.0h1.1M92.1 524.8h1.1M93.9 521.4h1.1M92.2 507.0h1.1M93.0 537.0h1.1M91.4 535.1h1.1M93.1 519.0h1.1M92.8 555.1h1.1M93.8 515.7h1.1M91.6 532.5h1.1M92.8 542.5h1.1M94.8 539.4h1.1M92.1 532.8h1.1M91.9 524.2h1.1M95.6 573.8h1.1M91.9 558.8h1.1M92.2 516.9h1.1M93.9 517.4h1.1M92.2 533.7h1.1M93.4 511.7h1.1M93.5 563.1h1.1M96.0 564.5h1.1M92.6 511.9h1.1M93.7 517.8h1.1M91.6 554.3h1.1M91.7 547.3h1.1M91.9 508.2h1.1M95.7 562.2h1.1M92.6 515.9h1.1M93.1 564.0h1.1M92.1 513.9h1.1M90.7 562.7h1.1M94.1 559.6h1.1M93.6 549.2h1.1M92.6 529.0h1.1M93.8 561.4h1.1M92.7 546.1h1.1M91.9 555.5h1.1M93.2 521.6h1.1M93.5 526.1h1.1M89.9 567.8h1.1M93.2 546.6h1.1M94.6 570.3h1.1M91.2 528.6h1.1M107.0 519.9h1.1M102.0 568.0h1.1M105.1 526.1h1.1M107.8 561.9h1.1M100.6 554.4h1.1M99.9 560.2h1.1M106.0 567.8h1.1M106.9 563.4h1.1M107.3 551.3h1.1M103.6 555.3h1.1M102.5 540.0h1.1M101.4 511.0h1.1M101.3 563.9h1.1M105.9 556.1h1.1M103.8 558.4h1.1M101.9 535.5h1.1M104.7 526.2h1.1M107.4 558.0h1.1M106.9 536.5h1.1M101.8 570.1h1.1M104.7 572.2h1.1M106.1 572.7h1.1M102.0 536.7h1.1M103.6 548.5h1.1M106.1 512.5h1.1M103.4 549.3h1.1M101.5 561.2h1.1M104.2 527.2h1.1M102.4 530.3h1.1M100.6 516.2h1.1M103.9 538.1h1.1M104.9 572.0h1.1M102.9 541.9h1.1M103.5 529.8h1.1M100.3 572.5h1.1M105.1 543.1h1.1M104.1 562.2h1.1M107.3 555.4h1.1M101.5 569.6h1.1M107.7 549.7h1.1M101.2 548.9h1.1M99.9 562.4h1.1M104.0 523.3h1.1M105.3 532.5h1.1M102.1 560.2h1.1M104.9 562.4h1.1M103.3 559.1h1.1M100.6 543.1h1.1M107.3 545.7h1.1M99.7 568.9h1.1M102.1 516.3h1.1M103.1 558.4h1.1M103.1 521.5h1.1M105.6 551.5h1.1M104.8 541.2h1.1M104.6 557.7h1.1M105.1 513.8h1.1M100.5 521.5h1.1M99.8 545.6h1.1M102.9 516.5h1.1M100.5 545.3h1.1M106.8 572.2h1.1M104.3 546.4h1.1M107.3 535.5h1.1M102.3 520.8h1.1M106.3 528.8h1.1M102.9 547.7h1.1M106.7 540.9h1.1M105.8 531.4h1.1M103.2 559.2h1.1M103.2 538.8h1.1M102.2 544.3h1.1M102.9 554.5h1.1M105.7 534.7h1.1M103.4 544.5h1.1M103.3 568.4h1.1M106.7 539.5h1.1M106.2 573.4h1.1M105.0 541.1h1.1M101.9 561.0h1.1M107.5 560.1h1.1M105.1 556.3h1.1M104.9 543.2h1.1M105.6 529.2h1.1M107.5 549.5h1.1M105.3 537.2h1.1M103.1 510.1h1.1M101.6 562.4h1.1M101.4 553.9h1.1M107.5 540.9h1.1M106.6 527.0h1.1M104.2 515.2h1.1M106.6 565.3h1.1M104.3 540.4h1.1M105.9 559.4h1.1M104.3 561.3h1.1M105.2 531.0h1.1M104.0 550.8h1.1M100.4 573.9h1.1M102.1 563.1h1.1M107.5 560.2h1.1M104.2 532.6h1.1M103.6 548.9h1.1M104.5 524.7h1.1M105.1 569.1h1.1M105.9 533.7h1.1M100.9 542.3h1.1M103.3 553.4h1.1M107.6 549.0h1.1M107.3 551.3h1.1M105.6 537.9h1.1M102.3 516.7h1.1M105.2 558.3h1.1M102.6 565.7h1.1M102.6 532.6h1.1M99.8 549.4h1.1M104.9 539.4h1.1M102.3 523.2h1.1M107.4 568.0h1.1M101.3 530.9h1.1M100.7 520.6h1.1M105.7 563.9h1.1M103.6 531.9h1.1M99.7 558.5h1.1M106.8 565.2h1.1M105.1 528.1h1.1M102.3 558.7h1.1M101.2 568.3h1.1M102.2 545.6h1.1M106.1 543.6h1.1M104.5 551.3h1.1M101.2 573.9h1.1M104.5 528.9h1.1M106.9 523.3h1.1M103.2 537.2h1.1M106.2 543.0h1.1M105.2 570.3h1.1M102.6 525.0h1.1M101.3 559.1h1.1M106.9 568.6h1.1M102.7 529.2h1.1M105.3 529.4h1.1M105.0 513.8h1.1M106.0 515.5h1.1M104.3 549.8h1.1M100.5 518.6h1.1M107.4 538.0h1.1M106.6 553.1h1.1M100.9 515.5h1.1M105.0 510.7h1.1M102.0 525.4h1.1M105.3 556.9h1.1M103.4 535.9h1.1M104.1 533.6h1.1M102.6 538.1h1.1M102.1 530.8h1.1M100.1 531.7h1.1M104.3 535.1h1.1M100.8 532.2h1.1M103.4 566.6h1.1M102.1 547.9h1.1M105.9 568.8h1.1M105.0 554.4h1.1M103.7 558.3h1.1M102.8 541.8h1.1M103.4 547.4h1.1M103.9 548.9h1.1M107.0 563.6h1.1M100.2 529.0h1.1M100.1 534.5h1.1M104.7 564.0h1.1M101.3 533.4h1.1M106.6 567.8h1.1M105.3 557.8h1.1M103.3 561.2h1.1M104.1 540.8h1.1M108.0 568.4h1.1M106.6 570.3h1.1M101.9 516.6h1.1M104.0 573.1h1.1M102.1 548.1h1.1M103.8 567.5h1.1M99.8 574.1h1.1M99.3 574.3h1.1M102.9 523.2h1.1M100.4 555.3h1.1M107.2 550.9h1.1M105.7 543.2h1.1M104.3 552.6h1.1M103.4 525.1h1.1M105.2 569.5h1.1M103.3 528.5h1.1M102.3 549.8h1.1M104.7 551.8h1.1M101.8 510.3h1.1M101.3 556.3h1.1M105.4 516.5h1.1M107.1 536.7h1.1M100.4 550.7h1.1M101.7 555.2h1.1M105.6 565.0h1.1M99.9 561.9h1.1M105.6 512.4h1.1M101.5 522.5h1.1M101.4 511.9h1.1M107.3 545.6h1.1M101.8 535.8h1.1M100.9 565.7h1.1M104.6 555.1h1.1M99.6 571.3h1.1M102.7 550.9h1.1M101.5 565.4h1.1M101.0 559.6h1.1M107.4 546.9h1.1M102.0 530.2h1.1M105.2 570.4h1.1M101.5 515.8h1.1M102.1 530.0h1.1M105.4 566.6h1.1M105.2 573.6h1.1M102.7 554.7h1.1M103.6 559.7h1.1M103.6 515.1h1.1M103.9 540.0h1.1M100.5 514.0h1.1M102.5 573.7h1.1M101.0 536.4h1.1M107.0 552.7h1.1M103.7 525.7h1.1M105.8 547.2h1.1M101.5 551.1h1.1M105.3 526.4h1.1M106.2 517.0h1.1M101.6 512.3h1.1M106.4 545.2h1.1M105.7 554.2h1.1M105.5 562.1h1.1M105.9 514.3h1.1M101.3 523.1h1.1M100.5 512.8h1.1M102.6 568.3h1.1M100.5 517.8h1.1M104.5 566.7h1.1M99.6 570.3h1.1M102.2 520.1h1.1M100.8 526.5h1.1M104.7 527.3h1.1M101.3 524.7h1.1M102.6 549.3h1.1M104.1 523.3h1.1M102.8 547.7h1.1M100.0 545.6h1.1M101.1 554.0h1.1M99.9 536.8h1.1M104.4 568.8h1.1M104.0 540.5h1.1M100.4 571.5h1.1M105.3 539.9h1.1M105.2 539.2h1.1M99.6 569.9h1.1M102.1 533.3h1.1M106.1 561.5h1.1M107.2 558.7h1.1M102.9 526.1h1.1M106.0 567.0h1.1M107.0 520.1h1.1M106.8 561.0h1.1M104.5 538.6h1.1M107.2 572.5h1.1M106.8 551.8h1.1M106.7 574.5h1.1M107.5 556.3h1.1M103.0 522.8h1.1M100.7 551.0h1.1M99.9 563.1h1.1M101.8 554.7h1.1M104.5 536.0h1.1M103.3 526.6h1.1M107.9 567.2h1.1M102.7 531.8h1.1M101.0 558.4h1.1M101.0 566.8h1.1M102.3 550.6h1.1M100.4 507.4h1.1M102.5 507.6h1.1M107.3 532.7h1.1M100.0 555.2h1.1M101.4 559.6h1.1M105.4 546.1h1.1M107.4 567.2h1.1M102.2 542.3h1.1M102.2 540.8h1.1M103.3 561.0h1.1M100.7 557.9h1.1M107.7 563.3h1.1M104.5 527.4h1.1M100.3 524.3h1.1M101.2 541.9h1.1M104.3 560.4h1.1M107.6 557.3h1.1M100.9 515.0h1.1M103.4 512.6h1.1M105.2 565.5h1.1M106.5 550.0h1.1M100.7 539.2h1.1M99.7 555.5h1.1M100.2 529.4h1.1M100.5 524.2h1.1M100.7 549.1h1.1M106.3 553.3h1.1M100.8 537.4h1.1M105.6 557.1h1.1M104.1 568.6h1.1M106.6 552.0h1.1M107.6 557.5h1.1M105.7 533.5h1.1M103.4 555.0h1.1M103.5 509.3h1.1M104.4 531.9h1.1M103.7 547.8h1.1M101.1 515.1h1.1M105.1 553.5h1.1M106.3 574.1h1.1M103.3 533.7h1.1M106.1 547.5h1.1M106.9 540.7h1.1M102.8 546.2h1.1M102.5 546.0h1.1M99.6 574.6h1.1M100.4 541.0h1.1M100.7 557.5h1.1M103.1 523.2h1.1M105.8 553.2h1.1M102.0 543.8h1.1M106.6 538.9h1.1M100.1 528.2h1.1M103.5 568.7h1.1M101.1 521.8h1.1M105.8 569.0h1.1M104.8 515.6h1.1M103.3 528.3h1.1M100.0 553.4h1.1M102.2 571.3h1.1M105.6 522.8h1.1M100.4 519.8h1.1M103.4 556.0h1.1M106.2 569.5h1.1M100.3 527.7h1.1M103.4 553.3h1.1M106.8 534.5h1.1M104.7 527.9h1.1M106.6 516.5h1.1M104.7 572.0h1.1M105.3 535.8h1.1M106.3 569.6h1.1M103.7 513.1h1.1M104.0 522.5h1.1M106.9 572.1h1.1M104.0 530.8h1.1M101.1 535.6h1.1M105.9 561.1h1.1M103.0 536.9h1.1M105.6 558.5h1.1M100.6 545.0h1.1M101.4 518.6h1.1M103.6 565.6h1.1M102.5 555.6h1.1M101.2 539.0h1.1M104.6 573.3h1.1M105.1 521.5h1.1M104.6 553.0h1.1M104.6 562.6h1.1M107.8 568.2h1.1M104.8 541.4h1.1M103.0 539.4h1.1M104.8 538.8h1.1M102.5 537.9h1.1M106.3 566.7h1.1M106.5 557.4h1.1M104.8 540.1h1.1M102.3 531.0h1.1M105.7 519.1h1.1M101.9 570.6h1.1M100.7 539.6h1.1M104.6 522.7h1.1M100.0 569.0h1.1M105.6 531.2h1.1M106.4 529.1h1.1M103.4 537.9h1.1M102.1 527.3h1.1M101.9 542.6h1.1M99.7 560.3h1.1M106.2 555.3h1.1M101.3 536.2h1.1M100.7 520.8h1.1M104.5 563.8h1.1M103.3 509.9h1.1M102.2 553.0h1.1M103.1 512.5h1.1M107.3 538.0h1.1M106.9 538.4h1.1M104.3 567.8h1.1M105.8 521.3h1.1M104.0 518.1h1.1M100.8 518.8h1.1M101.0 541.7h1.1M104.4 574.2h1.1M107.7 569.3h1.1M104.9 561.9h1.1M115.4 566.7h1.1M114.2 523.6h1.1M113.9 511.1h1.1M115.0 514.2h1.1M114.8 508.7h1.1M113.8 550.6h1.1M114.2 520.4h1.1M115.3 539.4h1.1M115.1 520.6h1.1M112.8 569.4h1.1M114.4 535.0h1.1M115.1 512.0h1.1M114.4 507.0h1.1M113.7 511.8h1.1M116.9 570.8h1.1M114.1 509.2h1.1M114.5 532.5h1.1M115.1 512.4h1.1M126.6 545.3h1.1M122.6 566.3h1.1M125.9 559.9h1.1M127.1 550.1h1.1M125.2 506.0h1.1M126.7 534.7h1.1M125.4 517.8h1.1M125.7 515.9h1.1M126.2 542.8h1.1M126.3 529.6h1.1M124.7 499.9h1.1M127.3 558.7h1.1M124.0 561.4h1.1M125.7 509.6h1.1M122.9 558.6h1.1M125.4 570.8h1.1M125.2 504.0h1.1M124.1 532.0h1.1M127.9 567.9h1.1M125.2 514.0h1.1M125.7 527.0h1.1M125.0 512.6h1.1M125.2 537.3h1.1M125.6 539.0h1.1M128.0 571.1h1.1M127.3 569.2h1.1M124.7 523.3h1.1M125.8 540.8h1.1M124.6 550.6h1.1M124.0 574.1h1.1M124.5 502.0h1.1M125.7 521.7h1.1M122.6 565.3h1.1M124.7 524.0h1.1M127.5 562.0h1.1M124.3 526.2h1.1M128.3 572.7h1.1M125.1 557.7h1.1M126.7 559.5h1.1M124.3 544.2h1.1M125.9 545.3h1.1M125.7 530.9h1.1M126.2 516.2h1.1M124.7 521.9h1.1M128.2 572.3h1.1M127.4 570.3h1.1M127.2 565.7h1.1M123.4 548.0h1.1M127.0 558.6h1.1M122.6 565.1h1.1M125.7 507.4h1.1M126.8 542.7h1.1M124.9 574.1h1.1M126.1 555.1h1.1M124.6 556.2h1.1M123.2 552.8h1.1M126.7 568.8h1.1M125.1 563.0h1.1M125.2 521.3h1.1M125.5 555.4h1.1M124.3 512.5h1.1M124.4 536.4h1.1M124.7 523.2h1.1M125.9 537.7h1.1M126.4 569.5h1.1M126.0 502.2h1.1M126.3 550.8h1.1M124.6 551.1h1.1M124.0 532.0h1.1M123.1 554.3h1.1M127.3 555.4h1.1M125.8 554.6h1.1M127.9 563.3h1.1M128.1 563.6h1.1M123.5 540.8h1.1M125.9 551.2h1.1M125.9 566.6h1.1M123.7 533.8h1.1M126.0 564.6h1.1M125.9 573.8h1.1M126.9 566.0h1.1M125.0 574.1h1.1M124.6 568.6h1.1M124.9 500.6h1.1M126.8 533.0h1.1M124.5 536.2h1.1M123.2 556.0h1.1M125.0 529.5h1.1M125.5 514.0h1.1M126.3 538.2h1.1M126.7 532.1h1.1M125.3 520.5h1.1M124.2 523.1h1.1M126.3 529.2h1.1M125.2 528.4h1.1M124.3 545.2h1.1M123.5 545.9h1.1M124.6 532.8h1.1M126.8 563.7h1.1M125.8 556.7h1.1M126.7 566.8h1.1M124.6 506.7h1.1M127.1 559.6h1.1M127.1 574.0h1.1M125.4 517.2h1.1M136.2 550.3h1.1M133.5 542.6h1.1M132.5 563.0h1.1M134.5 526.6h1.1M133.9 524.7h1.1M136.2 513.7h1.1M137.1 522.1h1.1M137.1 551.8h1.1M137.0 544.3h1.1M135.8 531.7h1.1M133.7 557.1h1.1M136.8 559.7h1.1M137.1 573.2h1.1M138.3 548.7h1.1M135.1 531.2h1.1M137.9 541.2h1.1M133.4 558.9h1.1M140.4 572.1h1.1M140.0 545.3h1.1M135.1 553.1h1.1M132.7 514.5h1.1M137.9 551.3h1.1M138.4 552.8h1.1M138.0 541.4h1.1M137.2 552.1h1.1M137.4 548.6h1.1M132.8 549.4h1.1M137.8 556.3h1.1M139.8 540.9h1.1M133.4 544.4h1.1M134.9 546.3h1.1M138.9 521.6h1.1M137.6 522.6h1.1M136.2 522.0h1.1M132.4 574.4h1.1M131.8 566.9h1.1M139.7 573.4h1.1M137.2 542.2h1.1M133.4 543.0h1.1M135.6 536.0h1.1M132.7 567.5h1.1M135.8 548.0h1.1M138.4 548.9h1.1M134.6 551.8h1.1M137.0 572.2h1.1M136.4 529.9h1.1M132.1 567.4h1.1M136.0 554.7h1.1M133.5 531.1h1.1M135.6 526.9h1.1M136.9 540.5h1.1M137.0 529.8h1.1M138.4 543.9h1.1M133.8 563.8h1.1M136.5 573.4h1.1M134.2 534.5h1.1M135.5 558.5h1.1M134.0 556.8h1.1M134.0 567.0h1.1M135.5 567.5h1.1M136.7 539.1h1.1M136.5 547.0h1.1M139.7 549.4h1.1M132.6 560.3h1.1M131.7 573.9h1.1M138.2 510.9h1.1M132.6 530.2h1.1M136.0 522.5h1.1M131.9 566.0h1.1M132.6 521.6h1.1M134.8 511.0h1.1M139.8 545.0h1.1M139.0 554.7h1.1M139.4 551.2h1.1M133.9 556.2h1.1M135.9 537.1h1.1M139.0 516.7h1.1M133.7 544.5h1.1M138.5 545.0h1.1M136.7 530.1h1.1M134.3 514.9h1.1M136.1 523.4h1.1M133.8 557.1h1.1M136.8 557.1h1.1M140.3 560.8h1.1M139.9 534.4h1.1M136.2 542.7h1.1M133.1 522.6h1.1M132.8 554.6h1.1M133.3 508.8h1.1M133.6 548.3h1.1M138.1 529.3h1.1M133.3 542.1h1.1M140.2 556.6h1.1M135.6 553.2h1.1M137.7 548.0h1.1M138.6 565.7h1.1M138.1 528.2h1.1M133.5 516.1h1.1M133.6 546.1h1.1M134.3 549.4h1.1M135.5 571.5h1.1M139.9 564.5h1.1M138.2 542.5h1.1M135.3 545.1h1.1M137.2 518.0h1.1M137.7 570.4h1.1M136.3 533.2h1.1M135.2 536.0h1.1M131.9 562.0h1.1M136.2 544.4h1.1M137.7 520.0h1.1M135.4 528.6h1.1M136.8 528.1h1.1M137.5 541.1h1.1M138.3 540.7h1.1M132.9 548.8h1.1M134.1 545.1h1.1M139.4 531.9h1.1M138.0 544.3h1.1M137.0 520.8h1.1M134.1 517.4h1.1M132.7 518.3h1.1M140.2 569.6h1.1M132.3 536.8h1.1M137.5 559.8h1.1M137.9 510.1h1.1M134.3 512.5h1.1M138.4 562.4h1.1M136.1 527.1h1.1M137.0 563.6h1.1M133.5 547.2h1.1M133.9 512.5h1.1M136.9 547.1h1.1M137.2 543.0h1.1M137.3 549.6h1.1M138.7 539.8h1.1M139.1 547.6h1.1M139.0 573.8h1.1M137.7 562.0h1.1M134.0 548.9h1.1M137.2 516.0h1.1M136.9 528.2h1.1M136.9 548.7h1.1M134.0 541.0h1.1M137.6 532.3h1.1M134.5 568.4h1.1M135.7 533.0h1.1M137.1 541.0h1.1M138.4 561.0h1.1M138.0 564.1h1.1M135.6 573.1h1.1M137.3 542.1h1.1M138.6 533.0h1.1M136.5 540.2h1.1M135.0 546.8h1.1M134.6 505.4h1.1M139.7 544.0h1.1M138.9 519.1h1.1M138.7 573.1h1.1M132.5 530.5h1.1M132.3 568.1h1.1M139.4 531.9h1.1M138.8 556.2h1.1M133.3 565.5h1.1M132.8 545.9h1.1M136.0 537.6h1.1M134.3 564.5h1.1M133.1 555.8h1.1M132.8 528.8h1.1M136.8 550.6h1.1M135.4 558.6h1.1M138.1 571.2h1.1M139.1 549.9h1.1M134.6 522.8h1.1M136.9 548.8h1.1M137.7 572.2h1.1M139.1 510.2h1.1M133.8 543.5h1.1M137.2 561.4h1.1M136.5 566.6h1.1M135.9 528.7h1.1M134.9 543.4h1.1M133.2 550.6h1.1M133.3 528.5h1.1M136.2 507.8h1.1M135.3 560.0h1.1M137.0 569.3h1.1M134.3 555.3h1.1M134.7 569.1h1.1M133.9 566.1h1.1M137.7 572.0h1.1M137.7 522.7h1.1M135.3 520.7h1.1M134.8 537.6h1.1M133.5 536.4h1.1M132.9 539.0h1.1M134.8 563.3h1.1M135.5 558.5h1.1M139.5 573.2h1.1M139.0 558.1h1.1M139.9 569.9h1.1M136.8 539.9h1.1M135.2 512.6h1.1M137.0 534.0h1.1M137.7 504.8h1.1M135.6 513.2h1.1M138.8 544.6h1.1M133.2 553.8h1.1M133.9 555.8h1.1M135.4 552.9h1.1M135.6 572.2h1.1M134.7 529.9h1.1M134.7 572.3h1.1M136.3 527.8h1.1M139.8 556.0h1.1M134.9 513.7h1.1M136.0 559.1h1.1M137.5 557.3h1.1M133.0 515.0h1.1M134.7 522.6h1.1M134.5 523.0h1.1M132.8 517.1h1.1M138.2 547.1h1.1M133.2 521.1h1.1M132.5 559.4h1.1M136.0 519.4h1.1M138.2 531.8h1.1M136.3 546.0h1.1M132.4 537.3h1.1M135.1 564.7h1.1M132.7 565.1h1.1M136.4 541.2h1.1M133.1 520.7h1.1M140.0 571.1h1.1M136.5 574.6h1.1M136.9 559.7h1.1M133.5 544.1h1.1M135.6 554.4h1.1M132.2 556.5h1.1M133.2 531.6h1.1M135.9 561.5h1.1M138.2 531.0h1.1M134.4 546.9h1.1M132.2 538.5h1.1M132.9 511.7h1.1M139.5 572.5h1.1M139.6 548.4h1.1M137.5 548.1h1.1M135.6 516.2h1.1M135.3 552.5h1.1M134.8 555.0h1.1M133.7 555.1h1.1M135.5 544.9h1.1M132.5 547.2h1.1M137.7 527.7h1.1M135.9 521.6h1.1M137.1 574.3h1.1M138.4 559.8h1.1M135.1 572.9h1.1M138.1 538.7h1.1M135.9 507.6h1.1M136.5 529.9h1.1M139.1 559.7h1.1M137.6 546.0h1.1M137.2 513.7h1.1M137.1 570.8h1.1M136.2 545.0h1.1M133.6 539.8h1.1M138.2 524.2h1.1M132.4 546.6h1.1M138.8 552.7h1.1M133.4 554.9h1.1M133.2 572.0h1.1M135.8 546.1h1.1M134.4 521.6h1.1M133.7 523.3h1.1M137.1 509.5h1.1M134.0 555.8h1.1M135.4 572.0h1.1M139.5 542.8h1.1M135.8 554.8h1.1M138.1 560.5h1.1M132.8 532.6h1.1M138.2 559.7h1.1M132.9 551.8h1.1M133.3 560.4h1.1M137.1 563.4h1.1M132.6 554.0h1.1M137.9 536.6h1.1M132.9 516.8h1.1M138.8 539.9h1.1M133.8 553.6h1.1M138.4 513.9h1.1M137.8 566.0h1.1M137.9 525.0h1.1M133.9 505.2h1.1M139.5 533.5h1.1M133.8 508.9h1.1M138.3 559.8h1.1M132.9 529.7h1.1M140.2 566.6h1.1M136.7 569.6h1.1M137.7 514.3h1.1M138.8 554.8h1.1M136.1 561.2h1.1M135.7 573.3h1.1M137.2 542.1h1.1M136.8 562.9h1.1M134.0 571.4h1.1M139.4 569.0h1.1M132.5 535.3h1.1M137.1 551.9h1.1M136.6 572.4h1.1M138.3 559.2h1.1M137.3 521.8h1.1M133.9 541.6h1.1M135.1 530.2h1.1M136.5 559.8h1.1M132.7 533.5h1.1M138.3 562.9h1.1M138.6 565.6h1.1M134.6 512.0h1.1M134.5 543.2h1.1M133.5 564.9h1.1M135.8 506.0h1.1M132.9 510.6h1.1M136.9 552.2h1.1M132.6 548.2h1.1M136.3 549.4h1.1M134.0 532.3h1.1M136.0 520.8h1.1M136.7 536.7h1.1M134.2 556.3h1.1M134.1 552.3h1.1M133.6 560.5h1.1M138.0 551.5h1.1M136.3 563.5h1.1M140.4 569.8h1.1M134.9 563.1h1.1M137.0 529.6h1.1M133.8 518.4h1.1M137.1 515.2h1.1M139.3 538.1h1.1M136.4 563.9h1.1M134.7 534.9h1.1M133.4 510.8h1.1M134.3 567.6h1.1M139.2 505.0h1.1M138.2 537.7h1.1M139.8 542.5h1.1M135.9 513.8h1.1M132.1 554.7h1.1M134.7 570.1h1.1M132.6 556.5h1.1M133.2 513.6h1.1M139.9 562.9h1.1M136.4 570.0h1.1M138.0 514.9h1.1M138.3 546.0h1.1M136.6 553.9h1.1M133.5 522.0h1.1M135.6 513.9h1.1M139.5 531.2h1.1M137.8 510.4h1.1M133.3 517.6h1.1M133.6 570.4h1.1M136.8 551.5h1.1M134.9 539.0h1.1M137.5 519.4h1.1M136.9 537.1h1.1M132.4 564.6h1.1M134.9 540.6h1.1M137.2 570.9h1.1M135.8 524.2h1.1M136.2 506.0h1.1M133.6 512.7h1.1M136.4 546.1h1.1M136.7 525.4h1.1M137.6 532.9h1.1M138.4 510.8h1.1M133.5 542.3h1.1M137.0 531.4h1.1M138.9 515.3h1.1M135.4 526.1h1.1M135.8 513.0h1.1M133.3 572.5h1.1M136.4 522.6h1.1M133.1 554.2h1.1M136.8 525.9h1.1M132.6 527.5h1.1M139.2 557.5h1.1M139.1 563.9h1.1M134.7 525.4h1.1M137.0 551.8h1.1M136.5 553.4h1.1M134.2 527.1h1.1M133.0 514.2h1.1M132.7 550.7h1.1M140.1 567.9h1.1M139.4 519.9h1.1M132.0 553.3h1.1M135.0 537.9h1.1M132.8 532.7h1.1M132.5 527.8h1.1M135.9 542.2h1.1M139.2 526.9h1.1M136.1 568.4h1.1M134.8 563.7h1.1M138.4 560.9h1.1M137.9 535.7h1.1M133.6 535.7h1.1M133.1 540.3h1.1M134.0 558.9h1.1M138.5 545.4h1.1M139.4 551.7h1.1M137.7 559.3h1.1M137.7 560.2h1.1M136.9 570.2h1.1M136.5 555.5h1.1M139.6 547.7h1.1M133.8 532.0h1.1M134.6 545.6h1.1M137.2 558.6h1.1M134.2 503.7h1.1M135.2 553.0h1.1M135.8 556.6h1.1M137.4 516.8h1.1M132.4 573.2h1.1M137.0 552.8h1.1M136.1 552.6h1.1M140.0 546.0h1.1M135.5 567.6h1.1M137.5 564.3h1.1M140.4 563.9h1.1M134.1 512.9h1.1M138.4 526.9h1.1M133.7 570.5h1.1M139.2 544.6h1.1M136.8 559.1h1.1M139.8 568.8h1.1M139.3 514.9h1.1M136.9 531.4h1.1M134.3 560.9h1.1M139.1 532.5h1.1M140.2 563.1h1.1M137.0 515.1h1.1M140.0 560.1h1.1M134.2 559.3h1.1M133.8 515.8h1.1M136.6 529.0h1.1M133.4 533.7h1.1M137.4 514.4h1.1M132.8 564.4h1.1M139.9 546.4h1.1M136.3 536.3h1.1M132.0 564.2h1.1M138.5 567.7h1.1M134.7 559.9h1.1M178.0 552.9h1.1M178.1 512.7h1.1M180.3 525.2h1.1M180.4 554.5h1.1M174.9 569.6h1.1M176.4 523.1h1.1M182.5 535.6h1.1M181.7 542.4h1.1M178.3 521.2h1.1M177.5 563.1h1.1M180.2 559.0h1.1M175.4 554.5h1.1M183.0 535.0h1.1M177.6 536.0h1.1M180.1 574.6h1.1M179.2 557.0h1.1M178.4 552.5h1.1M177.8 528.6h1.1M180.7 524.9h1.1M176.7 512.4h1.1M183.2 545.0h1.1M180.8 562.1h1.1M176.8 559.7h1.1M175.5 545.2h1.1M175.6 545.9h1.1M176.7 515.2h1.1M179.1 533.9h1.1M176.2 524.2h1.1M182.5 515.8h1.1M183.0 573.8h1.1M177.2 517.1h1.1M175.1 567.8h1.1M180.4 518.3h1.1M183.1 572.6h1.1M177.7 565.8h1.1M183.0 559.2h1.1M183.5 569.0h1.1M181.8 560.9h1.1M178.7 557.3h1.1M182.8 549.3h1.1M175.5 549.2h1.1M182.2 541.0h1.1M179.2 557.8h1.1M181.6 570.9h1.1M180.8 524.7h1.1M175.0 567.2h1.1M178.7 571.1h1.1M175.1 566.0h1.1M177.8 532.0h1.1M180.5 524.1h1.1M180.6 562.9h1.1M175.9 569.5h1.1M178.6 529.5h1.1M181.4 562.8h1.1M182.7 574.1h1.1M181.2 546.5h1.1M179.5 564.3h1.1M182.3 555.9h1.1M176.3 565.0h1.1M180.7 505.8h1.1M176.6 564.1h1.1M181.6 566.1h1.1M176.9 519.6h1.1M180.3 554.6h1.1M182.2 519.2h1.1M181.8 523.9h1.1M175.9 571.6h1.1M179.7 557.3h1.1M178.8 569.8h1.1M177.2 538.6h1.1M177.8 565.9h1.1M175.2 569.6h1.1M175.1 568.3h1.1M183.1 558.6h1.1M180.0 532.1h1.1M175.9 538.7h1.1M179.3 565.5h1.1M175.3 563.3h1.1M177.4 519.5h1.1M175.2 564.1h1.1M178.5 504.8h1.1M182.0 536.8h1.1M177.0 566.6h1.1M178.1 559.7h1.1M180.7 561.2h1.1M179.1 510.6h1.1M179.0 539.4h1.1M180.9 548.2h1.1M179.5 537.9h1.1M180.9 564.8h1.1M176.7 522.1h1.1M182.7 528.4h1.1M182.3 536.9h1.1M181.1 572.6h1.1M181.2 535.6h1.1M182.9 544.7h1.1M180.4 544.7h1.1M180.4 556.3h1.1M179.8 520.8h1.1M180.7 539.7h1.1M176.8 561.7h1.1M177.4 535.6h1.1M179.2 572.4h1.1M183.0 541.2h1.1M182.4 562.2h1.1M176.3 544.8h1.1M176.1 535.8h1.1M178.9 537.8h1.1M183.1 543.2h1.1M176.6 546.7h1.1M180.6 520.9h1.1M178.6 545.6h1.1M178.6 544.1h1.1M180.1 555.9h1.1M179.3 508.2h1.1M179.9 526.7h1.1M181.4 542.1h1.1M181.5 572.6h1.1M179.4 552.1h1.1M180.9 515.0h1.1M178.4 522.4h1.1M177.4 550.0h1.1M179.7 566.9h1.1M175.0 573.1h1.1M177.9 542.2h1.1M180.5 549.4h1.1M182.9 550.4h1.1M178.3 540.6h1.1M179.8 560.2h1.1M182.5 528.2h1.1M176.2 524.8h1.1M182.6 547.0h1.1M182.1 566.4h1.1M179.4 551.7h1.1M176.8 529.8h1.1M181.9 540.7h1.1M183.2 548.1h1.1M179.7 563.2h1.1M178.6 550.5h1.1M182.3 569.4h1.1M182.2 520.8h1.1M178.1 555.8h1.1M178.7 559.9h1.1M179.4 556.8h1.1M182.8 553.0h1.1M179.1 568.4h1.1M181.0 536.9h1.1M175.9 555.2h1.1M177.6 545.2h1.1M176.6 554.0h1.1M177.5 530.4h1.1M179.8 529.1h1.1M180.6 566.9h1.1M181.5 553.9h1.1M178.8 537.1h1.1M176.9 554.2h1.1M182.9 560.4h1.1M175.5 567.9h1.1M176.9 569.9h1.1M180.1 516.6h1.1M176.9 534.0h1.1M179.6 551.5h1.1M179.4 547.0h1.1M181.6 552.1h1.1M181.1 558.5h1.1M179.1 564.8h1.1M176.1 553.5h1.1M179.0 511.8h1.1M177.1 556.0h1.1M177.4 572.3h1.1M179.1 544.0h1.1M176.2 573.0h1.1M180.3 526.8h1.1M178.1 535.1h1.1M182.3 516.7h1.1M179.9 540.7h1.1M182.5 526.3h1.1M180.7 514.3h1.1M179.5 510.1h1.1M182.7 532.4h1.1M182.0 540.5h1.1M177.6 505.7h1.1M178.2 573.8h1.1M177.7 506.9h1.1M179.5 535.1h1.1M177.8 536.5h1.1M179.1 542.9h1.1M179.5 521.2h1.1M179.9 549.5h1.1M178.9 559.6h1.1M182.5 523.7h1.1M177.9 515.4h1.1M178.6 538.9h1.1M181.9 523.6h1.1M179.7 530.7h1.1M176.3 551.6h1.1M176.4 539.9h1.1M181.2 547.3h1.1M183.2 566.3h1.1M179.0 515.0h1.1M178.3 555.1h1.1M179.3 571.5h1.1M175.5 567.2h1.1M180.8 537.0h1.1M179.3 565.4h1.1M181.6 566.6h1.1M180.9 538.7h1.1M176.2 545.6h1.1M182.4 568.9h1.1M219.6 508.8h1.1M222.1 508.1h1.1M223.9 509.6h1.1M227.3 509.5h1.1M221.7 507.8h1.1M226.7 509.8h1.1M220.3 509.1h1.1M226.6 508.0h1.1M225.5 509.7h1.1M227.4 509.5h1.1M221.6 505.4h1.1M222.1 506.6h1.1M221.0 505.2h1.1M221.6 508.3h1.1M218.9 505.8h1.1M221.9 508.7h1.1M224.2 507.4h1.1M219.0 506.9h1.1M220.6 509.4h1.1M223.5 506.3h1.1M220.1 509.1h1.1M226.2 505.3h1.1M223.6 505.0h1.1M226.8 509.3h1.1M220.0 505.1h1.1M224.8 505.8h1.1M222.0 507.3h1.1M219.7 507.1h1.1M221.9 510.5h1.1M220.9 506.2h1.1M227.3 506.2h1.1M219.8 505.4h1.1M221.3 505.6h1.1M220.2 508.9h1.1M220.9 507.5h1.1M220.0 505.4h1.1M223.9 508.4h1.1M226.4 509.1h1.1M222.0 509.7h1.1M220.9 507.8h1.1M226.4 509.2h1.1M224.1 506.1h1.1M224.3 507.2h1.1M223.5 508.6h1.1M220.3 510.2h1.1M221.7 505.9h1.1M223.4 505.5h1.1M221.4 509.8h1.1M224.2 506.2h1.1M219.2 508.5h1.1M223.7 509.4h1.1M221.6 506.8h1.1M222.9 507.0h1.1M220.4 507.9h1.1M219.9 507.0h1.1M222.8 508.8h1.1M227.0 508.8h1.1M225.7 507.2h1.1M220.3 510.1h1.1M222.9 508.6h1.1M227.3 548.1h1M219.3 538.3h1M227.6 509.1h1M227.5 550.9h1M227.4 567.3h1M218.3 545.3h1M227.1 557.5h1M218.3 551.8h1M227.8 531.8h1M218.9 543.0h1M219.3 513.6h1M219.1 518.7h1M219.2 573.7h1M227.5 511.3h1M218.9 508.1h1M227.1 542.3h1M219.2 569.7h1M218.6 566.8h1M218.4 526.7h1M227.9 519.8h1M227.6 520.8h1M218.8 513.1h1M227.6 558.3h1M226.9 531.3h1M218.3 548.1h1M227.3 561.7h1M218.6 542.8h1M227.4 555.5h1M227.6 569.2h1M227.1 508.9h1M218.3 509.6h1M227.8 506.7h1M227.0 530.7h1M227.3 524.1h1M227.0 515.5h1M219.3 538.6h1M218.2 542.1h1M218.4 571.5h1M227.8 574.1h1M218.6 572.2h1M232.3 512.1h1.1M233.1 509.4h1.1M231.9 511.4h1.1M237.2 511.4h1.1M232.7 509.9h1.1M233.7 511.7h1.1M236.6 510.7h1.1M231.0 511.2h1.1M232.1 511.0h1.1M233.7 507.6h1.1M232.5 508.5h1.1M232.9 508.2h1.1M229.9 509.6h1.1M238.0 509.2h1.1M231.3 512.9h1.1M232.6 509.6h1.1M232.1 513.0h1.1M233.0 512.9h1.1M233.7 508.0h1.1M234.4 512.7h1.1M237.9 507.7h1.1M238.4 509.9h1.1M229.5 512.3h1.1M234.7 510.0h1.1M236.6 511.6h1.1M236.9 512.7h1.1M231.2 509.0h1.1M233.1 511.2h1.1M237.1 509.3h1.1M237.2 509.7h1.1M236.8 508.8h1.1M229.7 512.7h1.1M231.7 511.3h1.1M234.2 510.0h1.1M237.1 511.5h1.1M237.3 511.9h1.1M233.3 511.5h1.1M232.4 512.8h1.1M230.7 511.5h1.1M231.1 507.6h1.1M231.2 510.0h1.1M232.5 509.2h1.1M229.5 511.1h1.1M235.2 510.3h1.1M229.8 511.4h1.1M230.9 512.2h1.1M237.5 509.0h1.1M231.5 509.8h1.1M232.9 508.2h1.1M233.8 511.9h1.1M234.1 509.8h1.1M237.7 511.4h1.1M238.0 509.2h1.1M232.1 508.1h1.1M233.7 508.9h1.1M237.3 512.2h1.1M233.0 507.6h1.1M235.9 509.5h1.1M238.3 508.4h1.1M236.9 508.0h1.1M229.6 535.5h1M238.0 528.8h1M238.1 535.3h1M229.4 516.2h1M230.0 550.7h1M229.9 571.6h1M229.2 546.2h1M237.6 520.2h1M238.3 543.1h1M238.2 552.7h1M238.2 537.9h1M229.9 566.3h1M230.1 564.8h1M229.1 550.6h1M237.7 561.9h1M229.2 528.0h1M229.9 509.9h1M229.1 538.8h1M237.6 521.7h1M229.6 526.7h1M237.7 540.8h1M230.1 523.5h1M238.3 509.6h1M238.2 552.7h1M238.4 557.3h1M229.3 570.1h1M229.5 545.5h1M230.1 561.0h1M238.1 511.6h1M238.7 539.9h1M237.9 518.0h1M229.9 511.2h1M237.6 527.5h1M229.2 553.7h1M237.9 526.8h1M229.8 516.0h1M237.8 547.3h1M238.6 534.1h1M229.8 564.3h1M229.9 510.8h1M243.3 552.4h1.1M242.3 550.4h1.1M244.7 522.8h1.1M243.2 524.7h1.1M246.6 554.0h1.1M246.6 571.0h1.1M241.6 557.9h1.1M244.3 518.5h1.1M245.6 546.5h1.1M244.4 505.5h1.1M244.7 510.4h1.1M244.2 512.2h1.1M246.9 561.4h1.1M245.8 562.9h1.1M244.6 530.1h1.1M244.2 547.1h1.1M243.9 550.6h1.1M245.1 536.0h1.1M246.5 553.8h1.1M246.1 570.5h1.1M244.2 514.3h1.1M245.4 544.2h1.1M242.3 569.5h1.1M244.9 502.4h1.1M243.1 573.3h1.1M243.6 550.9h1.1M244.7 536.4h1.1M246.2 556.6h1.1M244.2 535.0h1.1M246.0 541.0h1.1M245.9 545.5h1.1M241.1 572.8h1.1M242.0 561.4h1.1M244.7 544.2h1.1M244.3 511.1h1.1M243.4 556.6h1.1M243.7 546.9h1.1M243.7 518.2h1.1M245.1 571.3h1.1M245.5 547.1h1.1M245.7 565.3h1.1M244.3 537.6h1.1M242.8 531.9h1.1M241.5 570.3h1.1M245.4 535.5h1.1M245.4 531.0h1.1M243.5 504.2h1.1M244.7 540.8h1.1M246.4 562.7h1.1M242.4 564.3h1.1M241.2 574.1h1.1M243.6 542.1h1.1M243.6 504.5h1.1M247.3 574.2h1.1M245.8 533.5h1.1M241.7 559.4h1.1M242.8 551.0h1.1M244.8 528.6h1.1M243.8 522.9h1.1M243.8 501.6h1.1M243.0 530.5h1.1M244.0 513.0h1.1M245.0 511.4h1.1M243.8 527.0h1.1M244.8 509.5h1.1M243.3 521.4h1.1M245.6 535.5h1.1M244.0 570.0h1.1M242.2 549.6h1.1M245.8 569.1h1.1M245.1 526.1h1.1M244.1 518.9h1.1M244.4 529.2h1.1M244.3 526.4h1.1M242.9 526.8h1.1M244.7 514.6h1.1M244.2 540.8h1.1M243.0 554.6h1.1M244.0 521.3h1.1M245.4 560.2h1.1M244.6 541.7h1.1M245.4 526.8h1.1M245.7 553.4h1.1M244.4 535.3h1.1M244.3 557.7h1.1M242.9 560.8h1.1M243.2 562.2h1.1M242.7 545.4h1.1M245.6 537.8h1.1M243.6 505.4h1.1M244.9 547.1h1.1M245.1 556.3h1.1M244.7 558.3h1.1M244.3 518.3h1.1M242.8 528.8h1.1M246.2 544.8h1.1M245.2 542.1h1.1M242.0 552.3h1.1M246.3 547.6h1.1M243.2 554.2h1.1M245.2 569.2h1.1M246.4 570.8h1.1M244.0 549.8h1.1M243.4 546.4h1.1M242.0 566.2h1.1M243.1 574.0h1.1M244.6 540.3h1.1M244.5 531.1h1.1M244.9 508.4h1.1M244.9 513.8h1.1M245.9 566.5h1.1M242.5 560.2h1.1M242.2 548.8h1.1M245.7 559.9h1.1M244.0 523.2h1.1M244.5 512.3h1.1M241.9 557.0h1.1M246.0 551.7h1.1M245.0 520.5h1.1M242.9 528.2h1.1M244.7 511.6h1.1M245.0 521.7h1.1M242.6 540.0h1.1M243.2 564.1h1.1M243.2 516.3h1.1M244.1 530.4h1.1M244.5 544.1h1.1M243.2 511.3h1.1M243.7 568.2h1.1M246.3 558.5h1.1M245.3 550.5h1.1M243.5 524.0h1.1M246.2 545.2h1.1M242.4 573.0h1.1M243.2 553.0h1.1M243.5 534.6h1.1M243.4 574.3h1.1M242.6 541.9h1.1M241.7 565.9h1.1M242.7 564.8h1.1M243.0 525.2h1.1M245.7 534.2h1.1M243.6 534.8h1.1M242.7 559.7h1.1M246.7 560.5h1.1M241.4 566.4h1.1M245.8 562.0h1.1M244.6 562.8h1.1M244.5 513.9h1.1M244.1 549.6h1.1M242.4 561.2h1.1M244.6 535.8h1.1M247.2 568.8h1.1M242.7 568.2h1.1M256.7 504.0h1.1M251.5 504.9h1.1M260.0 506.1h1.1M255.9 507.6h1.1M256.6 502.9h1.1M251.5 503.0h1.1M258.1 506.4h1.1M255.8 503.6h1.1M257.8 507.7h1.1M255.2 503.1h1.1M252.2 506.6h1.1M251.0 504.7h1.1M256.5 505.6h1.1M253.4 503.9h1.1M255.0 506.5h1.1M257.9 507.9h1.1M259.5 502.4h1.1M254.4 504.8h1.1M256.6 506.7h1.1M255.6 506.9h1.1M259.9 507.4h1.1M255.2 504.4h1.1M251.6 503.0h1.1M255.4 502.7h1.1M252.2 506.3h1.1M252.4 506.3h1.1M256.4 506.9h1.1M260.0 502.4h1.1M252.1 505.7h1.1M255.5 502.6h1.1M259.1 506.0h1.1M259.6 502.9h1.1M255.9 504.2h1.1M258.3 504.6h1.1M257.4 505.7h1.1M257.1 507.8h1.1M255.9 504.3h1.1M256.3 503.8h1.1M257.5 503.5h1.1M256.1 506.5h1.1M254.3 507.7h1.1M252.4 507.2h1.1M253.7 505.1h1.1M255.4 503.2h1.1M256.9 503.5h1.1M252.3 502.9h1.1M256.2 504.6h1.1M252.7 505.6h1.1M254.5 507.8h1.1M257.7 505.8h1.1M257.6 504.7h1.1M253.7 503.6h1.1M254.7 507.2h1.1M255.8 507.8h1.1M256.5 505.4h1.1M256.6 506.6h1.1M255.6 502.5h1.1M257.5 506.8h1.1M251.7 502.7h1.1M254.1 506.9h1.1M251.6 553.1h1M260.0 511.4h1M259.6 547.8h1M250.9 524.0h1M251.6 564.5h1M251.0 544.5h1M251.6 559.6h1M251.6 530.2h1M250.9 547.2h1M250.6 536.0h1M260.1 550.5h1M259.5 528.6h1M260.2 507.7h1M251.5 522.4h1M250.9 551.3h1M260.2 521.4h1M260.0 556.3h1M251.1 512.1h1M260.0 529.6h1M259.9 515.7h1M259.4 562.6h1M259.9 538.0h1M251.0 546.4h1M251.8 538.4h1M259.5 506.1h1M260.1 540.6h1M251.5 544.3h1M259.4 513.0h1M259.6 528.6h1M259.8 560.3h1M251.2 510.5h1M259.7 552.3h1M251.7 546.7h1M259.5 567.7h1M259.3 549.8h1M250.8 568.5h1M259.8 569.2h1M260.3 554.1h1M251.0 551.9h1M259.7 548.5h1M263.0 540.0h1.1M266.8 556.7h1.1M262.1 566.4h1.1M267.2 549.7h1.1M269.5 537.4h1.1M269.6 544.1h1.1M268.0 563.4h1.1M267.1 539.7h1.1M267.3 527.9h1.1M265.4 556.4h1.1M265.0 545.3h1.1M269.0 508.4h1.1M268.8 541.5h1.1M264.6 538.9h1.1M266.3 560.4h1.1M268.7 541.3h1.1M269.6 557.3h1.1M266.9 521.5h1.1M263.6 553.0h1.1M267.1 560.7h1.1M266.2 554.5h1.1M262.8 546.5h1.1M262.4 554.4h1.1M268.8 568.7h1.1M266.6 545.0h1.1M268.5 552.8h1.1M264.3 564.7h1.1M262.7 554.9h1.1M265.1 564.3h1.1M262.5 559.8h1.1M263.2 567.6h1.1M264.1 515.6h1.1M269.8 551.0h1.1M264.3 539.4h1.1M263.8 561.7h1.1M262.9 524.5h1.1M268.5 556.9h1.1M268.8 523.0h1.1M267.8 539.3h1.1M262.7 553.0h1.1M264.7 537.2h1.1M268.7 527.4h1.1M266.2 529.1h1.1M268.9 562.9h1.1M266.7 559.7h1.1M264.3 521.5h1.1M266.4 570.1h1.1M267.1 574.4h1.1M265.3 533.0h1.1M265.2 548.3h1.1M268.7 558.3h1.1M266.5 512.5h1.1M267.7 553.2h1.1M264.0 519.4h1.1M264.1 569.8h1.1M267.2 568.6h1.1M269.5 534.9h1.1M266.5 571.0h1.1M263.4 520.0h1.1M262.9 518.9h1.1M264.2 515.3h1.1M266.3 525.6h1.1M268.7 531.5h1.1M267.0 529.5h1.1M269.2 562.4h1.1M262.9 572.5h1.1M268.2 512.3h1.1M264.1 563.4h1.1M266.9 522.2h1.1M265.3 536.6h1.1M264.3 536.0h1.1M268.1 541.1h1.1M267.9 551.4h1.1M266.8 546.9h1.1M263.4 571.4h1.1M264.5 546.4h1.1M263.4 566.2h1.1M267.0 562.8h1.1M266.2 529.2h1.1M263.9 568.7h1.1M270.0 574.5h1.1M268.0 514.2h1.1M267.7 525.5h1.1M269.5 550.2h1.1M262.1 548.8h1.1M267.0 554.1h1.1M270.1 570.4h1.1M268.0 539.0h1.1M266.1 512.6h1.1M262.8 540.0h1.1M266.8 549.4h1.1M269.2 573.7h1.1M268.4 547.4h1.1M263.3 548.0h1.1M263.4 520.5h1.1M264.3 549.7h1.1M265.6 519.6h1.1M265.7 564.6h1.1M267.7 528.9h1.1M263.6 513.1h1.1M267.4 574.3h1.1M268.3 510.8h1.1M266.3 542.2h1.1M267.3 528.4h1.1M262.7 543.2h1.1M262.6 549.4h1.1M269.2 568.5h1.1M268.7 530.7h1.1M266.3 551.9h1.1M263.4 566.8h1.1M264.7 570.6h1.1M267.1 514.6h1.1M264.9 526.8h1.1M266.5 538.8h1.1M267.6 514.3h1.1M265.9 533.2h1.1M263.4 554.2h1.1M267.1 534.5h1.1M264.6 521.2h1.1M265.9 570.2h1.1M263.4 559.6h1.1M265.5 534.9h1.1M263.4 548.2h1.1M266.1 527.2h1.1M268.6 529.8h1.1M267.7 566.7h1.1M265.0 528.4h1.1M267.0 559.7h1.1M262.3 547.5h1.1M263.1 551.9h1.1M263.5 514.7h1.1M269.4 539.9h1.1M266.5 574.2h1.1M269.1 572.5h1.1M268.8 564.4h1.1M267.7 547.6h1.1M263.3 572.6h1.1M265.9 523.2h1.1M266.9 544.1h1.1M267.6 569.7h1.1M262.8 511.2h1.1M265.4 510.0h1.1M266.0 533.2h1.1M264.1 558.2h1.1M269.1 538.7h1.1M268.9 561.7h1.1M267.4 529.4h1.1M268.9 524.6h1.1M263.9 540.2h1.1M267.8 510.2h1.1M269.9 557.3h1.1M266.4 534.4h1.1M266.8 552.9h1.1M262.5 562.2h1.1M262.1 565.9h1.1M263.5 532.4h1.1M266.7 562.4h1.1M268.3 542.7h1.1M263.0 521.6h1.1M263.0 553.3h1.1M269.7 566.9h1.1M262.2 558.7h1.1M262.4 541.1h1.1M264.1 560.6h1.1M268.1 518.2h1.1M264.5 563.7h1.1M262.5 516.2h1.1M262.7 536.2h1.1M265.8 528.6h1.1M263.4 562.5h1.1M263.3 521.6h1.1M266.6 560.8h1.1M268.9 562.2h1.1M266.0 529.7h1.1M265.4 536.3h1.1M269.1 572.3h1.1M268.5 559.4h1.1M265.8 561.6h1.1M263.9 543.8h1.1M263.0 543.4h1.1M263.0 573.0h1.1M268.8 561.0h1.1M263.7 517.6h1.1M261.5 567.8h1.1M269.0 519.3h1.1M267.6 518.6h1.1M269.6 545.7h1.1M263.6 557.7h1.1M262.9 562.3h1.1M265.8 541.7h1.1M267.3 567.6h1.1M267.5 559.6h1.1M264.9 510.2h1.1M266.7 564.9h1.1M269.1 559.5h1.1M263.6 530.2h1.1M268.4 520.6h1.1M268.6 547.2h1.1M266.0 557.8h1.1M267.3 516.8h1.1M266.9 572.1h1.1M268.2 532.5h1.1M266.6 550.0h1.1M268.9 541.0h1.1M264.1 531.7h1.1M265.9 531.0h1.1M269.4 537.0h1.1M268.8 561.9h1.1M262.2 526.3h1.1M269.3 554.9h1.1M269.5 554.1h1.1M266.4 517.1h1.1M266.4 553.5h1.1M267.7 561.9h1.1M266.4 563.6h1.1M269.2 531.2h1.1M262.4 537.4h1.1M263.0 556.1h1.1M267.1 544.2h1.1M268.7 525.1h1.1M266.4 530.6h1.1M268.8 518.6h1.1M267.1 534.6h1.1M265.3 572.8h1.1M263.7 531.1h1.1M269.1 569.6h1.1M265.2 540.4h1.1M264.8 540.6h1.1M268.0 540.4h1.1M263.7 554.3h1.1M263.5 555.8h1.1M267.4 538.3h1.1M265.8 567.5h1.1M262.4 570.6h1.1M269.2 571.1h1.1M268.8 509.7h1.1M262.9 553.6h1.1M264.5 510.1h1.1M266.3 546.2h1.1M261.9 563.0h1.1M269.8 546.0h1.1M262.6 564.8h1.1M264.3 542.4h1.1M267.9 572.4h1.1M265.0 566.9h1.1M266.0 557.0h1.1M263.5 550.9h1.1M264.7 543.4h1.1M264.1 564.1h1.1M261.8 571.3h1.1M263.1 550.2h1.1M268.1 523.7h1.1M263.8 574.1h1.1M263.5 507.9h1.1M263.9 517.6h1.1M265.0 562.5h1.1M264.8 565.4h1.1M267.5 554.1h1.1M269.5 569.4h1.1M268.9 538.3h1.1M267.0 568.9h1.1M266.8 557.1h1.1M263.4 551.2h1.1M262.7 559.5h1.1M268.9 555.5h1.1M269.2 573.5h1.1M262.8 536.9h1.1M265.9 569.9h1.1M269.2 554.7h1.1M268.0 551.2h1.1M267.2 539.7h1.1M264.3 538.9h1.1M266.5 558.9h1.1M265.9 531.0h1.1M267.7 553.5h1.1M266.7 509.5h1.1M262.3 551.7h1.1M266.4 538.5h1.1M265.2 563.8h1.1M268.6 542.1h1.1M269.2 518.3h1.1M262.0 561.3h1.1M261.9 545.5h1.1M265.8 526.3h1.1M264.2 543.5h1.1M262.4 542.7h1.1M265.9 505.7h1.1M263.9 552.4h1.1M269.4 539.5h1.1M265.7 508.1h1.1M264.3 571.8h1.1M262.5 566.3h1.1M266.6 544.0h1.1M269.0 543.7h1.1M264.5 537.7h1.1M266.2 538.3h1.1M263.9 524.3h1.1M268.8 529.0h1.1M263.1 562.2h1.1M265.5 560.0h1.1M267.8 540.6h1.1M265.1 567.2h1.1M262.4 517.5h1.1M267.2 568.9h1.1M262.3 520.7h1.1M263.2 534.1h1.1M262.1 534.7h1.1M266.3 531.7h1.1M268.3 549.1h1.1M269.4 560.0h1.1M269.4 535.9h1.1M268.8 537.8h1.1M268.1 527.4h1.1M268.8 566.5h1.1M269.9 557.0h1.1M265.7 543.3h1.1M262.7 523.7h1.1M262.2 547.7h1.1M264.4 533.2h1.1M265.8 565.2h1.1M267.5 519.0h1.1M268.4 554.0h1.1M262.4 527.1h1.1M267.6 517.2h1.1M262.3 573.0h1.1M262.8 510.6h1.1M268.2 527.2h1.1M263.0 561.0h1.1M268.5 524.7h1.1M262.6 536.8h1.1M264.3 533.8h1.1M262.8 566.1h1.1M269.4 537.1h1.1M262.7 524.2h1.1M265.0 571.8h1.1M267.1 511.5h1.1M263.1 537.2h1.1M268.1 536.5h1.1M263.5 556.8h1.1M267.1 521.5h1.1M269.1 525.5h1.1M266.4 561.3h1.1M264.5 558.2h1.1M264.7 540.0h1.1M269.5 545.9h1.1M265.7 523.4h1.1M267.7 523.2h1.1M264.0 570.7h1.1M266.1 546.4h1.1M267.9 568.0h1.1M264.9 556.9h1.1M264.6 562.5h1.1M262.4 532.1h1.1M264.4 563.0h1.1M263.4 560.4h1.1M269.4 546.5h1.1M268.8 564.3h1.1M268.0 567.0h1.1M268.3 517.7h1.1M268.5 570.0h1.1M265.8 565.9h1.1M266.1 529.3h1.1M264.7 573.5h1.1M266.3 534.6h1.1M267.1 569.9h1.1M261.8 562.3h1.1M264.1 568.5h1.1M268.3 561.5h1.1M262.7 562.7h1.1M261.5 565.4h1.1M262.6 566.9h1.1M265.0 563.7h1.1M265.9 522.7h1.1M264.8 570.0h1.1M268.6 547.5h1.1M265.5 574.0h1.1M266.8 544.7h1.1M265.5 540.6h1.1M262.4 558.1h1.1M265.4 528.5h1.1M262.0 549.8h1.1M268.8 547.8h1.1M261.8 563.6h1.1M269.3 530.9h1.1M263.5 570.4h1.1M267.0 538.2h1.1M268.5 533.0h1.1M266.8 543.6h1.1M261.6 568.1h1.1M263.9 543.8h1.1M268.0 555.4h1.1M262.0 552.8h1.1M262.4 534.0h1.1M266.6 508.3h1.1M269.3 559.7h1.1M269.3 521.7h1.1M268.2 572.1h1.1M265.0 564.0h1.1M266.8 572.4h1.1M263.7 531.5h1.1M269.9 559.1h1.1M264.0 559.9h1.1M265.5 542.8h1.1M266.8 516.3h1.1M266.3 545.3h1.1M270.2 573.6h1.1M263.5 541.6h1.1M262.4 530.9h1.1M268.1 539.0h1.1M278.8 511.3h1.1M275.3 530.6h1.1M280.1 547.3h1.1M280.3 573.5h1.1M276.2 567.7h1.1M272.7 567.6h1.1M276.0 525.2h1.1M279.1 539.1h1.1M273.4 515.4h1.1M275.0 508.7h1.1M273.6 547.3h1.1M279.8 515.2h1.1M278.1 561.0h1.1M278.6 527.4h1.1M278.5 549.6h1.1M273.6 559.9h1.1M272.9 559.5h1.1M280.8 565.3h1.1M277.5 559.9h1.1M275.9 529.6h1.1M277.2 526.4h1.1M277.3 565.0h1.1M277.7 517.1h1.1M272.9 567.4h1.1M280.1 544.5h1.1M274.2 536.2h1.1M273.1 540.0h1.1M277.8 544.4h1.1M276.3 565.4h1.1M279.7 528.1h1.1M273.1 564.0h1.1M276.2 542.9h1.1M274.3 543.4h1.1M273.5 552.9h1.1M280.4 562.8h1.1M276.9 544.2h1.1M274.3 543.7h1.1M274.4 541.5h1.1M274.6 522.7h1.1M273.4 568.5h1.1M274.8 513.9h1.1M277.8 559.9h1.1M274.2 573.7h1.1M274.9 557.4h1.1M272.2 570.8h1.1M278.0 566.6h1.1M277.6 544.5h1.1M274.0 508.6h1.1M274.4 558.0h1.1M276.1 511.2h1.1M275.3 549.0h1.1M280.1 530.9h1.1M277.0 550.7h1.1M276.0 544.2h1.1M273.7 506.0h1.1M275.3 541.4h1.1M279.1 529.1h1.1M275.0 513.1h1.1M279.2 559.0h1.1M277.2 572.3h1.1M278.9 522.1h1.1M275.6 525.3h1.1M275.5 570.9h1.1M276.4 555.9h1.1M275.5 516.1h1.1M275.6 544.2h1.1M276.3 543.6h1.1M276.0 533.5h1.1M278.1 515.1h1.1M276.7 532.7h1.1M278.6 528.1h1.1M278.1 557.1h1.1M273.9 534.3h1.1M280.1 522.1h1.1M276.8 507.4h1.1M275.0 545.4h1.1M273.4 546.6h1.1M273.2 562.4h1.1M276.9 502.4h1.1M280.6 552.4h1.1M280.4 552.8h1.1M276.2 562.8h1.1M276.1 522.6h1.1M274.4 513.9h1.1M276.4 530.8h1.1M278.4 505.8h1.1M275.4 537.9h1.1M275.7 520.6h1.1M276.4 547.6h1.1M275.8 542.3h1.1M276.3 543.2h1.1M276.9 573.9h1.1M279.0 554.4h1.1M277.5 543.3h1.1M277.9 555.6h1.1M279.1 504.6h1.1M273.1 551.7h1.1M278.4 550.0h1.1M277.1 531.8h1.1M279.1 511.7h1.1M275.0 536.7h1.1M275.7 542.6h1.1M274.5 519.4h1.1M274.7 540.6h1.1M276.6 545.0h1.1M279.2 556.4h1.1M279.2 519.3h1.1M276.0 560.2h1.1M279.2 553.4h1.1M276.9 514.2h1.1M273.3 519.9h1.1M280.2 568.5h1.1M274.6 514.3h1.1M279.3 559.8h1.1M276.6 528.3h1.1M276.6 545.6h1.1M279.9 524.0h1.1M274.6 572.3h1.1M274.2 572.3h1.1M276.7 524.4h1.1M274.8 526.7h1.1M279.6 510.2h1.1M280.6 560.2h1.1M279.3 541.6h1.1M279.5 559.9h1.1M276.1 518.3h1.1M273.4 550.3h1.1M275.4 532.0h1.1M276.0 513.2h1.1M277.1 547.1h1.1M279.1 544.7h1.1M278.9 526.2h1.1M277.3 566.8h1.1M280.2 523.3h1.1M279.9 565.7h1.1M275.5 522.3h1.1M275.1 515.0h1.1M274.1 531.4h1.1M278.3 545.2h1.1M277.0 525.2h1.1M276.6 529.3h1.1M279.5 512.0h1.1M279.6 568.6h1.1M275.9 534.9h1.1M277.5 556.8h1.1M275.0 561.3h1.1M273.2 531.4h1.1M272.9 536.0h1.1M279.4 516.9h1.1M272.9 573.7h1.1M279.3 541.5h1.1M280.0 511.7h1.1M277.8 551.7h1.1M279.4 538.6h1.1M279.6 533.4h1.1M279.1 522.7h1.1M274.7 521.9h1.1M276.1 532.1h1.1M274.4 560.7h1.1M274.8 524.6h1.1M273.8 544.7h1.1M275.7 540.4h1.1M279.1 562.3h1.1M273.7 503.5h1.1M274.0 573.7h1.1M279.5 557.4h1.1M279.0 565.9h1.1M278.8 502.6h1.1M279.6 540.3h1.1M280.0 507.3h1.1M278.1 513.7h1.1M275.5 532.7h1.1M279.9 561.1h1.1M276.8 549.8h1.1M278.4 508.9h1.1M274.6 515.1h1.1M279.7 537.8h1.1M275.0 555.5h1.1M274.8 526.1h1.1M276.3 564.6h1.1M274.4 520.8h1.1M274.1 521.9h1.1M272.3 573.2h1.1M274.7 503.0h1.1M278.0 528.8h1.1M277.2 535.9h1.1M276.3 530.3h1.1M279.3 566.4h1.1M273.9 544.8h1.1M274.4 545.4h1.1M274.5 535.3h1.1M275.1 565.2h1.1M276.5 571.7h1.1M280.0 561.9h1.1M276.3 548.0h1.1M278.6 530.9h1.1M273.6 506.6h1.1M277.2 572.5h1.1M275.6 511.0h1.1M279.9 512.7h1.1M276.8 500.6h1.1M275.2 509.9h1.1M275.2 535.7h1.1M273.3 562.3h1.1M275.5 556.0h1.1M277.9 574.2h1.1M279.1 547.4h1.1M278.8 545.6h1.1M279.9 532.6h1.1M280.0 533.7h1.1M273.4 550.2h1.1M274.9 511.4h1.1M273.9 525.2h1.1M274.8 541.0h1.1M274.0 530.4h1.1M274.3 552.5h1.1M273.0 533.5h1.1M274.3 520.0h1.1M280.3 530.6h1.1M277.1 541.3h1.1M276.1 512.7h1.1M275.2 568.6h1.1M277.7 547.3h1.1M277.2 510.4h1.1M273.8 530.3h1.1M274.3 507.4h1.1M280.7 555.5h1.1M277.3 548.3h1.1M275.6 549.6h1.1M279.9 558.3h1.1M274.4 537.5h1.1M272.8 549.0h1.1M277.1 540.9h1.1M273.3 538.3h1.1M276.3 557.8h1.1M274.0 554.1h1.1M272.9 536.1h1.1M276.2 535.4h1.1M276.5 534.4h1.1M274.1 557.5h1.1M276.5 528.4h1.1M274.5 514.7h1.1M279.1 516.1h1.1M273.6 553.3h1.1M273.7 545.2h1.1M279.6 530.4h1.1M273.1 558.0h1.1M275.8 564.2h1.1M274.2 554.9h1.1M280.2 550.7h1.1M276.2 535.9h1.1M273.7 570.3h1.1M280.5 568.2h1.1M276.7 540.5h1.1M280.1 527.5h1.1M276.4 569.0h1.1M276.6 547.4h1.1M277.5 513.0h1.1M279.4 513.2h1.1M273.3 519.6h1.1M273.0 534.5h1.1M276.7 515.0h1.1M273.3 545.2h1.1M275.1 571.5h1.1M272.3 574.0h1.1M279.6 535.7h1.1M280.1 545.1h1.1M273.1 563.4h1.1M277.1 522.8h1.1M277.3 527.9h1.1M275.2 562.3h1.1M287.0 502.3h1.1M290.9 505.7h1.1M289.8 502.6h1.1M287.5 502.5h1.1M285.6 502.2h1.1M289.9 506.0h1.1M291.4 504.2h1.1M286.1 502.1h1.1M284.6 505.2h1.1M287.3 504.0h1.1M285.9 502.5h1.1M288.3 502.9h1.1M288.5 503.4h1.1M289.9 503.3h1.1M289.0 506.3h1.1M287.6 506.1h1.1M291.5 502.0h1.1M284.1 502.6h1.1M284.3 505.6h1.1M287.3 504.3h1.1M287.5 501.8h1.1M289.7 502.1h1.1M287.2 506.1h1.1M287.0 504.6h1.1M292.1 504.8h1.1M288.8 502.8h1.1M291.7 501.6h1.1M287.3 501.8h1.1M288.3 503.5h1.1M285.0 502.9h1.1M290.8 504.4h1.1M287.1 506.8h1.1M286.3 502.8h1.1M291.3 502.1h1.1M284.7 505.9h1.1M287.9 506.5h1.1M289.1 504.8h1.1M285.3 505.6h1.1M288.4 503.5h1.1M289.9 505.0h1.1M285.2 502.7h1.1M287.2 505.2h1.1M292.0 506.9h1.1M292.2 506.8h1.1M290.6 506.4h1.1M290.6 501.8h1.1M285.0 506.1h1.1M291.5 502.1h1.1M283.9 502.5h1.1M286.6 503.5h1.1M285.1 503.2h1.1M291.0 504.0h1.1M287.7 501.7h1.1M290.7 506.7h1.1M288.5 501.7h1.1M284.8 502.6h1.1M291.7 506.3h1.1M283.6 507.0h1.1M286.5 501.6h1.1M284.4 503.6h1.1M292.1 568.4h1M283.7 567.2h1M292.7 510.5h1M292.7 511.3h1M292.5 565.5h1M283.7 514.6h1M284.2 536.3h1M283.5 522.3h1M284.1 562.6h1M284.2 571.3h1M291.7 550.8h1M292.3 550.6h1M284.0 566.3h1M284.0 507.9h1M291.9 514.6h1M283.7 524.6h1M291.8 527.9h1M292.5 507.9h1M284.0 511.3h1M283.1 509.5h1M292.5 563.2h1M283.8 567.8h1M292.5 528.4h1M283.6 568.4h1M292.1 555.1h1M283.1 513.4h1M292.1 513.9h1M283.1 518.4h1M284.2 564.8h1M292.0 573.6h1M292.5 566.5h1M283.7 504.2h1M291.8 565.4h1M291.8 571.2h1M283.7 561.8h1M284.1 521.8h1M283.2 532.9h1M283.4 532.5h1M292.0 529.9h1M292.4 568.6h1M327.3 573.0h1.1M328.6 519.1h1.1M328.1 562.0h1.1M330.5 555.1h1.1M333.3 518.9h1.1M331.2 520.2h1.1M328.0 527.3h1.1M327.9 523.0h1.1M330.1 563.2h1.1M328.9 518.0h1.1M333.2 572.7h1.1M332.7 563.0h1.1M329.1 573.8h1.1M331.0 556.5h1.1M333.0 509.9h1.1M327.8 506.8h1.1M333.9 534.9h1.1M334.2 573.6h1.1M330.0 559.9h1.1M333.5 546.8h1.1M333.4 511.3h1.1M328.2 524.8h1.1M327.7 549.0h1.1M331.3 549.3h1.1M333.5 559.1h1.1M329.9 517.2h1.1M329.8 528.6h1.1M331.6 573.1h1.1M331.5 515.5h1.1M330.0 540.3h1.1M328.5 520.8h1.1M328.9 571.6h1.1M331.8 527.6h1.1M328.4 536.5h1.1M331.9 551.9h1.1M328.5 548.3h1.1M328.4 543.6h1.1M330.1 553.6h1.1M328.8 516.4h1.1M330.1 566.2h1.1M329.4 572.9h1.1M329.5 521.4h1.1M332.8 517.0h1.1M333.8 571.2h1.1M327.5 520.4h1.1M334.2 560.0h1.1M332.5 556.6h1.1M332.0 532.0h1.1M327.0 563.0h1.1M327.7 552.6h1.1M330.3 559.4h1.1M329.5 570.0h1.1M332.1 560.1h1.1M333.2 566.7h1.1M331.6 557.8h1.1M327.8 512.1h1.1M333.7 527.5h1.1M332.2 536.9h1.1M329.1 531.5h1.1M331.9 513.8h1.1M330.7 543.2h1.1M329.0 559.4h1.1M329.7 510.4h1.1M331.0 555.4h1.1M328.3 520.3h1.1M327.4 556.9h1.1M331.8 549.8h1.1M330.4 570.9h1.1M332.2 536.6h1.1M330.7 526.6h1.1M331.4 549.8h1.1M329.1 541.8h1.1M333.9 531.8h1.1M333.1 541.8h1.1M327.7 539.1h1.1M328.0 551.7h1.1M332.1 570.7h1.1M330.4 552.6h1.1M330.0 567.2h1.1M332.8 571.5h1.1M327.0 557.2h1.1M330.3 550.7h1.1M330.5 519.6h1.1M328.8 538.2h1.1M328.1 520.8h1.1M333.7 517.7h1.1M330.0 552.1h1.1M330.1 537.1h1.1M328.1 551.9h1.1M328.1 569.9h1.1M331.6 518.7h1.1M329.5 523.5h1.1M331.7 553.5h1.1M330.9 536.6h1.1M327.3 517.7h1.1M328.3 556.8h1.1M327.3 564.0h1.1M328.0 569.2h1.1M332.9 564.7h1.1M331.1 523.1h1.1M335.0 573.5h1.1M328.2 559.8h1.1M330.1 535.2h1.1M332.9 505.6h1.1M333.4 520.3h1.1M334.0 527.6h1.1M333.5 551.2h1.1M330.0 571.6h1.1M331.4 554.3h1.1M330.9 550.9h1.1M329.8 530.4h1.1M326.9 573.8h1.1M331.7 516.0h1.1M331.3 547.0h1.1M332.7 533.6h1.1M330.5 550.5h1.1M332.2 536.0h1.1M330.4 524.5h1.1M333.2 571.8h1.1M331.2 509.5h1.1M328.1 564.9h1.1M328.8 528.8h1.1M330.2 535.3h1.1M333.9 513.8h1.1M331.7 549.2h1.1M331.5 559.1h1.1M328.5 554.6h1.1M331.2 550.3h1.1M330.7 530.7h1.1M334.8 573.4h1.1M328.8 550.2h1.1M332.3 522.8h1.1M331.9 515.1h1.1M329.6 507.1h1.1M330.4 517.3h1.1M328.9 524.3h1.1M330.2 571.0h1.1M329.7 560.3h1.1M329.5 568.7h1.1M331.9 554.7h1.1M331.6 557.7h1.1M330.7 567.1h1.1M326.6 571.1h1.1M334.5 551.5h1.1M331.1 566.6h1.1M329.2 507.2h1.1M330.0 560.6h1.1M329.7 547.7h1.1M330.6 520.4h1.1M331.3 522.6h1.1M331.4 557.7h1.1M328.3 532.1h1.1M330.6 539.7h1.1M327.6 544.7h1.1M332.3 521.1h1.1M328.1 516.6h1.1M328.7 552.0h1.1M331.4 564.8h1.1M331.5 519.4h1.1M331.4 560.4h1.1M331.2 504.4h1.1M330.4 567.8h1.1M328.9 571.8h1.1M334.4 534.1h1.1M330.0 570.7h1.1M327.6 505.2h1.1M326.5 564.3h1.1M334.0 541.1h1.1M331.2 514.6h1.1M330.7 555.7h1.1M330.8 536.3h1.1M331.4 568.3h1.1M326.4 564.2h1.1M329.5 537.3h1.1M332.6 526.7h1.1M329.1 520.5h1.1M328.9 515.6h1.1M332.5 560.6h1.1M331.8 545.6h1.1M330.8 535.6h1.1M331.6 512.8h1.1M331.2 534.5h1.1M332.7 549.9h1.1M332.8 545.2h1.1M328.4 558.8h1.1M334.3 568.1h1.1M329.4 515.6h1.1M333.8 555.9h1.1M327.7 554.5h1.1M327.5 568.9h1.1M331.5 537.0h1.1M328.8 556.2h1.1M331.2 516.2h1.1M329.3 565.8h1.1M333.4 521.5h1.1M330.6 508.6h1.1M329.5 548.7h1.1M329.7 566.4h1.1M329.5 532.1h1.1M329.6 523.6h1.1M331.8 565.2h1.1M332.3 562.3h1.1M333.0 560.2h1.1M331.5 537.9h1.1M330.1 516.8h1.1M331.6 528.4h1.1M330.5 548.7h1.1M328.0 522.6h1.1M327.5 512.6h1.1M330.8 558.7h1.1M333.7 553.0h1.1M334.1 556.5h1.1M331.1 563.2h1.1M332.6 552.8h1.1M332.4 560.1h1.1M333.0 562.7h1.1M332.9 573.5h1.1M328.6 533.0h1.1M331.8 546.6h1.1M329.9 514.8h1.1M333.3 554.3h1.1M330.3 518.7h1.1M328.5 511.8h1.1M330.2 539.2h1.1M328.8 572.0h1.1M328.6 561.6h1.1M332.1 516.6h1.1M333.7 552.2h1.1M328.6 547.0h1.1M333.3 572.1h1.1M332.2 532.4h1.1M331.5 546.0h1.1M330.5 566.0h1.1M327.1 531.2h1.1M332.7 546.2h1.1M334.2 521.3h1.1M334.0 567.3h1.1M327.9 518.4h1.1M332.3 551.0h1.1M328.6 560.0h1.1M327.5 567.7h1.1M329.5 550.2h1.1M329.6 526.7h1.1M333.5 562.7h1.1M330.7 571.3h1.1M330.6 574.6h1.1M331.7 543.0h1.1M330.8 514.0h1.1M332.9 534.7h1.1M329.4 536.8h1.1M333.8 563.6h1.1M329.7 510.7h1.1M329.6 533.7h1.1M330.4 538.4h1.1M332.6 528.3h1.1M328.0 553.3h1.1M327.3 528.4h1.1M331.4 553.9h1.1M329.7 555.5h1.1M327.3 520.3h1.1M327.8 542.4h1.1M328.2 557.0h1.1M327.8 505.1h1.1M333.4 518.5h1.1M330.2 521.8h1.1M329.2 574.6h1.1M328.8 552.4h1.1M331.8 568.3h1.1M331.3 540.8h1.1M333.1 526.0h1.1M332.8 549.4h1.1M330.1 550.3h1.1M328.9 566.4h1.1M330.2 565.1h1.1M332.9 505.8h1.1M332.9 528.6h1.1M333.7 519.0h1.1M331.4 557.2h1.1M327.7 546.4h1.1M334.4 563.3h1.1M330.6 558.5h1.1M331.5 561.7h1.1M329.3 534.8h1.1M329.2 524.3h1.1M331.9 535.8h1.1M330.2 571.3h1.1M334.8 571.1h1.1M329.2 529.4h1.1M328.2 564.9h1.1M328.1 522.1h1.1M334.8 560.5h1.1M327.4 526.6h1.1M329.3 547.4h1.1M332.1 572.5h1.1M330.6 550.2h1.1M330.2 571.7h1.1M332.9 530.8h1.1M328.5 555.0h1.1M326.7 568.1h1.1M332.9 515.9h1.1M332.8 522.1h1.1M331.5 542.3h1.1M330.5 526.8h1.1M330.6 560.2h1.1M333.8 513.6h1.1M330.6 572.0h1.1M331.6 535.1h1.1M332.9 561.0h1.1M326.4 565.3h1.1M333.6 537.3h1.1M330.3 561.3h1.1M330.9 555.4h1.1M327.5 508.7h1.1M329.4 549.7h1.1M331.6 525.1h1.1M331.2 521.1h1.1M329.2 524.0h1.1M333.1 538.4h1.1M329.2 552.5h1.1M327.2 572.3h1.1M330.9 554.3h1.1M330.7 551.1h1.1M330.9 509.8h1.1M334.1 560.7h1.1M330.1 552.0h1.1M327.3 514.2h1.1M328.3 522.6h1.1M327.4 523.0h1.1M327.6 530.1h1.1M327.5 512.4h1.1M332.1 521.8h1.1M328.7 531.9h1.1M334.4 557.0h1.1M329.4 561.5h1.1M332.6 525.6h1.1M328.0 522.4h1.1M332.8 572.4h1.1M327.0 548.7h1.1M329.7 528.1h1.1M333.0 511.0h1.1M331.2 526.8h1.1M333.0 560.2h1.1M330.7 516.4h1.1M327.4 508.3h1.1M329.1 535.2h1.1M333.9 567.0h1.1M330.9 571.8h1.1M333.5 557.0h1.1M329.8 563.4h1.1M329.2 554.6h1.1M329.8 558.7h1.1M330.8 564.5h1.1M331.9 568.6h1.1M330.6 557.5h1.1M328.1 535.9h1.1M330.6 517.4h1.1M332.0 505.7h1.1M333.5 531.2h1.1M333.0 551.1h1.1M333.8 504.9h1.1M331.1 547.8h1.1M334.1 517.4h1.1M328.3 534.2h1.1M326.6 570.6h1.1M333.7 554.6h1.1M329.3 562.0h1.1M333.7 530.7h1.1M332.4 570.8h1.1M327.6 552.0h1.1M332.5 571.8h1.1M328.4 530.9h1.1M330.5 538.5h1.1M330.0 523.8h1.1M332.1 547.3h1.1M332.5 565.0h1.1M332.4 555.3h1.1M332.1 531.9h1.1M327.6 557.2h1.1M328.9 553.2h1.1M333.7 539.4h1.1M329.6 571.0h1.1M333.8 559.2h1.1M328.4 539.0h1.1M331.8 563.0h1.1M331.7 539.9h1.1M331.3 537.8h1.1M326.7 572.7h1.1M330.0 566.6h1.1M329.2 553.4h1.1M332.2 535.8h1.1M334.1 527.5h1.1M329.9 539.9h1.1M330.7 546.9h1.1M326.7 550.8h1.1M327.4 548.9h1.1M334.2 546.3h1.1M330.4 524.8h1.1M329.0 563.9h1.1M334.6 556.0h1.1M331.9 567.1h1.1M328.1 509.4h1.1M334.7 563.1h1.1M329.4 532.8h1.1M332.5 539.8h1.1M327.7 573.0h1.1M332.6 538.9h1.1M333.3 532.0h1.1M331.0 546.5h1.1M331.9 539.0h1.1M330.7 529.9h1.1M331.4 572.9h1.1M326.5 566.8h1.1M331.6 567.3h1.1M330.1 540.6h1.1M334.1 554.6h1.1M334.4 560.0h1.1M331.2 513.5h1.1M330.9 504.5h1.1M327.2 550.5h1.1M333.8 570.4h1.1M334.0 528.0h1.1M328.6 549.0h1.1M330.0 567.0h1.1M329.9 555.4h1.1M331.7 529.2h1.1M329.2 560.6h1.1M333.4 561.2h1.1M327.7 556.8h1.1M328.5 563.2h1.1M328.4 544.8h1.1M326.7 565.6h1.1M334.5 538.8h1.1M328.6 563.2h1.1M332.3 516.2h1.1M331.7 541.7h1.1M327.7 520.2h1.1M331.5 529.6h1.1M332.2 507.8h1.1M329.7 528.8h1.1M334.7 550.3h1.1M330.3 517.9h1.1M331.5 551.1h1.1M333.2 535.2h1.1M332.6 528.8h1.1M332.8 573.0h1.1M329.4 504.5h1.1M334.4 534.3h1.1M327.7 553.2h1.1M327.5 514.5h1.1M332.4 519.0h1.1M329.4 571.6h1.1M332.6 531.7h1.1M327.3 566.6h1.1M330.6 548.9h1.1M332.1 565.4h1.1M332.4 517.3h1.1M334.1 523.1h1.1M328.5 574.0h1.1M330.6 551.8h1.1M364.5 545.2h1.1M366.6 553.0h1.1M367.0 573.7h1.1M366.4 514.8h1.1M366.9 565.9h1.1M364.7 504.9h1.1M366.1 531.6h1.1M363.2 517.9h1.1M362.9 548.4h1.1M360.3 573.5h1.1M365.9 544.7h1.1M359.3 558.7h1.1M360.2 565.5h1.1M366.6 566.7h1.1M361.9 539.0h1.1M365.4 521.4h1.1M364.9 567.1h1.1M361.9 571.2h1.1M364.9 515.4h1.1M361.9 548.7h1.1M363.3 562.0h1.1M364.8 548.1h1.1M364.6 522.3h1.1M360.5 512.0h1.1M364.1 531.9h1.1M364.4 541.8h1.1M365.1 519.9h1.1M363.6 554.1h1.1M361.7 533.7h1.1M359.5 573.9h1.1M361.6 574.3h1.1M365.1 529.7h1.1M360.1 538.5h1.1M361.7 539.4h1.1M362.0 536.5h1.1M359.3 547.2h1.1M366.1 509.9h1.1M362.3 571.4h1.1M361.7 533.0h1.1M362.1 513.0h1.1M367.0 565.1h1.1M362.9 527.5h1.1M363.7 521.9h1.1M362.7 540.3h1.1M365.5 556.3h1.1M365.4 511.9h1.1M365.4 571.1h1.1M360.6 559.6h1.1M364.0 571.0h1.1M360.8 551.3h1.1M361.3 554.5h1.1M366.6 569.9h1.1M365.0 555.3h1.1M364.5 569.0h1.1M364.7 522.2h1.1M365.5 525.7h1.1M366.5 531.1h1.1M365.3 565.7h1.1M360.7 570.0h1.1M366.2 568.4h1.1M365.7 565.8h1.1M365.7 563.6h1.1M366.7 543.8h1.1M365.1 537.6h1.1M360.4 562.1h1.1M366.0 521.8h1.1M361.3 555.5h1.1M363.0 561.1h1.1M362.8 557.3h1.1M366.1 569.1h1.1M365.0 516.4h1.1M359.5 548.5h1.1M365.5 534.8h1.1M360.5 541.8h1.1M359.9 545.3h1.1M361.4 516.6h1.1M362.8 504.2h1.1M365.3 563.9h1.1M365.9 558.7h1.1M361.5 574.5h1.1M364.4 550.0h1.1M364.4 525.2h1.1M360.7 539.5h1.1M366.7 534.0h1.1M364.2 539.5h1.1M361.3 559.1h1.1M366.2 521.3h1.1M362.3 505.3h1.1M363.2 569.9h1.1M363.3 557.6h1.1M360.1 551.6h1.1M361.1 562.7h1.1M367.1 558.9h1.1M365.1 514.0h1.1M360.6 510.3h1.1M365.6 553.3h1.1M360.6 554.7h1.1M360.8 565.7h1.1M366.7 542.6h1.1M361.0 538.9h1.1M361.0 531.4h1.1M361.4 568.7h1.1M359.9 509.0h1.1M363.9 560.9h1.1M360.8 545.9h1.1M366.4 559.3h1.1M360.9 574.5h1.1M362.0 557.8h1.1M361.2 545.6h1.1M365.2 517.0h1.1M359.4 527.9h1.1M361.4 525.2h1.1M363.8 516.4h1.1M362.4 528.9h1.1M366.5 550.7h1.1M361.9 521.9h1.1M363.3 536.4h1.1M359.4 551.5h1.1M359.8 558.9h1.1M362.7 571.1h1.1M362.5 537.2h1.1M363.0 546.1h1.1M361.5 547.3h1.1M365.0 548.4h1.1M365.2 544.3h1.1M362.3 562.0h1.1M365.3 550.9h1.1M365.1 534.9h1.1M362.4 567.6h1.1M361.5 511.3h1.1M366.3 554.7h1.1M364.7 555.9h1.1M362.3 552.0h1.1M365.9 562.1h1.1M366.3 572.3h1.1M363.9 552.3h1.1M364.5 537.1h1.1M367.0 557.4h1.1M362.1 539.9h1.1M363.2 546.5h1.1M364.4 514.6h1.1M364.1 539.9h1.1M359.5 560.0h1.1M366.6 571.4h1.1M361.1 569.3h1.1M365.1 556.2h1.1M360.5 512.9h1.1M366.0 570.4h1.1M364.1 571.2h1.1M363.8 543.9h1.1M361.7 571.6h1.1M365.8 520.4h1.1M364.4 506.9h1.1M365.6 533.9h1.1M359.8 565.9h1.1M363.6 541.5h1.1M365.3 509.9h1.1M362.1 543.7h1.1M360.4 537.0h1.1M367.1 567.9h1.1M359.7 566.2h1.1M359.6 566.4h1.1M365.1 535.5h1.1M360.1 554.7h1.1M363.6 515.4h1.1M363.5 569.2h1.1M361.2 533.5h1.1M363.6 555.5h1.1M363.2 551.3h1.1M365.0 549.8h1.1M362.3 534.9h1.1M362.8 547.7h1.1M362.3 555.9h1.1M363.0 546.7h1.1M360.1 574.2h1.1M365.4 538.9h1.1M358.9 562.9h1.1M364.7 548.4h1.1M365.2 507.1h1.1M365.8 529.0h1.1M363.3 572.3h1.1M364.0 553.5h1.1M360.8 558.2h1.1M362.4 566.2h1.1M365.0 566.7h1.1M366.0 539.4h1.1M362.4 543.7h1.1M360.8 508.4h1.1M363.7 513.8h1.1M358.8 561.0h1.1M363.9 574.4h1.1M363.0 516.3h1.1M361.4 538.3h1.1M367.5 571.8h1.1M366.7 564.4h1.1M360.0 555.6h1.1M360.6 510.0h1.1M365.7 553.0h1.1M360.8 559.2h1.1M359.5 541.3h1.1M364.0 528.6h1.1M360.3 518.7h1.1M364.7 534.6h1.1M362.9 506.8h1.1M360.0 533.5h1.1M364.3 517.0h1.1M362.6 535.8h1.1M360.7 560.5h1.1M361.5 533.1h1.1M366.0 573.0h1.1M360.2 543.9h1.1M364.1 557.8h1.1M365.0 568.7h1.1M359.6 544.5h1.1M361.2 531.9h1.1M365.4 554.3h1.1M359.0 570.7h1.1M363.9 539.9h1.1M365.2 562.0h1.1M360.5 523.1h1.1M362.3 567.4h1.1M359.2 551.1h1.1M361.8 565.8h1.1M359.5 557.8h1.1M361.3 559.0h1.1M362.3 523.8h1.1M363.9 573.8h1.1M360.2 504.7h1.1M363.0 563.6h1.1M366.3 538.4h1.1M367.3 572.2h1.1M362.1 509.9h1.1M365.4 568.6h1.1M365.8 527.3h1.1M367.1 570.6h1.1M359.2 562.0h1.1M365.8 512.0h1.1M361.9 539.5h1.1M363.9 559.9h1.1M362.3 534.2h1.1M366.7 539.0h1.1M362.8 519.4h1.1M366.0 542.7h1.1M365.5 555.9h1.1M361.5 542.1h1.1M366.5 528.5h1.1M365.3 519.6h1.1M361.3 510.5h1.1M366.5 527.9h1.1M363.2 558.1h1.1M359.6 573.5h1.1M363.7 561.1h1.1M361.3 547.5h1.1M360.1 538.7h1.1M364.2 509.4h1.1M360.0 568.5h1.1M364.2 543.2h1.1M360.7 560.9h1.1M362.6 537.5h1.1M360.1 573.1h1.1M365.5 565.1h1.1M363.9 529.2h1.1M359.9 539.0h1.1M359.9 535.6h1.1M365.5 555.1h1.1M362.4 513.5h1.1M364.0 567.9h1.1M359.1 568.9h1.1M366.9 551.4h1.1M365.0 524.8h1.1M365.2 531.8h1.1M363.2 540.2h1.1M363.3 558.1h1.1M362.6 568.7h1.1M362.3 522.1h1.1M362.1 553.4h1.1M359.1 552.8h1.1M365.4 510.9h1.1M360.6 543.5h1.1M359.2 550.9h1.1M362.7 514.0h1.1M361.5 532.9h1.1M362.9 513.8h1.1M364.8 532.6h1.1M365.5 570.2h1.1M363.0 516.9h1.1M361.8 520.2h1.1M359.4 553.8h1.1M366.6 517.5h1.1M366.6 534.8h1.1M361.4 506.1h1.1M364.8 520.6h1.1M360.3 524.9h1.1M365.3 569.7h1.1M364.6 542.2h1.1M365.0 572.5h1.1M360.2 567.7h1.1M358.9 559.4h1.1M367.3 569.0h1.1M364.4 556.6h1.1M365.9 526.4h1.1M367.2 554.8h1.1M360.2 573.0h1.1M359.2 540.9h1.1M359.3 560.5h1.1M359.8 543.6h1.1M360.8 552.0h1.1M362.1 518.2h1.1M364.3 518.9h1.1M365.5 526.2h1.1M360.7 512.2h1.1M366.5 540.6h1.1M359.5 572.1h1.1M364.9 547.5h1.1M362.3 546.8h1.1M359.0 571.7h1.1M359.2 553.7h1.1M366.9 570.8h1.1M362.5 566.1h1.1M363.1 531.5h1.1M362.3 546.3h1.1M365.5 536.1h1.1M361.5 522.8h1.1M362.6 529.3h1.1M364.0 541.3h1.1M366.7 540.2h1.1M361.1 552.2h1.1M364.0 574.4h1.1M360.9 568.3h1.1M362.6 533.1h1.1M361.5 552.5h1.1M360.4 570.2h1.1M364.6 546.9h1.1M365.8 571.0h1.1M365.3 540.2h1.1M361.0 554.1h1.1M365.7 505.2h1.1M363.5 540.5h1.1M366.7 530.1h1.1M359.8 568.5h1.1M360.0 547.8h1.1M362.4 537.2h1.1M367.3 568.0h1.1M360.5 528.6h1.1M362.4 528.4h1.1M362.4 506.5h1.1M363.1 534.8h1.1M361.9 553.1h1.1M359.6 538.0h1.1M360.4 550.1h1.1M362.9 526.0h1.1M362.9 554.5h1.1M364.0 547.5h1.1M360.7 524.7h1.1M363.8 557.7h1.1M364.8 538.7h1.1M362.5 519.1h1.1M362.2 505.4h1.1M363.1 556.7h1.1M359.1 562.3h1.1M363.6 550.6h1.1M377.8 564.4h1.1M376.1 563.5h1.1M371.7 539.0h1.1M375.5 572.1h1.1M373.8 559.2h1.1M375.2 553.7h1.1M375.1 543.9h1.1M373.7 521.7h1.1M374.7 537.8h1.1M374.4 536.3h1.1M369.8 574.1h1.1M371.2 568.3h1.1M370.9 535.9h1.1M374.0 538.9h1.1M373.2 560.2h1.1M376.3 528.8h1.1M372.2 551.9h1.1M371.1 555.9h1.1M376.3 564.9h1.1M374.3 525.8h1.1M374.2 569.2h1.1M371.7 540.9h1.1M375.4 558.1h1.1M375.0 572.8h1.1M376.1 570.9h1.1M378.1 562.8h1.1M370.5 530.3h1.1M377.3 573.9h1.1M371.4 516.3h1.1M376.5 559.0h1.1M373.9 573.4h1.1M375.5 516.5h1.1M372.6 534.5h1.1M373.5 526.6h1.1M372.1 563.4h1.1M374.7 569.7h1.1M377.1 538.0h1.1M373.5 537.0h1.1M371.3 539.5h1.1M376.5 525.9h1.1M373.7 530.4h1.1M376.2 541.2h1.1M377.3 514.6h1.1M372.4 547.7h1.1M372.8 536.3h1.1M371.0 538.9h1.1M373.6 524.6h1.1M371.8 540.8h1.1M372.9 521.5h1.1M373.4 520.9h1.1M373.2 568.7h1.1M376.6 556.9h1.1M372.8 564.5h1.1M371.7 528.6h1.1M371.3 534.1h1.1M371.4 552.1h1.1M375.2 522.5h1.1M371.2 572.1h1.1M376.9 538.0h1.1M371.1 529.0h1.1M377.5 568.1h1.1M376.7 551.6h1.1M374.0 545.2h1.1M372.7 537.9h1.1M375.9 536.4h1.1M370.9 534.4h1.1M371.7 516.3h1.1M376.9 559.2h1.1M378.1 565.2h1.1M374.8 573.1h1.1M374.3 556.5h1.1M376.7 508.8h1.1M373.9 520.7h1.1M373.1 542.3h1.1M373.0 572.7h1.1M372.0 537.6h1.1M373.9 558.4h1.1M371.6 562.8h1.1M374.4 557.0h1.1M373.9 541.6h1.1M370.4 566.0h1.1M369.6 573.7h1.1M378.2 573.7h1.1M370.8 557.0h1.1M370.6 542.9h1.1M371.3 512.8h1.1M373.9 546.2h1.1M375.6 563.2h1.1M377.2 528.1h1.1M371.0 519.8h1.1M374.4 550.6h1.1M373.5 556.2h1.1M377.3 541.9h1.1M374.3 538.5h1.1M372.4 524.5h1.1M370.0 550.6h1.1M374.9 521.5h1.1M377.5 538.1h1.1M377.2 542.7h1.1M374.2 571.3h1.1M375.4 541.0h1.1M375.0 559.2h1.1M374.3 537.5h1.1M374.1 541.3h1.1M371.6 513.5h1.1M369.6 567.9h1.1M376.7 536.6h1.1M378.2 569.8h1.1M376.1 547.7h1.1M375.6 545.1h1.1M373.5 551.2h1.1M372.6 551.2h1.1M374.1 521.6h1.1M372.1 541.8h1.1M370.7 507.5h1.1M374.8 573.3h1.1M377.5 558.2h1.1M371.8 562.6h1.1M377.3 544.0h1.1M374.3 573.2h1.1M376.6 545.5h1.1M370.5 566.0h1.1M370.9 539.0h1.1M372.6 561.0h1.1M377.6 567.6h1.1M369.6 568.1h1.1M372.8 554.1h1.1M375.7 542.2h1.1M374.2 539.8h1.1M371.0 565.8h1.1M371.9 522.5h1.1M377.5 549.1h1.1M372.7 573.3h1.1M372.8 553.4h1.1M370.1 553.6h1.1M370.3 566.5h1.1M374.5 567.7h1.1M371.2 570.7h1.1M370.7 544.1h1.1M377.2 568.0h1.1M374.6 536.7h1.1M372.4 537.6h1.1M371.6 534.3h1.1M377.0 566.2h1.1M375.6 545.5h1.1M374.8 562.4h1.1M371.6 523.9h1.1M371.5 556.9h1.1M376.3 543.8h1.1M376.5 527.6h1.1M376.8 573.1h1.1M371.3 513.5h1.1M377.0 535.9h1.1M371.8 534.2h1.1M374.4 512.8h1.1M376.3 542.3h1.1M376.2 532.1h1.1M375.4 555.8h1.1M372.4 511.8h1.1M372.6 541.7h1.1M375.4 530.5h1.1M372.2 556.0h1.1M376.7 543.4h1.1M371.8 545.3h1.1M371.3 563.3h1.1M372.8 554.0h1.1M375.6 518.3h1.1M371.0 563.5h1.1M374.1 534.1h1.1M374.2 538.0h1.1M376.3 538.0h1.1M375.7 528.4h1.1M372.5 557.0h1.1M371.7 523.8h1.1M371.1 559.6h1.1M376.9 545.6h1.1M370.9 505.8h1.1M374.8 569.5h1.1M375.6 523.3h1.1M371.8 548.5h1.1M374.6 559.5h1.1M372.1 553.9h1.1M374.3 553.2h1.1M376.9 573.6h1.1M374.2 548.3h1.1M371.7 544.8h1.1M375.3 509.3h1.1M372.7 518.1h1.1M371.0 538.4h1.1M370.6 568.1h1.1M376.9 516.6h1.1M372.0 538.6h1.1M377.1 514.8h1.1M370.4 574.3h1.1M373.6 559.6h1.1M375.2 522.6h1.1M370.9 540.3h1.1M371.5 568.8h1.1M372.8 542.7h1.1M371.8 519.2h1.1M373.3 532.4h1.1M371.3 519.6h1.1M375.9 555.2h1.1M375.2 538.4h1.1M376.7 519.9h1.1M370.9 515.6h1.1M371.3 563.1h1.1M371.7 521.1h1.1M374.7 528.2h1.1M373.8 554.2h1.1M378.1 572.2h1.1M372.0 558.0h1.1M372.8 540.4h1.1M371.5 574.2h1.1M372.0 574.2h1.1M376.3 534.3h1.1M374.7 513.6h1.1M378.0 565.2h1.1M375.4 509.6h1.1M378.2 568.6h1.1M372.8 559.6h1.1M371.5 526.5h1.1M373.8 534.9h1.1M370.3 554.3h1.1M377.7 559.1h1.1M371.2 571.3h1.1M370.9 515.8h1.1M373.6 541.3h1.1M374.4 564.0h1.1M374.4 572.9h1.1M375.2 515.5h1.1M371.9 565.9h1.1M373.6 524.3h1.1M376.9 528.6h1.1M372.6 555.2h1.1M377.8 549.2h1.1M376.6 535.3h1.1M376.8 507.5h1.1M375.2 561.6h1.1M373.0 563.2h1.1M377.7 567.0h1.1M370.7 564.8h1.1M371.9 566.8h1.1M375.8 515.2h1.1M371.0 569.5h1.1M375.3 507.3h1.1M374.2 545.2h1.1M371.6 505.1h1.1M374.1 507.0h1.1M370.2 570.6h1.1M374.0 548.9h1.1M372.6 519.2h1.1M372.9 549.7h1.1M372.5 545.2h1.1M377.3 523.1h1.1M372.4 545.7h1.1M375.4 569.1h1.1M374.6 540.6h1.1M370.3 571.6h1.1M375.0 549.9h1.1M374.1 535.9h1.1M373.7 563.1h1.1M374.3 526.7h1.1M376.0 517.4h1.1M372.9 555.4h1.1M370.6 573.5h1.1M377.3 565.7h1.1M377.2 533.8h1.1M376.2 533.0h1.1M377.5 560.5h1.1M372.2 512.4h1.1M374.3 525.6h1.1M373.6 530.0h1.1M375.1 537.8h1.1M374.4 508.6h1.1M375.9 563.0h1.1M370.5 572.6h1.1M372.6 544.2h1.1M378.0 566.2h1.1M376.4 543.8h1.1M373.8 552.3h1.1M374.6 517.8h1.1M372.7 510.5h1.1M371.8 562.1h1.1M377.9 568.2h1.1M371.3 552.5h1.1M370.1 557.9h1.1M377.6 540.6h1.1M377.7 541.8h1.1M370.2 552.0h1.1M370.1 573.3h1.1M376.8 518.2h1.1M374.8 541.9h1.1M374.8 572.9h1.1M375.4 556.1h1.1M375.4 558.7h1.1M376.9 535.5h1.1M374.0 552.0h1.1M370.3 547.9h1.1M376.2 565.7h1.1M373.2 523.8h1.1M375.1 546.3h1.1M373.9 570.5h1.1M376.2 536.5h1.1M376.3 509.3h1.1M375.2 513.2h1.1M372.1 558.9h1.1M370.6 572.7h1.1M374.4 507.1h1.1M373.8 564.4h1.1M371.6 565.0h1.1M376.2 555.5h1.1M374.9 540.2h1.1M377.3 545.0h1.1M372.2 554.0h1.1M371.2 535.5h1.1M377.8 566.9h1.1M373.3 551.0h1.1M377.7 573.5h1.1M377.5 564.1h1.1M375.5 552.8h1.1M374.1 551.1h1.1M375.6 567.8h1.1M377.0 566.0h1.1M374.8 519.3h1.1M376.8 521.9h1.1M374.5 542.5h1.1M375.1 517.8h1.1M376.7 522.6h1.1M377.8 555.0h1.1M373.4 572.1h1.1M376.6 557.8h1.1M375.6 559.7h1.1M377.4 553.7h1.1M377.6 543.6h1.1M370.8 527.2h1.1M376.2 572.7h1.1M370.4 567.2h1.1M377.4 542.0h1.1M371.5 533.6h1.1M375.5 518.4h1.1M376.1 536.1h1.1M373.2 556.1h1.1M374.5 547.0h1.1M371.9 541.8h1.1M369.8 572.1h1.1M375.1 530.1h1.1M376.6 558.6h1.1M374.4 523.5h1.1M371.0 568.0h1.1M373.9 526.8h1.1M375.8 551.6h1.1M370.7 553.0h1.1M371.4 534.1h1.1M372.0 518.5h1.1M371.9 514.9h1.1M371.8 553.1h1.1M371.0 527.5h1.1M376.7 568.4h1.1M374.4 573.2h1.1M371.0 510.2h1.1M397.7 561.2h1.1M395.3 517.9h1.1M396.0 521.9h1.1M394.6 523.8h1.1M396.4 510.9h1.1M394.5 545.1h1.1M394.7 535.3h1.1M393.3 561.5h1.1M396.8 544.8h1.1M394.9 542.1h1.1M395.9 539.1h1.1M395.8 509.8h1.1M394.8 525.5h1.1M395.3 526.3h1.1M394.5 568.8h1.1M420.7 543.4h1.1M414.4 529.0h1.1M415.6 570.4h1.1M417.6 521.8h1.1M419.0 544.3h1.1M415.6 530.4h1.1M414.1 534.2h1.1M419.1 513.0h1.1M420.2 532.7h1.1M421.1 556.2h1.1M418.7 539.4h1.1M414.8 571.3h1.1M416.7 522.2h1.1M418.4 509.0h1.1M420.5 529.5h1.1M416.3 569.4h1.1M418.6 544.3h1.1M416.7 525.7h1.1M417.3 567.2h1.1M414.7 510.1h1.1M417.9 561.9h1.1M415.3 568.2h1.1M414.7 536.7h1.1M416.2 535.4h1.1M413.5 567.4h1.1M415.4 515.2h1.1M418.7 574.1h1.1M420.9 542.0h1.1M419.7 559.7h1.1M415.9 532.2h1.1M418.2 528.4h1.1M418.9 573.2h1.1M415.3 547.4h1.1M414.6 566.8h1.1M413.8 531.4h1.1M419.3 566.4h1.1M418.4 562.6h1.1M414.6 562.4h1.1M414.6 548.2h1.1M417.2 556.4h1.1M416.8 517.2h1.1M413.3 554.8h1.1M414.5 568.4h1.1M414.9 521.4h1.1M413.1 566.4h1.1M414.1 570.6h1.1M413.6 567.4h1.1M419.8 508.9h1.1M419.6 535.0h1.1M420.2 510.3h1.1M415.0 526.2h1.1M417.3 555.4h1.1M419.7 515.6h1.1M417.7 534.0h1.1M418.8 517.9h1.1M419.5 552.4h1.1M416.4 520.3h1.1M415.7 574.5h1.1M418.7 520.8h1.1M421.2 551.6h1.1M419.4 560.1h1.1M419.1 538.2h1.1M414.4 552.9h1.1M414.5 535.0h1.1M417.4 552.8h1.1M419.4 550.0h1.1M416.6 513.1h1.1M419.7 535.4h1.1M417.7 521.8h1.1M414.1 574.6h1.1M420.3 536.3h1.1M415.1 558.1h1.1M416.5 554.8h1.1M421.0 573.0h1.1M414.9 526.5h1.1M413.6 545.9h1.1M413.1 568.4h1.1M418.5 570.2h1.1M417.4 571.9h1.1M416.9 524.9h1.1M415.6 566.3h1.1M419.6 541.1h1.1M413.8 564.6h1.1M420.0 504.6h1.1M419.0 560.8h1.1M420.0 545.7h1.1M417.1 568.7h1.1M419.1 520.7h1.1M415.4 518.3h1.1M414.2 509.8h1.1M420.8 550.7h1.1M417.1 556.4h1.1M420.1 536.7h1.1M417.3 514.3h1.1M420.5 562.4h1.1M417.9 560.1h1.1M417.8 512.9h1.1M415.7 558.4h1.1M417.4 521.2h1.1M414.9 543.2h1.1M419.6 535.1h1.1M415.8 558.8h1.1M415.9 524.1h1.1M416.3 522.0h1.1M413.0 560.1h1.1M418.7 569.3h1.1M420.4 554.4h1.1M416.7 574.1h1.1M413.5 530.5h1.1M413.7 527.6h1.1M415.0 554.7h1.1M417.7 561.8h1.1M415.7 534.6h1.1M413.4 569.0h1.1M416.7 518.2h1.1M412.9 570.2h1.1M413.6 548.5h1.1M418.9 543.2h1.1M420.1 522.9h1.1M415.5 524.7h1.1M419.4 545.3h1.1M413.9 538.8h1.1M421.1 568.9h1.1M416.7 543.2h1.1M420.3 572.3h1.1M419.3 510.6h1.1M418.8 557.8h1.1M415.4 526.8h1.1M413.1 560.2h1.1M419.3 550.9h1.1M414.2 557.4h1.1M416.7 573.5h1.1M413.6 568.0h1.1M415.3 544.0h1.1M415.4 523.4h1.1M413.6 532.8h1.1M419.7 544.0h1.1M418.3 570.8h1.1M415.5 522.6h1.1M420.8 574.1h1.1M415.3 540.5h1.1M417.9 518.6h1.1M413.9 524.8h1.1M414.3 570.9h1.1M416.2 561.6h1.1M419.8 562.4h1.1M421.0 549.7h1.1M419.3 534.9h1.1M415.1 537.8h1.1M419.6 517.6h1.1M417.4 514.4h1.1M419.1 559.7h1.1M413.4 534.0h1.1M414.2 536.5h1.1M414.7 571.5h1.1M420.1 547.2h1.1M414.5 541.2h1.1M413.8 525.6h1.1M413.6 532.6h1.1M416.6 557.9h1.1M418.8 530.7h1.1M419.7 549.5h1.1M420.2 542.8h1.1M419.9 553.8h1.1M414.1 549.6h1.1M420.9 556.6h1.1M416.4 518.2h1.1M419.7 556.1h1.1M416.7 552.9h1.1M418.6 535.7h1.1M418.5 517.5h1.1M414.3 544.8h1.1M419.7 518.7h1.1M418.2 544.3h1.1M413.9 570.5h1.1M420.3 548.1h1.1M413.6 561.8h1.1M416.7 553.2h1.1M418.3 566.1h1.1M419.2 571.4h1.1M413.9 511.2h1.1M420.1 553.8h1.1M414.0 528.4h1.1M412.7 572.7h1.1M416.0 553.2h1.1M421.3 556.8h1.1M414.4 521.8h1.1M415.4 504.4h1.1M415.3 507.4h1.1M413.2 549.2h1.1M420.4 559.9h1.1M419.7 506.0h1.1M413.7 549.9h1.1M417.9 538.0h1.1M418.7 551.7h1.1M420.5 554.5h1.1M419.8 541.7h1.1M419.8 560.4h1.1M413.5 566.5h1.1M419.8 518.9h1.1M416.4 558.7h1.1M416.2 573.1h1.1M412.8 572.9h1.1M414.7 520.9h1.1M415.2 545.3h1.1M417.5 546.6h1.1M413.7 524.2h1.1M416.5 546.3h1.1M418.3 573.9h1.1M417.3 554.2h1.1M417.7 531.3h1.1M413.4 566.8h1.1M414.8 537.9h1.1M419.6 557.9h1.1M417.3 511.5h1.1M418.4 571.4h1.1M417.6 515.1h1.1M415.3 562.8h1.1M413.3 554.9h1.1M414.0 572.3h1.1M419.8 531.0h1.1M414.2 565.9h1.1M420.8 553.2h1.1M420.5 537.5h1.1M418.2 567.7h1.1M420.0 564.0h1.1M419.9 541.0h1.1M418.9 562.6h1.1M413.2 544.9h1.1M417.8 565.4h1.1M420.2 519.5h1.1M421.4 566.3h1.1M419.3 554.6h1.1M416.5 536.1h1.1M414.2 526.3h1.1M415.1 523.4h1.1M419.7 574.4h1.1M417.5 521.2h1.1M420.3 556.8h1.1M413.9 542.8h1.1M419.2 557.1h1.1M418.5 572.7h1.1M416.2 574.0h1.1M418.0 543.7h1.1M417.3 517.5h1.1M416.6 567.1h1.1M420.2 573.2h1.1M415.7 537.9h1.1M418.9 530.0h1.1M420.9 571.4h1.1M414.4 521.6h1.1M416.0 552.7h1.1M414.2 573.8h1.1M414.0 539.2h1.1M419.7 560.3h1.1M414.6 534.9h1.1M419.3 545.9h1.1M414.6 553.9h1.1M420.8 560.4h1.1M414.7 572.3h1.1M418.2 516.9h1.1M419.2 562.8h1.1M416.2 527.6h1.1M416.8 546.7h1.1M420.6 569.3h1.1M415.1 534.5h1.1M416.4 559.2h1.1M420.6 541.0h1.1M421.2 566.0h1.1M415.7 548.2h1.1M416.1 537.2h1.1M417.2 548.6h1.1M418.5 559.1h1.1M419.5 556.7h1.1M413.3 565.4h1.1M416.8 544.9h1.1M420.1 559.9h1.1M413.0 564.1h1.1M416.5 572.4h1.1M417.7 553.0h1.1M415.4 540.7h1.1M418.0 544.8h1.1M414.5 529.2h1.1M420.4 555.8h1.1M418.8 569.4h1.1M413.7 551.3h1.1M418.7 534.6h1.1M417.6 533.2h1.1M419.8 528.2h1.1M414.6 503.6h1.1M413.7 538.3h1.1M416.2 527.1h1.1M419.2 552.4h1.1M415.6 546.2h1.1M419.5 524.7h1.1M419.5 518.9h1.1M419.8 511.6h1.1M421.1 566.2h1.1M416.7 550.1h1.1M414.7 550.7h1.1M415.5 546.1h1.1M420.4 543.5h1.1M420.9 566.5h1.1M419.4 566.6h1.1M413.8 529.8h1.1M415.7 556.6h1.1M415.9 551.2h1.1M419.1 510.8h1.1M415.1 521.5h1.1M419.8 564.3h1.1M418.3 521.9h1.1M419.5 539.2h1.1M415.6 540.3h1.1M417.2 565.2h1.1M416.3 551.0h1.1M441.6 505.8h1.1M440.2 502.3h1.1M437.8 504.3h1.1M440.2 506.9h1.1M439.0 506.2h1.1M438.4 506.0h1.1M436.6 505.0h1.1M434.8 502.7h1.1M438.7 503.7h1.1M442.8 502.6h1.1M437.2 505.4h1.1M436.6 506.5h1.1M442.1 505.7h1.1M441.1 506.6h1.1M443.5 505.3h1.1M435.3 502.3h1.1M437.4 503.8h1.1M440.5 505.2h1.1M435.4 507.1h1.1M442.5 504.6h1.1M435.9 504.8h1.1M436.0 504.4h1.1M437.4 502.1h1.1M438.1 502.9h1.1M440.4 506.9h1.1M443.8 505.5h1.1M439.0 505.3h1.1M438.2 506.2h1.1M439.3 503.4h1.1M437.3 505.0h1.1M438.1 506.5h1.1M435.4 505.9h1.1M437.6 504.6h1.1M437.9 503.2h1.1M438.2 505.6h1.1M440.6 507.2h1.1M436.8 503.2h1.1M437.0 506.6h1.1M437.3 507.1h1.1M439.2 502.6h1.1M441.3 505.5h1.1M439.8 502.9h1.1M436.4 505.8h1.1M442.6 503.8h1.1M435.5 507.5h1.1M437.0 507.0h1.1M441.8 505.5h1.1M442.2 506.2h1.1M442.3 506.0h1.1M438.5 505.8h1.1M440.6 506.9h1.1M434.8 503.6h1.1M443.6 506.7h1.1M441.4 506.2h1.1M443.3 506.9h1.1M443.0 505.5h1.1M439.0 505.0h1.1M442.2 506.8h1.1M438.1 507.4h1.1M443.5 506.5h1.1M434.6 558.2h1M443.2 561.3h1M435.0 567.4h1M435.2 509.8h1M443.5 567.3h1M443.0 513.3h1M443.1 515.6h1M434.8 564.7h1M435.0 513.9h1M434.7 514.3h1M443.1 505.5h1M434.6 517.3h1M434.7 547.6h1M443.7 526.0h1M435.1 541.7h1M443.8 550.0h1M443.3 526.7h1M443.7 536.7h1M443.9 544.6h1M443.2 530.6h1M434.4 536.3h1M435.2 514.2h1M435.1 515.3h1M443.8 527.4h1M434.9 535.2h1M434.9 530.5h1M434.7 539.8h1M434.7 524.0h1M435.3 547.9h1M435.2 523.0h1M434.8 546.8h1M434.4 541.5h1M435.3 511.6h1M434.5 541.9h1M435.3 538.2h1M443.4 568.7h1M434.4 545.0h1M435.1 519.5h1M443.8 548.1h1M443.2 550.7h1M447.4 543.5h1.1M452.2 519.8h1.1M450.8 525.0h1.1M447.2 531.2h1.1M451.8 522.6h1.1M451.3 550.7h1.1M446.9 507.4h1.1M449.5 559.2h1.1M451.5 573.6h1.1M453.7 565.9h1.1M451.8 532.1h1.1M451.7 566.0h1.1M446.3 528.5h1.1M446.7 536.8h1.1M450.3 574.5h1.1M453.1 564.9h1.1M448.9 518.2h1.1M450.5 535.8h1.1M453.1 548.0h1.1M453.4 556.9h1.1M449.9 527.0h1.1M448.5 510.0h1.1M452.5 559.1h1.1M449.0 535.2h1.1M452.2 549.1h1.1M452.1 545.9h1.1M449.6 539.2h1.1M447.5 567.1h1.1M451.0 550.7h1.1M449.8 566.4h1.1M452.8 541.8h1.1M452.1 560.4h1.1M447.3 559.3h1.1M450.6 517.6h1.1M452.1 527.4h1.1M449.5 512.9h1.1M452.6 526.9h1.1M451.0 517.1h1.1M453.3 566.6h1.1M453.1 536.9h1.1M448.8 531.9h1.1M446.3 515.7h1.1M447.6 509.0h1.1M451.3 528.2h1.1M447.0 535.3h1.1M450.6 528.0h1.1M447.5 570.3h1.1M453.9 568.9h1.1M451.2 510.2h1.1M450.2 569.4h1.1M451.1 517.3h1.1M446.3 528.2h1.1M451.7 569.1h1.1M446.5 559.1h1.1M453.4 544.7h1.1M448.5 551.5h1.1M448.4 570.3h1.1M450.1 569.0h1.1M446.8 550.5h1.1M446.3 569.1h1.1M447.6 525.5h1.1M449.2 547.6h1.1M446.8 569.4h1.1M447.4 572.6h1.1M446.6 520.2h1.1M452.4 543.1h1.1M453.4 567.5h1.1M453.1 565.0h1.1M445.8 555.3h1.1M452.7 544.2h1.1M449.4 518.5h1.1M449.6 532.4h1.1M453.7 563.0h1.1M449.0 571.8h1.1M452.3 563.9h1.1M452.9 551.9h1.1M447.9 511.8h1.1M445.9 537.2h1.1M448.9 550.4h1.1M445.9 538.7h1.1M451.6 512.6h1.1M448.2 553.6h1.1M450.8 551.1h1.1M450.3 559.4h1.1M451.5 561.4h1.1M452.4 561.1h1.1M451.2 565.1h1.1M448.6 534.8h1.1M446.6 533.7h1.1M449.4 535.7h1.1M451.2 562.9h1.1M447.6 574.5h1.1M450.1 565.8h1.1M449.1 557.0h1.1M446.5 537.9h1.1M450.8 563.0h1.1M448.6 550.6h1.1M447.3 524.2h1.1M447.0 542.6h1.1M451.2 534.7h1.1M449.3 557.3h1.1M447.1 525.4h1.1M447.9 568.0h1.1M451.5 549.6h1.1M449.3 522.1h1.1M447.8 530.8h1.1M447.0 539.9h1.1M446.2 537.8h1.1M453.2 536.3h1.1M448.0 526.8h1.1M449.7 552.3h1.1M451.7 554.3h1.1M447.1 523.2h1.1M450.1 516.7h1.1M447.6 517.0h1.1M448.5 513.8h1.1M447.8 566.8h1.1M450.4 569.0h1.1M450.3 565.1h1.1M446.4 563.5h1.1M446.7 571.9h1.1M450.5 536.8h1.1M453.3 550.3h1.1M451.3 544.5h1.1M450.8 548.6h1.1M447.2 533.4h1.1M447.1 546.4h1.1M448.8 571.8h1.1M450.3 553.7h1.1M447.0 568.0h1.1M450.4 510.8h1.1M453.4 557.3h1.1M447.9 565.2h1.1M449.9 551.9h1.1M447.1 540.9h1.1M446.2 541.9h1.1M452.8 574.4h1.1M447.0 566.6h1.1M449.1 560.3h1.1M451.3 554.7h1.1M449.9 529.9h1.1M447.1 517.1h1.1M446.0 540.4h1.1M452.9 519.9h1.1M447.8 514.6h1.1M445.6 569.4h1.1M451.2 552.4h1.1M446.8 562.4h1.1M452.0 535.5h1.1M452.2 565.9h1.1M453.0 535.4h1.1M450.0 566.0h1.1M453.1 563.2h1.1M448.5 542.7h1.1M447.0 553.5h1.1M450.0 537.9h1.1M447.5 537.2h1.1M451.8 533.7h1.1M451.8 548.5h1.1M450.6 546.3h1.1M446.3 564.0h1.1M452.8 527.7h1.1M449.2 555.3h1.1M451.7 568.6h1.1M453.8 568.9h1.1M452.3 526.9h1.1M452.7 542.2h1.1M451.0 570.4h1.1M451.2 518.2h1.1M448.1 533.9h1.1M451.6 539.0h1.1M451.7 511.9h1.1M448.1 571.0h1.1M446.7 535.4h1.1M451.1 513.7h1.1M452.9 513.3h1.1M450.2 511.6h1.1M447.4 558.5h1.1M450.7 556.5h1.1M447.0 516.0h1.1M450.4 564.1h1.1M447.5 515.8h1.1M451.0 548.9h1.1M451.7 563.1h1.1M449.5 551.0h1.1M448.7 553.1h1.1M451.0 570.1h1.1M446.4 534.3h1.1M449.1 548.5h1.1M452.2 540.0h1.1M453.6 569.7h1.1M448.6 532.3h1.1M448.6 562.2h1.1M450.7 537.7h1.1M447.4 564.9h1.1M445.2 573.8h1.1M448.8 534.8h1.1M451.2 534.6h1.1M453.0 560.9h1.1M450.9 562.2h1.1M446.1 558.9h1.1M450.9 530.6h1.1M447.9 561.9h1.1M451.5 516.8h1.1M451.4 535.0h1.1M450.3 509.7h1.1M451.2 558.4h1.1M451.4 566.7h1.1M452.6 565.7h1.1M449.7 532.8h1.1M450.5 571.5h1.1M450.7 566.3h1.1M450.7 549.1h1.1M449.5 554.3h1.1M451.2 521.3h1.1M445.2 573.7h1.1M448.5 538.6h1.1M446.0 569.0h1.1M453.8 573.8h1.1M451.6 574.6h1.1M445.1 571.5h1.1M452.4 547.3h1.1M453.7 572.1h1.1M447.6 516.1h1.1M450.5 566.2h1.1M448.6 524.5h1.1M452.1 547.2h1.1M446.6 526.4h1.1M450.2 531.2h1.1M451.0 537.8h1.1M452.7 531.5h1.1M447.0 565.1h1.1M447.0 540.2h1.1M449.7 523.6h1.1M449.3 536.5h1.1M450.6 525.6h1.1M449.0 568.8h1.1M447.9 508.6h1.1M447.8 565.2h1.1M447.0 560.7h1.1M448.0 555.0h1.1M449.7 538.0h1.1M446.8 528.2h1.1M447.4 514.9h1.1M447.3 529.4h1.1M448.6 556.0h1.1M451.9 510.1h1.1M446.7 527.0h1.1M448.4 571.0h1.1M453.2 554.2h1.1M450.4 549.7h1.1M450.3 573.2h1.1M446.9 536.7h1.1M447.5 529.9h1.1M451.2 523.6h1.1M453.0 527.7h1.1M446.4 519.4h1.1M449.5 552.3h1.1M453.3 564.1h1.1M450.2 533.2h1.1M449.3 553.0h1.1M453.4 563.6h1.1M445.6 562.1h1.1M451.5 541.2h1.1M447.1 522.7h1.1M451.5 547.5h1.1M446.1 530.8h1.1M448.9 531.5h1.1M449.2 538.4h1.1M447.2 567.2h1.1M448.9 569.2h1.1M451.1 539.8h1.1M451.8 548.7h1.1M451.7 532.5h1.1M445.5 555.9h1.1M453.1 532.4h1.1M447.1 508.8h1.1M449.6 535.4h1.1M446.7 561.7h1.1M447.6 559.0h1.1M448.9 540.1h1.1M446.8 536.6h1.1M446.1 538.7h1.1M451.0 508.1h1.1M452.5 529.1h1.1M447.7 573.9h1.1M452.9 522.3h1.1M452.5 527.3h1.1M450.1 567.3h1.1M447.9 527.9h1.1M451.8 573.8h1.1M452.6 537.1h1.1M452.1 563.4h1.1M445.9 564.2h1.1M450.2 571.8h1.1M446.4 572.1h1.1M451.4 523.9h1.1M452.1 528.0h1.1M446.7 539.5h1.1M449.6 564.1h1.1M447.8 515.2h1.1M447.0 533.5h1.1M447.5 528.3h1.1M449.6 551.3h1.1M447.1 562.1h1.1M451.8 573.5h1.1M449.8 546.0h1.1M449.5 537.8h1.1M450.4 554.8h1.1M446.4 550.2h1.1M447.1 557.9h1.1M449.2 530.2h1.1M451.2 565.9h1.1M445.3 570.4h1.1M449.8 562.4h1.1M447.0 557.1h1.1M448.6 574.1h1.1M452.7 528.6h1.1M447.4 532.3h1.1M450.0 557.3h1.1M452.2 516.8h1.1M452.1 530.7h1.1M452.8 571.3h1.1M452.4 526.1h1.1M451.9 514.3h1.1M446.9 528.2h1.1M447.1 514.4h1.1M451.0 552.7h1.1M448.6 549.2h1.1M445.8 552.7h1.1M452.4 549.6h1.1M448.5 516.4h1.1M451.6 516.7h1.1M445.5 564.8h1.1M446.9 552.2h1.1M446.2 519.0h1.1M446.0 552.3h1.1M448.2 529.4h1.1M449.9 541.2h1.1M452.1 554.7h1.1M451.7 506.9h1.1M451.9 532.1h1.1M449.2 516.0h1.1M450.9 563.3h1.1M451.0 539.0h1.1M449.6 573.6h1.1M448.6 557.5h1.1M446.7 549.4h1.1M448.4 549.5h1.1M448.1 521.1h1.1M449.5 573.7h1.1M451.3 567.9h1.1M446.5 565.1h1.1M450.8 514.5h1.1M449.2 566.5h1.1M452.3 531.8h1.1M451.0 538.7h1.1M451.4 538.9h1.1M448.3 564.2h1.1M446.5 550.9h1.1M448.7 509.6h1.1M445.7 551.7h1.1M452.9 524.5h1.1M446.8 509.0h1.1M447.5 549.1h1.1M448.6 566.4h1.1M447.7 534.3h1.1M452.1 511.2h1.1M446.5 572.4h1.1M449.8 558.5h1.1M453.2 532.3h1.1M453.2 535.5h1.1M446.7 574.4h1.1M448.7 551.5h1.1M450.5 563.7h1.1M446.4 549.5h1.1M449.3 514.1h1.1M449.0 569.6h1.1M451.0 566.7h1.1M451.1 568.9h1.1M450.5 573.2h1.1M452.3 552.2h1.1M445.6 565.4h1.1M448.6 557.3h1.1M451.9 562.7h1.1M447.8 511.6h1.1M448.8 558.3h1.1M448.6 510.4h1.1M447.8 560.5h1.1M448.0 523.7h1.1M448.2 544.3h1.1M447.7 558.8h1.1M452.0 523.9h1.1M449.4 531.3h1.1M446.8 520.1h1.1M452.1 514.6h1.1M448.6 543.1h1.1M450.9 521.7h1.1M448.2 541.2h1.1M447.2 543.8h1.1M449.5 541.5h1.1M451.3 513.7h1.1M451.7 518.1h1.1M451.2 527.8h1.1M450.0 556.2h1.1M446.8 523.7h1.1M446.9 551.8h1.1M452.3 549.3h1.1M446.6 540.8h1.1M459.1 537.7h1.1M456.7 554.6h1.1M458.3 554.3h1.1M462.1 555.4h1.1M462.8 537.2h1.1M462.7 512.1h1.1M464.1 531.2h1.1M457.3 561.7h1.1M464.2 543.9h1.1M458.8 573.9h1.1M457.4 520.6h1.1M458.1 531.6h1.1M457.1 554.1h1.1M460.6 560.8h1.1M461.3 570.4h1.1M458.7 537.8h1.1M463.1 568.5h1.1M457.9 548.4h1.1M456.5 536.7h1.1M462.2 558.8h1.1M462.1 535.8h1.1M461.0 506.1h1.1M456.8 559.1h1.1M459.2 570.9h1.1M463.4 568.4h1.1M458.4 563.8h1.1M460.6 511.4h1.1M458.7 572.3h1.1M459.7 543.3h1.1M462.6 520.9h1.1M459.8 550.5h1.1M457.4 557.4h1.1M462.3 544.1h1.1M459.4 528.7h1.1M460.3 573.3h1.1M462.7 564.9h1.1M458.5 563.0h1.1M462.8 518.0h1.1M460.8 533.3h1.1M463.9 526.4h1.1M460.7 506.7h1.1M461.1 574.6h1.1M462.8 529.5h1.1M460.4 541.6h1.1M457.5 565.2h1.1M457.2 530.0h1.1M458.2 552.0h1.1M462.8 543.3h1.1M456.2 568.1h1.1M462.3 570.3h1.1M461.8 517.2h1.1M463.4 546.5h1.1M462.5 528.4h1.1M457.0 558.1h1.1M457.0 546.8h1.1M456.6 546.7h1.1M457.9 530.5h1.1M462.6 544.8h1.1M457.4 550.2h1.1M457.2 510.0h1.1M461.0 569.5h1.1M458.4 549.8h1.1M464.3 569.1h1.1M459.2 533.6h1.1M457.9 549.3h1.1M460.2 515.2h1.1M457.7 517.5h1.1M463.3 570.5h1.1M462.0 522.1h1.1M463.1 554.6h1.1M463.4 548.0h1.1M458.1 514.4h1.1M457.5 549.8h1.1M462.2 526.4h1.1M458.0 559.7h1.1M456.4 546.5h1.1M463.5 541.0h1.1M456.4 567.3h1.1M457.6 549.1h1.1M463.4 518.7h1.1M456.5 567.9h1.1M461.3 551.2h1.1M460.5 502.4h1.1M457.4 535.5h1.1M458.6 541.2h1.1M460.1 550.0h1.1M463.3 512.6h1.1M458.0 556.2h1.1M457.3 533.6h1.1M459.3 559.4h1.1M458.9 568.4h1.1M459.2 544.7h1.1M459.3 515.5h1.1M458.3 571.0h1.1M457.2 564.0h1.1M460.8 540.3h1.1M456.5 561.7h1.1M458.3 537.9h1.1M463.4 562.5h1.1M461.9 515.8h1.1M457.8 531.9h1.1M461.0 518.6h1.1M458.8 507.7h1.1M463.7 507.9h1.1M461.5 532.4h1.1M461.7 534.1h1.1M462.7 517.0h1.1M458.8 526.3h1.1M462.0 558.7h1.1M460.7 554.6h1.1M458.6 522.0h1.1M457.5 522.0h1.1M459.3 526.2h1.1M461.1 564.5h1.1M458.6 523.8h1.1M462.2 516.5h1.1M463.5 549.8h1.1M460.4 556.4h1.1M457.7 539.3h1.1M461.1 503.1h1.1M460.9 535.6h1.1M457.9 530.0h1.1M457.5 532.7h1.1M460.8 551.9h1.1M459.9 570.9h1.1M460.0 541.3h1.1M463.9 544.9h1.1M458.3 556.0h1.1M461.0 538.7h1.1M463.8 535.1h1.1M463.2 537.2h1.1M457.1 556.2h1.1M460.8 523.0h1.1M459.3 556.3h1.1M460.2 528.6h1.1M459.3 519.1h1.1M456.5 569.1h1.1M459.8 539.8h1.1M460.4 512.7h1.1M460.8 557.1h1.1M458.1 571.4h1.1M457.1 563.2h1.1M456.3 553.0h1.1M464.2 565.6h1.1M456.8 532.6h1.1M460.4 521.9h1.1M464.1 570.9h1.1M457.7 566.8h1.1M458.9 559.5h1.1M461.5 511.1h1.1M464.2 538.3h1.1M459.0 538.7h1.1M457.5 538.4h1.1M464.2 541.9h1.1M463.1 570.6h1.1M459.0 520.7h1.1M457.0 534.8h1.1M463.4 524.3h1.1M459.6 543.5h1.1M462.0 519.8h1.1M457.6 573.6h1.1M462.0 537.5h1.1M456.3 563.2h1.1M457.4 552.7h1.1M462.4 511.8h1.1M459.2 526.3h1.1M461.0 520.6h1.1M463.8 525.6h1.1M462.2 521.6h1.1M463.4 520.5h1.1M461.3 550.6h1.1M463.4 568.0h1.1M458.2 505.8h1.1M458.2 510.7h1.1M462.0 562.4h1.1M459.4 517.4h1.1M460.4 557.5h1.1M463.8 573.0h1.1M460.1 570.5h1.1M457.7 527.2h1.1M459.5 547.4h1.1M463.5 519.9h1.1M462.8 514.8h1.1M458.8 517.8h1.1M463.1 505.5h1.1M458.3 536.8h1.1M459.8 506.1h1.1M459.2 518.0h1.1M458.8 522.0h1.1M460.9 513.6h1.1M461.4 515.9h1.1M457.0 569.2h1.1M458.8 570.1h1.1M460.1 530.5h1.1M462.3 571.2h1.1M457.6 543.0h1.1M459.6 550.4h1.1M462.2 513.2h1.1M461.8 548.7h1.1M461.1 569.3h1.1M461.5 536.0h1.1M457.5 544.8h1.1M461.8 504.9h1.1M461.6 505.8h1.1M464.0 531.2h1.1M457.8 561.5h1.1M460.7 538.8h1.1M464.0 551.3h1.1M457.6 531.2h1.1M458.3 541.4h1.1M464.4 547.5h1.1M457.3 547.3h1.1M462.3 557.1h1.1M457.9 547.0h1.1M461.4 528.8h1.1M457.5 560.4h1.1M457.2 534.0h1.1M461.0 503.9h1.1M463.0 522.2h1.1M459.3 571.2h1.1M456.3 548.2h1.1M459.5 524.8h1.1M463.5 515.1h1.1M460.8 508.4h1.1M464.1 535.0h1.1M464.8 574.2h1.1M457.4 573.7h1.1M459.9 521.7h1.1M463.0 530.0h1.1M472.7 523.5h1.1M471.5 516.4h1.1M470.2 532.3h1.1M467.9 551.3h1.1M469.6 543.5h1.1M470.5 564.4h1.1M469.5 571.2h1.1M470.2 525.5h1.1M473.5 565.0h1.1M472.2 572.4h1.1M472.5 540.4h1.1M470.3 534.3h1.1M471.4 520.5h1.1M471.0 532.8h1.1M470.6 521.8h1.1M469.8 535.5h1.1M468.5 538.8h1.1M468.9 564.0h1.1M468.5 522.3h1.1M467.7 564.9h1.1M472.2 521.0h1.1M467.1 574.5h1.1M467.4 552.4h1.1M473.1 512.5h1.1M468.3 567.1h1.1M470.4 521.8h1.1M471.3 573.8h1.1M471.2 551.0h1.1M472.5 538.9h1.1M467.5 567.1h1.1M471.1 557.8h1.1M471.8 563.2h1.1M474.8 533.6h1.1M473.2 552.3h1.1M474.8 550.9h1.1M468.8 540.2h1.1M473.3 565.6h1.1M467.2 560.5h1.1M469.1 513.9h1.1M474.0 532.4h1.1M467.9 522.1h1.1M474.8 554.4h1.1M468.0 514.8h1.1M469.0 573.7h1.1M471.8 534.7h1.1M474.7 553.2h1.1M468.1 555.7h1.1M469.4 505.5h1.1M471.5 568.8h1.1M468.9 553.9h1.1M469.3 565.9h1.1M467.7 558.4h1.1M469.6 550.7h1.1M470.1 520.3h1.1M468.1 573.8h1.1M472.5 508.8h1.1M473.4 550.2h1.1M469.6 541.0h1.1M474.8 534.9h1.1M473.3 563.9h1.1M468.0 544.7h1.1M468.3 568.1h1.1M469.3 518.0h1.1M473.8 554.2h1.1M469.3 527.7h1.1M472.4 543.0h1.1M469.4 532.6h1.1M467.9 564.8h1.1M473.2 530.6h1.1M467.9 514.8h1.1M474.2 556.3h1.1M470.2 518.3h1.1M472.3 570.9h1.1M469.5 524.1h1.1M470.2 546.0h1.1M470.8 572.3h1.1M475.2 560.2h1.1M471.7 525.9h1.1M473.1 570.5h1.1M470.7 540.5h1.1M469.3 564.9h1.1M470.2 509.3h1.1M470.4 562.4h1.1M473.3 558.3h1.1M472.7 542.6h1.1M473.1 552.8h1.1M468.6 546.6h1.1M469.9 562.7h1.1M471.6 521.0h1.1M472.5 518.8h1.1M467.7 568.1h1.1M470.1 544.0h1.1M468.2 515.6h1.1M472.2 559.4h1.1M473.4 509.4h1.1M468.5 518.9h1.1M472.7 539.5h1.1M468.0 543.1h1.1M469.7 522.4h1.1M469.7 514.9h1.1M467.7 555.6h1.1M469.3 565.7h1.1M471.0 530.3h1.1M474.1 535.7h1.1M473.9 541.8h1.1M472.6 562.9h1.1M473.7 539.1h1.1M469.5 564.3h1.1M471.1 547.3h1.1M468.2 531.8h1.1M474.8 528.6h1.1M470.5 547.6h1.1M468.0 534.3h1.1M473.4 542.1h1.1M467.9 564.1h1.1M470.1 552.4h1.1M471.3 533.1h1.1M469.4 555.4h1.1M473.9 524.3h1.1M473.9 538.1h1.1M468.0 516.6h1.1M468.9 565.6h1.1M472.1 514.8h1.1M472.0 539.7h1.1M469.0 567.0h1.1M473.6 507.3h1.1M472.6 546.3h1.1M467.7 571.6h1.1M473.6 523.7h1.1M469.9 533.3h1.1M475.2 569.4h1.1M473.8 533.9h1.1M472.1 571.7h1.1M471.4 532.7h1.1M470.0 535.2h1.1M470.0 549.5h1.1M475.1 548.5h1.1M473.4 573.4h1.1M472.6 524.9h1.1M469.8 532.3h1.1M475.0 547.5h1.1M470.1 574.5h1.1M472.8 563.2h1.1M471.2 549.9h1.1M474.9 535.8h1.1M474.4 519.4h1.1M472.0 558.9h1.1M473.5 533.3h1.1M469.9 550.6h1.1M474.6 535.4h1.1M468.8 515.4h1.1M472.1 542.4h1.1M471.7 551.3h1.1M471.4 549.1h1.1M468.4 519.4h1.1M474.6 570.6h1.1M468.1 520.4h1.1M468.8 569.4h1.1M469.0 530.3h1.1M470.2 538.9h1.1M474.9 532.8h1.1M471.0 527.2h1.1M471.1 557.1h1.1M468.0 519.6h1.1M474.9 546.7h1.1M472.0 516.4h1.1M471.2 549.9h1.1M469.6 547.0h1.1M474.1 511.0h1.1M474.6 563.8h1.1M472.8 519.0h1.1M473.7 530.3h1.1M470.2 513.3h1.1M470.9 534.6h1.1M468.9 506.2h1.1M474.6 516.0h1.1M475.1 561.7h1.1M469.0 531.6h1.1M471.7 544.0h1.1M470.9 545.8h1.1M472.9 514.1h1.1M473.1 510.9h1.1M470.1 560.0h1.1M468.4 571.4h1.1M470.9 560.8h1.1M470.9 554.9h1.1M471.2 538.7h1.1M470.3 573.5h1.1M472.1 530.5h1.1M467.9 537.4h1.1M468.6 536.3h1.1M471.4 561.6h1.1M472.6 512.3h1.1M474.9 554.4h1.1M471.5 537.7h1.1M471.4 506.7h1.1M471.5 544.9h1.1M475.0 564.6h1.1M473.7 559.1h1.1M468.1 523.9h1.1M468.2 535.3h1.1M470.1 551.9h1.1M469.3 562.3h1.1M469.6 524.2h1.1M468.7 522.0h1.1M474.3 515.9h1.1M472.9 512.5h1.1M468.5 551.4h1.1M468.6 542.8h1.1M470.6 551.3h1.1M473.1 563.0h1.1M474.9 567.3h1.1M469.5 535.8h1.1M475.2 560.1h1.1M470.3 513.3h1.1M471.4 565.4h1.1M468.5 537.5h1.1M471.8 548.9h1.1M471.5 550.6h1.1M475.1 547.9h1.1M471.2 557.0h1.1M468.3 553.6h1.1M473.3 561.8h1.1M472.8 560.8h1.1M472.1 527.1h1.1M473.4 548.7h1.1M472.3 524.4h1.1M468.8 523.7h1.1M469.1 547.7h1.1M483.5 544.5h1.1M480.0 539.9h1.1M484.2 538.3h1.1M479.7 563.7h1.1M479.8 532.3h1.1M478.8 543.6h1.1M481.2 505.8h1.1M481.3 565.9h1.1M478.2 574.6h1.1M485.5 526.5h1.1M478.3 570.9h1.1M482.8 534.1h1.1M482.8 549.3h1.1M484.4 566.5h1.1M481.3 548.6h1.1M482.8 518.4h1.1M479.9 565.3h1.1M483.6 514.9h1.1M484.2 512.6h1.1M479.9 538.3h1.1M485.0 533.6h1.1M484.6 559.9h1.1M480.5 539.1h1.1M480.4 529.5h1.1M479.6 550.4h1.1M479.4 570.7h1.1M480.9 563.0h1.1M482.8 525.7h1.1M485.3 527.4h1.1M484.4 553.6h1.1M484.3 561.0h1.1M479.5 543.6h1.1M480.7 547.0h1.1M483.6 539.9h1.1M484.2 562.2h1.1M481.8 570.5h1.1M485.2 563.0h1.1M483.9 538.7h1.1M482.1 515.8h1.1M480.9 541.7h1.1M485.2 573.4h1.1M479.6 569.8h1.1M479.6 533.8h1.1M482.9 537.0h1.1M481.3 573.3h1.1M483.6 559.6h1.1M480.1 521.6h1.1M479.1 558.6h1.1M479.0 552.5h1.1M485.2 506.3h1.1M483.8 538.1h1.1M484.0 559.8h1.1M486.1 571.0h1.1M478.8 538.7h1.1M483.2 573.2h1.1M484.0 572.3h1.1M479.7 555.1h1.1M480.1 550.3h1.1M484.6 572.7h1.1M479.2 514.5h1.1M478.3 558.5h1.1M478.3 573.1h1.1M485.4 548.1h1.1M485.3 540.4h1.1M479.0 554.0h1.1M483.8 568.5h1.1M482.8 553.6h1.1M479.6 511.4h1.1M479.9 531.7h1.1M485.2 569.0h1.1M479.7 562.8h1.1M478.6 534.5h1.1M485.6 555.4h1.1M481.4 571.5h1.1M482.1 567.6h1.1M480.8 503.0h1.1M482.1 571.4h1.1M483.7 554.0h1.1M479.4 529.0h1.1M481.5 540.5h1.1M482.7 564.7h1.1M478.8 542.2h1.1M480.3 516.2h1.1M478.7 551.2h1.1M481.7 519.6h1.1M482.5 528.1h1.1M480.4 566.9h1.1M480.9 507.7h1.1M482.3 519.9h1.1M482.5 516.9h1.1M483.9 506.1h1.1M483.6 553.3h1.1M486.0 552.4h1.1M479.4 552.9h1.1M481.6 529.3h1.1M483.2 523.8h1.1M479.7 565.0h1.1M481.5 519.4h1.1M482.0 546.4h1.1M479.4 567.3h1.1M484.1 509.9h1.1M480.6 572.9h1.1M484.7 560.0h1.1M480.3 534.9h1.1M479.0 549.2h1.1M485.2 549.0h1.1M477.8 560.3h1.1M479.8 550.2h1.1M482.1 519.0h1.1M482.8 522.0h1.1M482.5 538.9h1.1M478.5 572.9h1.1M480.1 524.3h1.1M485.0 533.2h1.1M483.2 527.8h1.1M480.5 545.1h1.1M483.1 559.4h1.1M485.1 565.6h1.1M479.7 573.5h1.1M480.7 566.0h1.1M479.2 528.6h1.1M480.0 543.7h1.1M480.2 563.3h1.1M479.7 525.7h1.1M482.9 559.6h1.1M480.4 553.6h1.1M482.0 563.0h1.1M482.5 566.2h1.1M482.9 563.7h1.1M478.9 531.4h1.1M484.6 530.2h1.1M484.2 559.1h1.1M482.9 528.4h1.1M480.1 542.9h1.1M480.2 524.7h1.1M481.6 528.3h1.1M481.4 545.3h1.1M481.9 548.0h1.1M483.7 548.6h1.1M484.6 533.2h1.1M485.0 527.4h1.1M478.8 529.3h1.1M482.0 521.3h1.1M480.3 550.2h1.1M482.7 571.4h1.1M483.2 560.8h1.1M482.9 548.7h1.1M479.0 546.9h1.1M484.7 567.2h1.1M479.1 559.4h1.1M478.2 534.1h1.1M482.0 551.7h1.1M485.7 538.3h1.1M484.0 533.9h1.1M482.7 551.3h1.1M483.7 540.0h1.1M478.3 538.6h1.1M485.7 545.7h1.1M478.9 565.1h1.1M478.5 570.2h1.1M483.0 513.7h1.1M482.6 549.7h1.1M480.9 563.8h1.1M479.8 524.0h1.1M479.1 541.8h1.1M479.8 534.9h1.1M485.8 546.0h1.1M479.1 559.1h1.1M485.3 567.1h1.1M481.7 562.9h1.1M483.2 547.6h1.1M484.4 547.2h1.1M485.0 509.8h1.1M483.8 562.7h1.1M485.4 548.4h1.1M482.2 543.2h1.1M482.9 549.5h1.1M486.0 570.7h1.1M481.0 515.1h1.1M486.2 570.2h1.1M479.7 550.2h1.1M478.5 572.7h1.1M482.8 509.6h1.1M481.4 542.5h1.1M483.6 507.4h1.1M481.4 529.8h1.1M480.1 540.0h1.1M482.6 508.7h1.1M481.6 527.0h1.1M483.8 509.3h1.1M486.0 572.8h1.1M483.0 543.8h1.1M480.5 527.3h1.1M484.9 510.2h1.1M480.9 525.5h1.1M483.4 546.4h1.1M482.3 529.3h1.1M480.5 513.2h1.1M479.6 565.0h1.1M481.3 547.3h1.1M479.2 529.3h1.1M480.2 572.8h1.1M482.3 561.8h1.1M485.6 565.5h1.1M478.8 555.4h1.1M481.4 535.1h1.1M484.7 526.4h1.1M482.6 561.0h1.1M483.0 572.9h1.1M483.8 524.2h1.1M484.1 513.3h1.1M480.6 537.5h1.1M484.2 563.3h1.1M479.8 543.4h1.1M481.0 570.8h1.1M486.0 560.3h1.1M486.0 569.7h1.1M484.0 526.2h1.1M483.7 537.8h1.1M480.6 549.0h1.1M482.7 546.7h1.1M479.1 523.6h1.1M481.0 505.6h1.1M482.2 547.6h1.1M485.5 552.7h1.1M480.2 533.8h1.1M479.7 546.5h1.1M479.2 571.5h1.1M480.6 535.9h1.1M480.1 523.9h1.1M481.3 546.0h1.1M480.2 566.0h1.1M481.3 521.2h1.1M481.7 539.6h1.1M482.8 526.8h1.1M484.1 547.0h1.1M482.7 520.6h1.1M478.8 510.8h1.1M483.9 531.3h1.1M481.3 519.7h1.1M480.6 565.9h1.1M483.5 510.1h1.1M482.3 566.2h1.1M483.4 515.4h1.1M483.2 570.2h1.1M485.3 547.1h1.1M480.9 562.1h1.1M483.6 558.5h1.1M479.4 560.9h1.1M481.1 541.9h1.1M482.9 536.3h1.1M478.8 551.4h1.1M484.3 530.3h1.1M479.1 520.0h1.1M478.7 556.6h1.1M484.7 545.7h1.1M483.1 507.4h1.1M480.1 519.4h1.1M482.8 564.0h1.1M479.2 573.3h1.1M479.7 523.1h1.1M478.9 565.5h1.1M483.5 554.1h1.1M485.1 514.3h1.1M486.1 567.4h1.1M478.7 548.6h1.1M480.5 537.4h1.1M482.7 551.9h1.1M483.2 566.0h1.1M480.8 548.6h1.1M480.2 507.4h1.1M478.5 558.7h1.1M478.9 530.2h1.1M485.9 568.7h1.1M483.7 561.8h1.1M486.1 567.0h1.1M480.2 528.6h1.1M479.3 506.5h1.1M478.2 554.9h1.1M483.5 544.7h1.1M483.8 532.6h1.1M479.6 523.1h1.1M480.3 528.9h1.1M480.3 557.7h1.1M478.7 557.4h1.1M480.3 523.3h1.1M480.2 565.4h1.1M479.1 515.6h1.1M479.1 551.1h1.1M478.8 557.2h1.1M484.3 534.4h1.1M478.3 552.8h1.1M484.6 552.9h1.1M482.9 538.2h1.1M481.8 530.0h1.1M479.3 551.1h1.1M484.6 531.0h1.1M480.3 537.5h1.1M484.6 535.6h1.1M478.6 530.8h1.1M483.9 568.6h1.1M482.3 527.0h1.1M479.0 574.4h1.1M483.9 533.5h1.1M483.9 566.4h1.1M479.0 521.0h1.1M481.6 522.5h1.1M482.8 564.2h1.1M482.5 557.1h1.1M484.2 557.9h1.1M483.3 564.5h1.1M482.5 543.1h1.1M480.0 516.9h1.1M483.7 561.3h1.1M482.1 514.0h1.1" stroke="#111" stroke-width="1.1"/>
<path d="M48.3 504.8h3.6M48.8 504.6h2.6M59.4 505.1h3.1M59.5 504.3h2.9M70.0 500.5h3.4M69.8 503.0h3.8M70.2 502.2h3.1M80.9 498.2h3.3M80.6 497.4h3.8M91.9 493.9h3.0M102.3 504.1h3.8M102.6 506.5h3.1M102.6 500.0h3.2M114.0 497.3h1.9M113.5 495.7h2.9M113.5 499.4h2.9M124.1 497.6h3.3M124.4 496.7h2.7M124.3 496.1h2.9M135.5 502.7h2.2M146.4 490.3h2.0M145.8 495.7h3.2M146.4 494.6h1.9M144.4 486.5h6M157.2 501.8h1.9M157.0 490.9h2.3M156.9 484.3h2.5M155.2 483.5h6M167.4 493.6h3.2M167.5 492.6h2.9M166.0 482.5h6M178.7 498.2h2.2M177.9 491.3h3.9M178.3 499.6h3.1M189.0 480.0h3.3M187.6 477.5h6M199.9 493.6h3.1M198.4 490.5h6M210.6 486.3h3.3M210.5 479.8h3.5M210.4 482.6h3.6M209.2 462.5h6M221.1 504.1h3.9M221.2 503.6h3.6M222.0 497.7h2.2M232.5 489.7h2.8M243.8 499.7h1.7M243.9 494.6h1.6M243.3 498.1h2.7M254.0 500.0h2.9M254.1 494.4h2.9M254.6 484.4h1.9M265.3 500.7h2.1M275.5 497.4h3.1M287.1 500.3h1.7M286.8 501.1h2.3M287.1 502.2h1.6M297.1 489.0h3.3M308.3 500.1h2.5M308.3 500.1h2.4M319.5 475.1h1.8M319.4 482.5h1.9M318.9 474.0h3.0M317.3 467.5h6M329.2 500.0h4.0M340.7 470.1h2.5M341.0 462.4h2.0M339.0 456.5h6M351.6 427.2h2.3M352.0 443.0h1.6M350.9 435.5h3.7M349.8 425.5h6M362.6 498.1h1.9M361.7 499.8h3.7M362.8 500.7h1.6M373.3 502.6h2.1M373.4 500.5h2.0M373.5 504.2h1.7M383.7 485.5h3.0M383.3 485.0h3.9M382.2 478.5h6M394.9 503.2h2.3M395.0 502.6h2.0M394.7 502.3h2.5M405.2 486.1h3.3M403.8 485.5h6M416.9 494.5h1.5M416.2 494.9h3.0M415.9 499.1h3.6M426.7 478.4h3.6M427.6 480.7h1.7M427.6 479.7h1.8M425.4 474.5h6M438.0 491.4h2.6M449.0 500.1h2.2M448.6 503.3h3.0M448.2 500.6h3.6M458.9 498.4h3.9M470.4 504.6h2.6M480.7 501.2h3.5M491.3 483.1h4.0M491.8 477.6h3.1M491.5 483.3h3.7M490.3 474.5h6M502.8 489.7h2.7M501.1 487.5h6" stroke="#666" stroke-width="0.8"/>
<path d="M143.4 571.5h8.0M143.4 568.5h8.0M143.4 566.5h8.0M143.4 564.5h8.0M143.4 561.5h8.0M143.4 559.5h8.0M143.4 557.5h8.0M143.4 554.5h8.0M143.4 552.5h8.0M143.4 550.5h8.0M143.4 548.5h8.0M143.4 545.5h8.0M143.4 543.5h8.0M143.4 541.5h8.0M143.4 538.5h8.0M143.4 536.5h8.0M143.4 534.5h8.0M143.4 531.5h8.0M143.4 529.5h8.0M143.4 527.5h8.0M143.4 525.5h8.0M143.4 522.5h8.0M143.4 520.5h8.0M143.4 518.5h8.0M143.4 515.5h8.0M143.4 513.5h8.0M143.4 511.5h8.0M143.4 508.5h8.0M143.4 506.5h8.0M143.4 504.5h8.0M143.4 502.5h8.0M143.4 499.5h8.0M143.4 497.5h8.0M154.2 568.5h8.0M154.2 563.5h8.0M154.2 559.5h8.0M154.2 554.5h8.0M154.2 550.5h8.0M154.2 546.5h8.0M154.2 541.5h8.0M154.2 537.5h8.0M154.2 532.5h8.0M154.2 528.5h8.0M154.2 524.5h8.0M154.2 519.5h8.0M154.2 515.5h8.0M154.2 510.5h8.0M154.2 506.5h8.0M165.0 571.5h8.0M165.0 569.5h8.0M165.0 566.5h8.0M165.0 564.5h8.0M165.0 562.5h8.0M165.0 559.5h8.0M165.0 557.5h8.0M165.0 555.5h8.0M165.0 553.5h8.0M165.0 550.5h8.0M165.0 548.5h8.0M165.0 546.5h8.0M165.0 543.5h8.0M165.0 541.5h8.0M165.0 539.5h8.0M165.0 536.5h8.0M165.0 534.5h8.0M165.0 532.5h8.0M165.0 530.5h8.0M165.0 527.5h8.0M165.0 525.5h8.0M165.0 523.5h8.0M165.0 520.5h8.0M165.0 518.5h8.0M165.0 516.5h8.0M165.0 513.5h8.0M165.0 511.5h8.0M165.0 509.5h8.0M165.0 507.5h8.0M165.0 504.5h8.0M165.0 502.5h8.0M165.0 500.5h8.0M186.6 569.5h8.0M186.6 564.5h8.0M186.6 560.5h8.0M186.6 556.5h8.0M186.6 551.5h8.0M186.6 547.5h8.0M186.6 542.5h8.0M186.6 538.5h8.0M186.6 534.5h8.0M186.6 529.5h8.0M186.6 525.5h8.0M186.6 520.5h8.0M186.6 516.5h8.0M186.6 512.5h8.0M186.6 507.5h8.0M186.6 503.5h8.0M186.6 498.5h8.0M186.6 494.5h8.0M197.4 570.5h8.0M197.4 568.5h8.0M197.4 566.5h8.0M197.4 564.5h8.0M197.4 562.5h8.0M197.4 559.5h8.0M197.4 557.5h8.0M197.4 555.5h8.0M197.4 553.5h8.0M197.4 551.5h8.0M197.4 548.5h8.0M197.4 546.5h8.0M197.4 544.5h8.0M197.4 542.5h8.0M197.4 540.5h8.0M197.4 537.5h8.0M197.4 535.5h8.0M197.4 533.5h8.0M197.4 531.5h8.0M197.4 529.5h8.0M197.4 526.5h8.0M197.4 524.5h8.0M197.4 522.5h8.0M197.4 520.5h8.0M197.4 518.5h8.0M197.4 515.5h8.0M197.4 513.5h8.0M197.4 511.5h8.0M197.4 509.5h8.0M197.4 507.5h8.0M197.4 504.5h8.0M197.4 502.5h8.0M208.2 569.5h8.0M208.2 564.5h8.0M208.2 560.5h8.0M208.2 556.5h8.0M208.2 551.5h8.0M208.2 547.5h8.0M208.2 542.5h8.0M208.2 538.5h8.0M208.2 534.5h8.0M208.2 529.5h8.0M208.2 525.5h8.0M208.2 520.5h8.0M208.2 516.5h8.0M208.2 512.5h8.0M208.2 507.5h8.0M208.2 503.5h8.0M208.2 498.5h8.0M208.2 494.5h8.0M208.2 490.5h8.0M208.2 485.5h8.0M338.0 567.5h8.0M338.0 562.5h8.0M338.0 558.5h8.0M338.0 554.5h8.0M338.0 549.5h8.0M338.0 545.5h8.0M338.0 540.5h8.0M338.0 536.5h8.0M338.0 532.5h8.0M338.0 527.5h8.0M338.0 523.5h8.0M338.0 518.5h8.0M338.0 514.5h8.0M338.0 510.5h8.0M338.0 505.5h8.0M338.0 501.5h8.0M338.0 496.5h8.0M338.0 492.5h8.0M338.0 488.5h8.0M338.0 483.5h8.0M338.0 479.5h8.0M424.4 566.5h8.0M424.4 561.5h8.0M424.4 556.5h8.0M424.4 552.5h8.0M424.4 547.5h8.0M424.4 542.5h8.0M424.4 537.5h8.0M424.4 533.5h8.0M424.4 528.5h8.0M424.4 523.5h8.0M424.4 519.5h8.0M424.4 514.5h8.0M424.4 509.5h8.0M424.4 505.5h8.0M424.4 500.5h8.0M424.4 495.5h8.0M424.4 490.5h8.0M424.4 486.5h8.0M424.4 481.5h8.0M489.3 565.5h8.0M489.3 560.5h8.0M489.3 555.5h8.0M489.3 550.5h8.0M489.3 545.5h8.0M489.3 539.5h8.0M489.3 534.5h8.0M489.3 529.5h8.0M489.3 524.5h8.0M489.3 519.5h8.0M489.3 513.5h8.0M489.3 508.5h8.0M489.3 503.5h8.0M489.3 498.5h8.0M489.3 493.5h8.0M489.3 487.5h8.0" stroke="#8a8a8a" stroke-width="0.9" opacity="0.6"/>
<path d="M88.5 574.1h9.6M88.6 572.3h9.5M88.7 570.5h9.3M88.8 568.7h9.1M88.9 566.9h8.9M89.0 565.1h8.7M89.1 563.3h8.5M89.2 561.5h8.3M89.3 559.7h8.1M89.4 557.9h7.9M89.5 556.1h7.7M111.1 572.0h7.7M111.3 569.0h7.4M111.4 566.0h7.1M111.5 563.0h6.8M111.7 560.0h6.6M111.8 557.0h6.3M111.9 554.0h6.0M145.8 492.7h3.2M144.2 490.4h6.4M145.4 488.1h4.1M153.7 570.5h9.0M153.7 565.5h9.0M153.7 561.5h9.0M153.7 557.5h9.0M153.7 552.5h9.0M153.7 548.5h9.0M153.7 543.5h9.0M153.7 539.5h9.0M153.7 535.5h9.0M153.7 530.5h9.0M153.7 526.5h9.0M153.7 521.5h9.0M153.7 517.5h9.0M153.7 513.5h9.0M153.7 508.5h9.0M153.8 500.6h8.8M156.5 491.8h3.4M154.4 487.4h7.6M164.6 497.7h8.8M166.3 495.4h5.4M165.3 488.5h7.5M186.1 571.5h9.0M186.1 567.5h9.0M186.1 562.5h9.0M186.1 558.5h9.0M186.1 553.5h9.0M186.1 549.5h9.0M186.1 545.5h9.0M186.1 540.5h9.0M186.1 536.5h9.0M186.1 531.5h9.0M186.1 527.5h9.0M186.1 523.5h9.0M186.1 518.5h9.0M186.1 514.5h9.0M186.1 509.5h9.0M186.1 505.5h9.0M186.1 501.5h9.0M186.1 496.5h9.0M188.3 485.7h4.7M198.4 499.8h6.0M198.3 497.6h6.2M207.8 571.5h9.0M207.8 567.5h9.0M207.8 562.5h9.0M207.8 558.5h9.0M207.8 553.5h9.0M207.8 549.5h9.0M207.8 545.5h9.0M207.8 540.5h9.0M207.8 536.5h9.0M207.8 531.5h9.0M207.8 527.5h9.0M207.8 523.5h9.0M207.8 518.5h9.0M207.8 514.5h9.0M207.8 509.5h9.0M207.8 505.5h9.0M207.8 501.5h9.0M207.8 496.5h9.0M207.8 492.5h9.0M207.8 487.5h9.0M208.1 483.2h8.3M208.9 478.8h6.7M210.2 474.4h4.2M207.8 470.0h8.9M209.4 465.6h5.7M315.8 567.5h9.0M315.8 559.5h9.0M315.8 551.5h9.0M315.8 543.5h9.0M315.8 536.5h9.0M315.8 528.5h9.0M315.8 520.5h9.0M315.8 512.5h9.0M315.8 504.5h9.0M315.8 497.5h9.0M315.8 489.5h9.0M337.5 569.5h9.0M337.5 565.5h9.0M337.5 560.5h9.0M337.5 556.5h9.0M337.5 551.5h9.0M337.5 547.5h9.0M337.5 543.5h9.0M337.5 538.5h9.0M337.5 534.5h9.0M337.5 529.5h9.0M337.5 525.5h9.0M337.5 521.5h9.0M337.5 516.5h9.0M337.5 512.5h9.0M337.5 507.5h9.0M337.5 503.5h9.0M337.5 499.5h9.0M337.5 494.5h9.0M337.5 490.5h9.0M337.5 485.5h9.0M337.5 481.5h9.0M339.5 468.9h4.9M337.9 460.1h8.2M348.3 559.5h9.0M348.3 544.5h9.0M348.3 529.5h9.0M348.3 514.5h9.0M348.3 499.5h9.0M348.3 484.5h9.0M348.3 469.5h9.0M350.6 440.5h4.4M380.7 566.5h9.0M380.7 560.5h9.0M380.7 553.5h9.0M380.7 546.5h9.0M380.7 539.5h9.0M380.7 533.5h9.0M380.7 526.5h9.0M380.7 519.5h9.0M380.7 513.5h9.0M380.7 506.5h9.0M380.7 499.5h9.0M380.7 492.5h9.0M380.7 486.5h9.0M402.3 566.5h9.0M402.3 559.5h9.0M402.3 552.5h9.0M402.3 544.5h9.0M402.3 537.5h9.0M402.3 530.5h9.0M402.3 522.5h9.0M402.3 515.5h9.0M402.3 508.5h9.0M402.3 501.5h9.0M402.3 493.5h9.0M423.9 568.5h9.0M423.9 563.5h9.0M423.9 559.5h9.0M423.9 554.5h9.0M423.9 549.5h9.0M423.9 544.5h9.0M423.9 540.5h9.0M423.9 535.5h9.0M423.9 530.5h9.0M423.9 526.5h9.0M423.9 521.5h9.0M423.9 516.5h9.0M423.9 512.5h9.0M423.9 507.5h9.0M423.9 502.5h9.0M423.9 497.5h9.0M423.9 493.5h9.0M423.9 488.5h9.0M423.9 483.5h9.0M426.4 477.3h4.0M488.8 568.5h9.0M488.8 563.5h9.0M488.8 558.5h9.0M488.8 552.5h9.0M488.8 547.5h9.0M488.8 542.5h9.0M488.8 537.5h9.0M488.8 532.5h9.0M488.8 526.5h9.0M488.8 521.5h9.0M488.8 516.5h9.0M488.8 511.5h9.0M488.8 506.5h9.0M488.8 500.5h9.0M488.8 495.5h9.0M488.8 490.5h9.0" stroke="#111" stroke-width="1"/>
<path d="M142.9 572.5h9.0M142.9 569.5h9.0M142.9 567.5h9.0M142.9 565.5h9.0M142.9 563.5h9.0M142.9 560.5h9.0M142.9 558.5h9.0M142.9 556.5h9.0M142.9 553.5h9.0M142.9 551.5h9.0M142.9 549.5h9.0M142.9 546.5h9.0M142.9 544.5h9.0M142.9 542.5h9.0M142.9 540.5h9.0M142.9 537.5h9.0M142.9 535.5h9.0M142.9 533.5h9.0M142.9 530.5h9.0M142.9 528.5h9.0M142.9 526.5h9.0M142.9 523.5h9.0M142.9 521.5h9.0M142.9 519.5h9.0M142.9 517.5h9.0M142.9 514.5h9.0M142.9 512.5h9.0M142.9 510.5h9.0M142.9 507.5h9.0M142.9 505.5h9.0M142.9 503.5h9.0M142.9 500.5h9.0M142.9 498.5h9.0M164.5 572.5h9.0M164.5 570.5h9.0M164.5 568.5h9.0M164.5 565.5h9.0M164.5 563.5h9.0M164.5 561.5h9.0M164.5 558.5h9.0M164.5 556.5h9.0M164.5 554.5h9.0M164.5 551.5h9.0M164.5 549.5h9.0M164.5 547.5h9.0M164.5 545.5h9.0M164.5 542.5h9.0M164.5 540.5h9.0M164.5 538.5h9.0M164.5 535.5h9.0M164.5 533.5h9.0M164.5 531.5h9.0M164.5 528.5h9.0M164.5 526.5h9.0M164.5 524.5h9.0M164.5 522.5h9.0M164.5 519.5h9.0M164.5 517.5h9.0M164.5 515.5h9.0M164.5 512.5h9.0M164.5 510.5h9.0M164.5 508.5h9.0M164.5 505.5h9.0M164.5 503.5h9.0M164.5 501.5h9.0M196.9 572.5h9.0M196.9 569.5h9.0M196.9 567.5h9.0M196.9 565.5h9.0M196.9 563.5h9.0M196.9 560.5h9.0M196.9 558.5h9.0M196.9 556.5h9.0M196.9 554.5h9.0M196.9 552.5h9.0M196.9 549.5h9.0M196.9 547.5h9.0M196.9 545.5h9.0M196.9 543.5h9.0M196.9 541.5h9.0M196.9 538.5h9.0M196.9 536.5h9.0M196.9 534.5h9.0M196.9 532.5h9.0M196.9 530.5h9.0M196.9 527.5h9.0M196.9 525.5h9.0M196.9 523.5h9.0M196.9 521.5h9.0M196.9 519.5h9.0M196.9 516.5h9.0M196.9 514.5h9.0M196.9 512.5h9.0M196.9 510.5h9.0M196.9 508.5h9.0M196.9 505.5h9.0M196.9 503.5h9.0M293.8 571.5h10.0M293.9 568.5h9.7M294.0 565.5h9.4M294.2 562.5h9.2M294.3 559.5h8.9M294.4 556.5h8.6M294.6 553.5h8.3M294.7 550.5h8.1M294.8 547.5h7.8M295.0 544.5h7.5M295.1 541.5h7.2M295.3 538.5h6.9M295.4 535.5h6.7M295.5 532.5h6.4M295.7 529.5h6.1M295.8 526.5h5.8M296.0 523.5h5.5M296.1 520.5h5.2M296.3 517.5h4.9M296.4 514.5h4.6M296.6 511.5h4.3M296.7 508.5h4.0M296.9 505.5h3.7M297.0 502.5h3.5M297.0 499.5h3.5M297.0 496.5h3.5M304.6 571.5h9.9M304.7 568.5h9.7M304.8 566.5h9.4M305.0 563.5h9.2M305.1 561.5h8.9M305.2 558.5h8.6M305.4 555.5h8.4M305.5 553.5h8.1M305.6 550.5h7.8M305.8 548.5h7.6M305.9 545.5h7.3M306.0 542.5h7.0M306.2 540.5h6.7M306.3 537.5h6.5M306.4 535.5h6.2M306.6 532.5h5.9M306.7 529.5h5.6M306.9 527.5h5.3M307.0 524.5h5.1M307.2 522.5h4.8M307.3 519.5h4.5M307.5 516.5h4.2M307.6 514.5h3.9M307.8 511.5h3.6M307.8 509.5h3.5M307.8 506.5h3.5M499.6 568.5h9.0M499.6 565.5h9.0M499.6 563.5h9.0M499.6 560.5h9.0M499.6 557.5h9.0M499.6 554.5h9.0M499.6 552.5h9.0M499.6 549.5h9.0M499.6 546.5h9.0M499.6 544.5h9.0M499.6 541.5h9.0M499.6 538.5h9.0M499.6 536.5h9.0M499.6 533.5h9.0M499.6 530.5h9.0M499.6 527.5h9.0M499.6 525.5h9.0M499.6 522.5h9.0M499.6 519.5h9.0M499.6 517.5h9.0M499.6 514.5h9.0M499.6 511.5h9.0M499.6 509.5h9.0M499.6 506.5h9.0M499.6 503.5h9.0M499.6 500.5h9.0M499.6 498.5h9.0M499.6 495.5h9.0M499.6 492.5h9.0" stroke="#1a1a1a" stroke-width="0.85"/>
</svg></body></html>
